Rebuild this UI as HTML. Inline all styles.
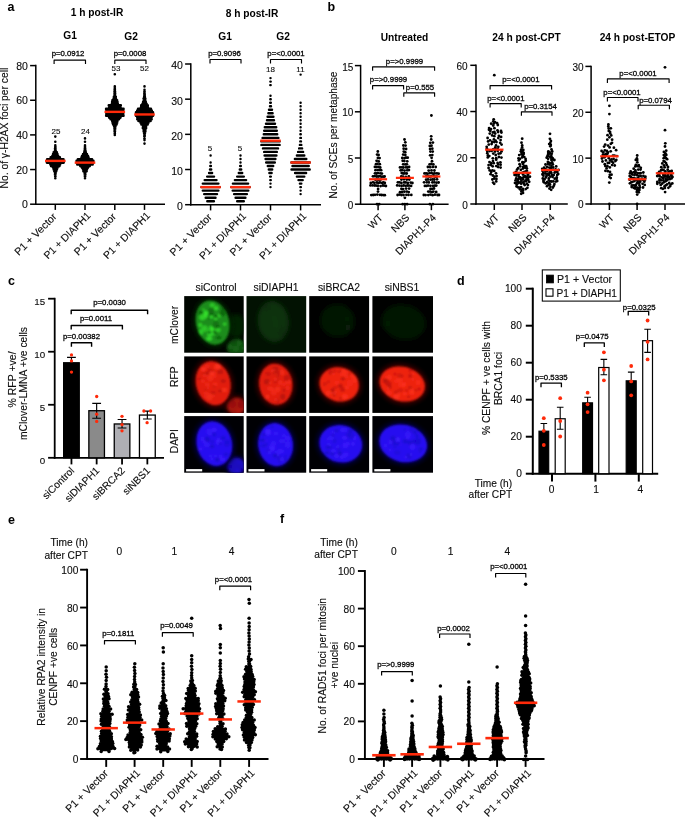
<!DOCTYPE html>
<html lang="en">
<head>
<meta charset="utf-8">
<title>Figure: DIAPH1 and homologous recombination</title>
<style>
html,body{margin:0;padding:0;background:#fff;}
body{width:685px;height:819px;overflow:hidden;}
svg{display:block;font-family:"Liberation Sans", Arial, sans-serif;}
svg text{fill:#0d0d0d;stroke:#0d0d0d;stroke-width:.12px;}
svg text.b{font-weight:700;stroke:none;fill:#000;}
svg text.s{fill:#000;stroke:#000;stroke-width:.28px;}
</style>
</head>
<body>
<svg width="685" height="819" viewBox="0 0 685 819">
<rect width="685" height="819" fill="#fff"/>
<defs>
<filter id="bl1" x="-20%" y="-20%" width="140%" height="140%"><feGaussianBlur stdDeviation="0.85"/></filter>
<filter id="bl2" x="-30%" y="-30%" width="160%" height="160%"><feGaussianBlur stdDeviation="2.2"/></filter>
<filter id="bl3" x="-30%" y="-30%" width="160%" height="160%"><feGaussianBlur stdDeviation="1.5"/></filter>
<clipPath id="t00"><rect x="184.2" y="296.1" width="59.50" height="56.60"/></clipPath>
<clipPath id="t01"><rect x="246.5" y="296.1" width="59.70" height="56.60"/></clipPath>
<clipPath id="t02"><rect x="309.2" y="296.1" width="59.90" height="56.60"/></clipPath>
<clipPath id="t03"><rect x="372.4" y="296.1" width="60.60" height="56.60"/></clipPath>
<clipPath id="t10"><rect x="184.2" y="356.4" width="59.50" height="56.50"/></clipPath>
<clipPath id="t11"><rect x="246.5" y="356.4" width="59.70" height="56.50"/></clipPath>
<clipPath id="t12"><rect x="309.2" y="356.4" width="59.90" height="56.50"/></clipPath>
<clipPath id="t13"><rect x="372.4" y="356.4" width="60.60" height="56.50"/></clipPath>
<clipPath id="t20"><rect x="184.2" y="416.1" width="59.50" height="56.60"/></clipPath>
<clipPath id="t21"><rect x="246.5" y="416.1" width="59.70" height="56.60"/></clipPath>
<clipPath id="t22"><rect x="309.2" y="416.1" width="59.90" height="56.60"/></clipPath>
<clipPath id="t23"><rect x="372.4" y="416.1" width="60.60" height="56.60"/></clipPath>
</defs>
<rect x="184.2" y="296.1" width="59.50" height="56.60" fill="rgb(0,6,0)"/>
<g clip-path="url(#t00)">
<ellipse cx="236" cy="326" rx="9" ry="12" fill="rgb(4,34,4)" filter="url(#bl2)"/>
<clipPath id="e1"><ellipse cx="236.4" cy="347.4" rx="9.5" ry="9.0" transform="rotate(0 236.4 347.4)"/></clipPath>
<g filter="url(#bl3)">
<ellipse cx="236.4" cy="347.4" rx="9.5" ry="9.0" transform="rotate(0 236.4 347.4)" fill="rgb(14,80,14)"/>
<g clip-path="url(#e1)">
<ellipse cx="236.9" cy="353.0" rx="2.0" ry="1.3" fill="rgb(9,58,9)" opacity="0.8"/>
<ellipse cx="243.8" cy="348.0" rx="1.8" ry="1.6" fill="rgb(23,107,23)" opacity="0.8"/>
<ellipse cx="239.3" cy="342.9" rx="2.5" ry="2.8" fill="rgb(22,102,22)" opacity="0.8"/>
<ellipse cx="229.5" cy="346.4" rx="2.6" ry="2.5" fill="rgb(22,104,22)" opacity="0.8"/>
<ellipse cx="235.9" cy="348.7" rx="2.9" ry="3.3" fill="rgb(22,104,22)" opacity="0.8"/>
<ellipse cx="234.7" cy="340.2" rx="2.1" ry="2.4" fill="rgb(9,61,9)" opacity="0.8"/>
</g></g>
<clipPath id="e2"><ellipse cx="212.6" cy="322.6" rx="16.6" ry="22.4" transform="rotate(-14 212.6 322.6)"/></clipPath>
<ellipse cx="212.6" cy="322.6" rx="19.6" ry="25.4" transform="rotate(-14 212.6 322.6)" fill="rgb(3,26,3)" filter="url(#bl2)"/>
<g filter="url(#bl1)">
<ellipse cx="212.6" cy="322.6" rx="16.6" ry="22.4" transform="rotate(-14 212.6 322.6)" fill="rgb(26,140,26)"/>
<g clip-path="url(#e2)">
<ellipse cx="215.8" cy="318.5" rx="1.6" ry="1.3" fill="rgb(63,253,51)" opacity="0.8"/>
<ellipse cx="207.2" cy="315.1" rx="2.3" ry="2.2" fill="rgb(51,217,43)" opacity="0.8"/>
<ellipse cx="201.0" cy="313.5" rx="2.6" ry="3.1" fill="rgb(15,95,15)" opacity="0.8"/>
<ellipse cx="209.9" cy="315.8" rx="2.9" ry="2.8" fill="rgb(15,94,15)" opacity="0.8"/>
<ellipse cx="211.1" cy="314.1" rx="2.9" ry="1.8" fill="rgb(18,109,18)" opacity="0.8"/>
<ellipse cx="221.1" cy="307.6" rx="1.5" ry="1.0" fill="rgb(18,106,18)" opacity="0.8"/>
<ellipse cx="209.2" cy="338.7" rx="3.0" ry="1.9" fill="rgb(56,232,46)" opacity="0.8"/>
<ellipse cx="211.0" cy="311.9" rx="3.0" ry="3.6" fill="rgb(17,103,17)" opacity="0.8"/>
<ellipse cx="211.2" cy="327.5" rx="2.4" ry="2.1" fill="rgb(48,208,41)" opacity="0.8"/>
<ellipse cx="208.3" cy="317.8" rx="1.4" ry="1.6" fill="rgb(18,108,18)" opacity="0.8"/>
<ellipse cx="219.5" cy="315.5" rx="2.2" ry="2.1" fill="rgb(57,234,47)" opacity="0.8"/>
<ellipse cx="202.3" cy="317.1" rx="3.1" ry="3.2" fill="rgb(53,222,44)" opacity="0.8"/>
<ellipse cx="213.2" cy="333.0" rx="3.2" ry="1.9" fill="rgb(55,229,46)" opacity="0.8"/>
<ellipse cx="203.3" cy="330.0" rx="1.3" ry="0.9" fill="rgb(17,100,17)" opacity="0.8"/>
<ellipse cx="205.9" cy="313.3" rx="2.6" ry="2.7" fill="rgb(58,238,48)" opacity="0.8"/>
<ellipse cx="216.0" cy="323.3" rx="2.6" ry="2.3" fill="rgb(19,109,19)" opacity="0.8"/>
<ellipse cx="205.9" cy="316.7" rx="2.0" ry="1.9" fill="rgb(52,218,43)" opacity="0.8"/>
<ellipse cx="209.9" cy="333.7" rx="2.8" ry="2.9" fill="rgb(55,230,46)" opacity="0.8"/>
<ellipse cx="210.1" cy="331.0" rx="2.8" ry="2.4" fill="rgb(48,208,41)" opacity="0.8"/>
<ellipse cx="211.2" cy="316.8" rx="1.9" ry="1.6" fill="rgb(60,245,49)" opacity="0.8"/>
<ellipse cx="216.2" cy="316.4" rx="1.9" ry="1.7" fill="rgb(15,94,15)" opacity="0.8"/>
<ellipse cx="213.4" cy="329.1" rx="2.3" ry="2.5" fill="rgb(60,243,49)" opacity="0.8"/>
<ellipse cx="215.6" cy="331.8" rx="2.8" ry="2.3" fill="rgb(16,96,16)" opacity="0.8"/>
<ellipse cx="217.8" cy="330.1" rx="2.8" ry="2.4" fill="rgb(51,217,43)" opacity="0.8"/>
<ellipse cx="204.7" cy="328.5" rx="3.0" ry="3.6" fill="rgb(45,197,39)" opacity="0.8"/>
<ellipse cx="222.8" cy="309.6" rx="2.1" ry="1.6" fill="rgb(15,93,15)" opacity="0.8"/>
<ellipse cx="212.2" cy="305.2" rx="2.6" ry="2.1" fill="rgb(50,214,42)" opacity="0.8"/>
<ellipse cx="213.1" cy="327.5" rx="2.4" ry="1.5" fill="rgb(60,244,49)" opacity="0.8"/>
<ellipse cx="222.3" cy="313.6" rx="3.1" ry="2.9" fill="rgb(15,94,15)" opacity="0.8"/>
<ellipse cx="224.7" cy="324.0" rx="1.6" ry="1.5" fill="rgb(57,235,47)" opacity="0.8"/>
<ellipse cx="200.9" cy="332.1" rx="2.5" ry="2.8" fill="rgb(49,212,42)" opacity="0.8"/>
<ellipse cx="200.2" cy="325.0" rx="2.0" ry="2.1" fill="rgb(55,228,45)" opacity="0.8"/>
<ellipse cx="218.6" cy="337.5" rx="3.1" ry="1.8" fill="rgb(15,96,15)" opacity="0.8"/>
<ellipse cx="203.5" cy="309.8" rx="1.4" ry="1.3" fill="rgb(50,212,42)" opacity="0.8"/>
<ellipse cx="204.0" cy="328.7" rx="2.8" ry="1.9" fill="rgb(46,200,39)" opacity="0.8"/>
<ellipse cx="215.2" cy="326.1" rx="3.2" ry="2.8" fill="rgb(20,113,20)" opacity="0.8"/>
<ellipse cx="209.4" cy="332.4" rx="2.0" ry="1.6" fill="rgb(17,101,17)" opacity="0.8"/>
<ellipse cx="215.5" cy="332.8" rx="1.5" ry="1.3" fill="rgb(16,98,16)" opacity="0.8"/>
<ellipse cx="217.8" cy="326.5" rx="2.0" ry="1.7" fill="rgb(16,97,16)" opacity="0.8"/>
<ellipse cx="216.1" cy="308.3" rx="2.1" ry="2.2" fill="rgb(54,226,45)" opacity="0.8"/>
</g></g>
</g>
<rect x="246.5" y="296.1" width="59.70" height="56.60" fill="rgb(2,18,2)"/>
<g clip-path="url(#t01)">
<clipPath id="e3"><ellipse cx="273.2" cy="321.5" rx="15.5" ry="20.5" transform="rotate(-8 273.2 321.5)"/></clipPath>
<g filter="url(#bl2)">
<ellipse cx="273.2" cy="321.5" rx="15.5" ry="20.5" transform="rotate(-8 273.2 321.5)" fill="rgb(12,50,12)"/>
<g clip-path="url(#e3)">
<ellipse cx="263.6" cy="328.5" rx="2.2" ry="2.2" fill="rgb(16,59,16)" opacity="0.8"/>
<ellipse cx="280.9" cy="326.4" rx="2.1" ry="1.7" fill="rgb(8,38,8)" opacity="0.8"/>
<ellipse cx="282.6" cy="312.2" rx="1.8" ry="2.0" fill="rgb(15,56,15)" opacity="0.8"/>
<ellipse cx="266.7" cy="307.5" rx="2.8" ry="2.6" fill="rgb(8,39,8)" opacity="0.8"/>
<ellipse cx="281.3" cy="329.6" rx="1.3" ry="0.8" fill="rgb(17,60,17)" opacity="0.8"/>
<ellipse cx="276.7" cy="324.5" rx="3.0" ry="3.3" fill="rgb(15,56,15)" opacity="0.8"/>
<ellipse cx="282.0" cy="332.6" rx="2.6" ry="2.4" fill="rgb(8,38,8)" opacity="0.8"/>
<ellipse cx="274.0" cy="318.3" rx="2.8" ry="1.8" fill="rgb(17,60,17)" opacity="0.8"/>
</g></g>
</g>
<rect x="309.2" y="296.1" width="59.90" height="56.60" fill="rgb(0,1,0)"/>
<g clip-path="url(#t02)">
<clipPath id="e4"><ellipse cx="337.4" cy="320.6" rx="17.5" ry="16.5" transform="rotate(10 337.4 320.6)"/></clipPath>
<g filter="url(#bl2)">
<ellipse cx="337.4" cy="320.6" rx="17.5" ry="16.5" transform="rotate(10 337.4 320.6)" fill="rgb(5,23,5)"/>
<g clip-path="url(#e4)">
<ellipse cx="337.3" cy="307.0" rx="1.4" ry="1.6" fill="rgb(7,30,7)" opacity="0.8"/>
<ellipse cx="337.7" cy="326.5" rx="1.8" ry="1.5" fill="rgb(3,16,3)" opacity="0.8"/>
<ellipse cx="331.1" cy="327.1" rx="2.0" ry="1.8" fill="rgb(6,27,6)" opacity="0.8"/>
<ellipse cx="346.8" cy="319.1" rx="2.7" ry="2.9" fill="rgb(7,30,7)" opacity="0.8"/>
<ellipse cx="332.5" cy="311.6" rx="2.2" ry="1.5" fill="rgb(3,16,3)" opacity="0.8"/>
<ellipse cx="348.0" cy="327.5" rx="3.0" ry="3.1" fill="rgb(7,29,7)" opacity="0.8"/>
<ellipse cx="340.4" cy="327.3" rx="1.7" ry="1.2" fill="rgb(3,18,3)" opacity="0.8"/>
<ellipse cx="332.1" cy="307.8" rx="1.9" ry="2.1" fill="rgb(3,18,3)" opacity="0.8"/>
</g></g>
</g>
<rect x="372.4" y="296.1" width="60.60" height="56.60" fill="rgb(0,1,0)"/>
<g clip-path="url(#t03)">
<clipPath id="e5"><ellipse cx="403.6" cy="322.2" rx="22.5" ry="17.5" transform="rotate(12 403.6 322.2)"/></clipPath>
<g filter="url(#bl2)">
<ellipse cx="403.6" cy="322.2" rx="22.5" ry="17.5" transform="rotate(12 403.6 322.2)" fill="rgb(6,24,6)"/>
<g clip-path="url(#e5)">
<ellipse cx="395.1" cy="318.3" rx="1.7" ry="1.4" fill="rgb(8,29,8)" opacity="0.8"/>
<ellipse cx="409.0" cy="330.1" rx="1.9" ry="2.3" fill="rgb(4,19,4)" opacity="0.8"/>
<ellipse cx="388.9" cy="323.7" rx="2.2" ry="2.0" fill="rgb(4,17,4)" opacity="0.8"/>
<ellipse cx="387.5" cy="323.7" rx="2.9" ry="3.4" fill="rgb(8,30,8)" opacity="0.8"/>
<ellipse cx="394.6" cy="323.6" rx="1.7" ry="2.1" fill="rgb(4,18,4)" opacity="0.8"/>
<ellipse cx="409.3" cy="316.4" rx="1.7" ry="1.7" fill="rgb(7,28,7)" opacity="0.8"/>
<ellipse cx="415.0" cy="311.2" rx="1.8" ry="1.5" fill="rgb(4,19,4)" opacity="0.8"/>
<ellipse cx="402.9" cy="317.9" rx="1.5" ry="1.2" fill="rgb(4,19,4)" opacity="0.8"/>
</g></g>
</g>
<rect x="184.2" y="356.4" width="59.50" height="56.50" fill="rgb(0,0,0)"/>
<g clip-path="url(#t10)">
<clipPath id="e6"><ellipse cx="236.4" cy="406.0" rx="9.5" ry="8.6" transform="rotate(0 236.4 406.0)"/></clipPath>
<ellipse cx="236.4" cy="406.0" rx="12.5" ry="11.6" transform="rotate(0 236.4 406.0)" fill="rgb(40,0,0)" filter="url(#bl2)"/>
<g filter="url(#bl3)">
<ellipse cx="236.4" cy="406.0" rx="9.5" ry="8.6" transform="rotate(0 236.4 406.0)" fill="rgb(165,18,10)"/>
<g clip-path="url(#e6)">
<ellipse cx="230.6" cy="403.1" rx="1.3" ry="1.2" fill="rgb(186,25,14)" opacity="0.8"/>
<ellipse cx="237.9" cy="411.4" rx="3.1" ry="2.1" fill="rgb(188,25,14)" opacity="0.8"/>
<ellipse cx="235.4" cy="411.9" rx="1.5" ry="1.0" fill="rgb(126,12,8)" opacity="0.8"/>
<ellipse cx="241.0" cy="404.4" rx="2.8" ry="2.8" fill="rgb(139,14,8)" opacity="0.8"/>
<ellipse cx="232.3" cy="400.6" rx="1.8" ry="1.8" fill="rgb(125,12,8)" opacity="0.8"/>
<ellipse cx="233.8" cy="405.4" rx="2.2" ry="2.3" fill="rgb(190,26,15)" opacity="0.8"/>
<ellipse cx="233.3" cy="404.7" rx="2.5" ry="2.9" fill="rgb(141,14,8)" opacity="0.8"/>
</g></g>
<clipPath id="e7"><ellipse cx="213.2" cy="383.2" rx="17.2" ry="22.2" transform="rotate(-14 213.2 383.2)"/></clipPath>
<ellipse cx="213.2" cy="383.2" rx="20.2" ry="25.2" transform="rotate(-14 213.2 383.2)" fill="rgb(56,3,0)" filter="url(#bl2)"/>
<g filter="url(#bl1)">
<ellipse cx="213.2" cy="383.2" rx="17.2" ry="22.2" transform="rotate(-14 213.2 383.2)" fill="rgb(226,30,16)"/>
<g clip-path="url(#e7)">
<ellipse cx="210.3" cy="377.7" rx="3.1" ry="3.2" fill="rgb(245,44,25)" opacity="0.8"/>
<ellipse cx="204.3" cy="375.1" rx="2.5" ry="1.8" fill="rgb(245,44,25)" opacity="0.8"/>
<ellipse cx="224.4" cy="389.9" rx="2.7" ry="2.2" fill="rgb(251,49,28)" opacity="0.8"/>
<ellipse cx="212.3" cy="394.8" rx="3.0" ry="2.2" fill="rgb(247,46,26)" opacity="0.8"/>
<ellipse cx="214.2" cy="372.1" rx="1.9" ry="2.1" fill="rgb(248,46,26)" opacity="0.8"/>
<ellipse cx="205.1" cy="397.1" rx="1.5" ry="1.0" fill="rgb(241,42,23)" opacity="0.8"/>
<ellipse cx="215.5" cy="367.4" rx="1.7" ry="1.7" fill="rgb(246,45,25)" opacity="0.8"/>
<ellipse cx="218.3" cy="368.2" rx="2.4" ry="1.7" fill="rgb(246,45,25)" opacity="0.8"/>
<ellipse cx="202.3" cy="380.7" rx="1.7" ry="1.0" fill="rgb(251,49,28)" opacity="0.8"/>
<ellipse cx="217.7" cy="366.4" rx="3.1" ry="2.9" fill="rgb(248,47,26)" opacity="0.8"/>
<ellipse cx="203.6" cy="369.3" rx="2.6" ry="2.3" fill="rgb(252,50,29)" opacity="0.8"/>
<ellipse cx="203.2" cy="373.6" rx="1.3" ry="1.2" fill="rgb(186,21,12)" opacity="0.8"/>
<ellipse cx="203.4" cy="381.3" rx="1.7" ry="1.5" fill="rgb(241,41,23)" opacity="0.8"/>
<ellipse cx="207.3" cy="373.2" rx="2.4" ry="1.6" fill="rgb(180,20,12)" opacity="0.8"/>
<ellipse cx="216.2" cy="368.8" rx="1.4" ry="0.9" fill="rgb(243,43,24)" opacity="0.8"/>
<ellipse cx="199.5" cy="378.8" rx="1.9" ry="1.3" fill="rgb(185,21,12)" opacity="0.8"/>
<ellipse cx="220.3" cy="371.8" rx="3.1" ry="2.5" fill="rgb(184,21,12)" opacity="0.8"/>
<ellipse cx="218.1" cy="366.1" rx="2.9" ry="2.6" fill="rgb(251,49,28)" opacity="0.8"/>
<ellipse cx="215.5" cy="385.7" rx="1.4" ry="1.3" fill="rgb(242,42,24)" opacity="0.8"/>
<ellipse cx="209.8" cy="370.1" rx="2.1" ry="1.8" fill="rgb(194,23,13)" opacity="0.8"/>
<ellipse cx="213.6" cy="371.3" rx="1.6" ry="1.3" fill="rgb(184,21,12)" opacity="0.8"/>
<ellipse cx="205.9" cy="393.2" rx="2.4" ry="1.8" fill="rgb(240,41,23)" opacity="0.8"/>
<ellipse cx="214.3" cy="376.2" rx="2.2" ry="1.5" fill="rgb(243,43,24)" opacity="0.8"/>
<ellipse cx="208.3" cy="387.6" rx="1.4" ry="1.2" fill="rgb(242,42,24)" opacity="0.8"/>
<ellipse cx="215.2" cy="384.2" rx="2.2" ry="1.4" fill="rgb(250,48,27)" opacity="0.8"/>
<ellipse cx="205.6" cy="390.0" rx="1.4" ry="0.9" fill="rgb(196,23,13)" opacity="0.8"/>
<ellipse cx="207.3" cy="384.4" rx="2.5" ry="1.6" fill="rgb(242,42,23)" opacity="0.8"/>
<ellipse cx="212.1" cy="373.4" rx="2.8" ry="2.2" fill="rgb(254,51,29)" opacity="0.8"/>
<ellipse cx="213.2" cy="392.9" rx="2.8" ry="1.9" fill="rgb(193,23,13)" opacity="0.8"/>
<ellipse cx="207.3" cy="366.3" rx="2.4" ry="1.6" fill="rgb(240,41,23)" opacity="0.8"/>
<ellipse cx="214.5" cy="386.4" rx="1.4" ry="1.0" fill="rgb(180,20,12)" opacity="0.8"/>
<ellipse cx="223.2" cy="381.1" rx="2.8" ry="1.8" fill="rgb(179,20,12)" opacity="0.8"/>
<ellipse cx="209.4" cy="397.0" rx="3.1" ry="3.4" fill="rgb(244,44,25)" opacity="0.8"/>
<ellipse cx="220.1" cy="391.0" rx="1.9" ry="1.4" fill="rgb(179,20,12)" opacity="0.8"/>
</g></g>
</g>
<rect x="246.5" y="356.4" width="59.70" height="56.50" fill="rgb(0,0,0)"/>
<g clip-path="url(#t11)">
<clipPath id="e8"><ellipse cx="275.8" cy="384.2" rx="16.6" ry="20.6" transform="rotate(-8 275.8 384.2)"/></clipPath>
<ellipse cx="275.8" cy="384.2" rx="19.6" ry="23.6" transform="rotate(-8 275.8 384.2)" fill="rgb(56,3,0)" filter="url(#bl2)"/>
<g filter="url(#bl1)">
<ellipse cx="275.8" cy="384.2" rx="16.6" ry="20.6" transform="rotate(-8 275.8 384.2)" fill="rgb(226,30,16)"/>
<g clip-path="url(#e8)">
<ellipse cx="275.0" cy="369.2" rx="2.9" ry="2.4" fill="rgb(179,20,12)" opacity="0.8"/>
<ellipse cx="270.0" cy="388.5" rx="2.8" ry="2.0" fill="rgb(244,43,24)" opacity="0.8"/>
<ellipse cx="273.8" cy="370.8" rx="2.7" ry="1.8" fill="rgb(247,46,26)" opacity="0.8"/>
<ellipse cx="275.3" cy="381.6" rx="2.2" ry="1.4" fill="rgb(185,21,12)" opacity="0.8"/>
<ellipse cx="276.8" cy="400.2" rx="2.5" ry="2.2" fill="rgb(181,20,12)" opacity="0.8"/>
<ellipse cx="285.4" cy="375.2" rx="1.9" ry="1.6" fill="rgb(241,41,23)" opacity="0.8"/>
<ellipse cx="280.2" cy="382.6" rx="2.4" ry="2.4" fill="rgb(241,41,23)" opacity="0.8"/>
<ellipse cx="276.0" cy="388.1" rx="1.6" ry="1.0" fill="rgb(187,22,12)" opacity="0.8"/>
<ellipse cx="277.5" cy="401.3" rx="1.7" ry="1.8" fill="rgb(191,22,13)" opacity="0.8"/>
<ellipse cx="265.9" cy="374.7" rx="2.3" ry="1.5" fill="rgb(243,42,24)" opacity="0.8"/>
<ellipse cx="278.0" cy="379.0" rx="1.3" ry="1.5" fill="rgb(197,24,13)" opacity="0.8"/>
<ellipse cx="284.1" cy="390.3" rx="1.7" ry="1.7" fill="rgb(187,21,12)" opacity="0.8"/>
<ellipse cx="276.7" cy="367.9" rx="2.0" ry="1.3" fill="rgb(191,22,13)" opacity="0.8"/>
<ellipse cx="281.4" cy="372.6" rx="2.8" ry="2.5" fill="rgb(248,46,26)" opacity="0.8"/>
<ellipse cx="275.3" cy="379.4" rx="2.0" ry="1.8" fill="rgb(241,41,23)" opacity="0.8"/>
<ellipse cx="275.0" cy="372.9" rx="2.5" ry="2.1" fill="rgb(196,23,13)" opacity="0.8"/>
<ellipse cx="284.0" cy="383.9" rx="2.1" ry="1.5" fill="rgb(243,43,24)" opacity="0.8"/>
<ellipse cx="286.7" cy="377.9" rx="3.0" ry="3.4" fill="rgb(187,21,12)" opacity="0.8"/>
<ellipse cx="266.9" cy="381.7" rx="3.1" ry="2.8" fill="rgb(179,20,12)" opacity="0.8"/>
<ellipse cx="277.1" cy="373.2" rx="3.2" ry="3.7" fill="rgb(194,23,13)" opacity="0.8"/>
<ellipse cx="277.5" cy="389.2" rx="2.7" ry="2.6" fill="rgb(248,46,26)" opacity="0.8"/>
<ellipse cx="287.6" cy="388.0" rx="1.8" ry="1.9" fill="rgb(245,44,25)" opacity="0.8"/>
<ellipse cx="275.6" cy="374.8" rx="1.5" ry="1.0" fill="rgb(246,45,25)" opacity="0.8"/>
<ellipse cx="282.8" cy="396.8" rx="2.6" ry="3.0" fill="rgb(178,20,12)" opacity="0.8"/>
<ellipse cx="271.9" cy="389.2" rx="1.9" ry="1.8" fill="rgb(248,46,26)" opacity="0.8"/>
<ellipse cx="267.5" cy="396.7" rx="1.8" ry="2.0" fill="rgb(253,50,29)" opacity="0.8"/>
<ellipse cx="273.8" cy="392.4" rx="2.8" ry="2.6" fill="rgb(242,42,23)" opacity="0.8"/>
<ellipse cx="270.2" cy="382.6" rx="1.4" ry="1.2" fill="rgb(251,49,28)" opacity="0.8"/>
<ellipse cx="288.2" cy="382.2" rx="3.2" ry="1.9" fill="rgb(243,43,24)" opacity="0.8"/>
<ellipse cx="268.3" cy="388.4" rx="1.4" ry="1.1" fill="rgb(241,42,23)" opacity="0.8"/>
<ellipse cx="276.0" cy="399.9" rx="2.1" ry="1.8" fill="rgb(241,41,23)" opacity="0.8"/>
<ellipse cx="267.7" cy="373.9" rx="3.0" ry="2.1" fill="rgb(196,23,13)" opacity="0.8"/>
</g></g>
</g>
<rect x="309.2" y="356.4" width="59.90" height="56.50" fill="rgb(0,0,0)"/>
<g clip-path="url(#t12)">
<clipPath id="e9"><ellipse cx="339.2" cy="384.4" rx="19.8" ry="17.0" transform="rotate(14 339.2 384.4)"/></clipPath>
<ellipse cx="339.2" cy="384.4" rx="22.8" ry="20.0" transform="rotate(14 339.2 384.4)" fill="rgb(56,3,0)" filter="url(#bl2)"/>
<g filter="url(#bl1)">
<ellipse cx="339.2" cy="384.4" rx="19.8" ry="17.0" transform="rotate(14 339.2 384.4)" fill="rgb(238,34,16)"/>
<g clip-path="url(#e9)">
<ellipse cx="340.0" cy="371.6" rx="2.3" ry="1.7" fill="rgb(191,23,12)" opacity="0.8"/>
<ellipse cx="340.3" cy="386.0" rx="2.5" ry="2.2" fill="rgb(180,20,12)" opacity="0.8"/>
<ellipse cx="331.0" cy="372.4" rx="2.8" ry="2.6" fill="rgb(195,24,13)" opacity="0.8"/>
<ellipse cx="342.6" cy="389.8" rx="2.6" ry="2.2" fill="rgb(191,23,12)" opacity="0.8"/>
<ellipse cx="332.4" cy="392.2" rx="2.8" ry="2.0" fill="rgb(254,51,29)" opacity="0.8"/>
<ellipse cx="334.4" cy="394.0" rx="2.1" ry="2.4" fill="rgb(183,21,12)" opacity="0.8"/>
<ellipse cx="337.0" cy="382.8" rx="2.4" ry="1.8" fill="rgb(250,47,26)" opacity="0.8"/>
<ellipse cx="335.1" cy="371.0" rx="1.5" ry="1.4" fill="rgb(196,24,13)" opacity="0.8"/>
<ellipse cx="352.3" cy="375.8" rx="2.5" ry="1.8" fill="rgb(254,51,29)" opacity="0.8"/>
<ellipse cx="327.8" cy="393.2" rx="1.9" ry="2.2" fill="rgb(254,51,29)" opacity="0.8"/>
<ellipse cx="334.9" cy="392.7" rx="1.8" ry="2.2" fill="rgb(248,45,24)" opacity="0.8"/>
<ellipse cx="346.3" cy="387.7" rx="1.7" ry="1.8" fill="rgb(250,47,26)" opacity="0.8"/>
<ellipse cx="346.2" cy="374.6" rx="2.9" ry="3.4" fill="rgb(248,45,24)" opacity="0.8"/>
<ellipse cx="347.1" cy="387.6" rx="2.2" ry="1.4" fill="rgb(251,47,26)" opacity="0.8"/>
<ellipse cx="340.7" cy="398.5" rx="1.6" ry="1.9" fill="rgb(202,25,13)" opacity="0.8"/>
<ellipse cx="333.0" cy="374.1" rx="1.6" ry="1.1" fill="rgb(252,49,28)" opacity="0.8"/>
<ellipse cx="344.9" cy="396.6" rx="3.0" ry="2.7" fill="rgb(254,51,29)" opacity="0.8"/>
<ellipse cx="335.1" cy="387.6" rx="2.0" ry="1.4" fill="rgb(199,25,13)" opacity="0.8"/>
<ellipse cx="342.9" cy="388.5" rx="2.0" ry="1.4" fill="rgb(205,26,13)" opacity="0.8"/>
<ellipse cx="354.8" cy="379.0" rx="3.2" ry="3.7" fill="rgb(249,46,25)" opacity="0.8"/>
<ellipse cx="325.1" cy="385.5" rx="1.9" ry="2.0" fill="rgb(249,46,25)" opacity="0.8"/>
<ellipse cx="341.7" cy="373.7" rx="2.2" ry="2.0" fill="rgb(250,46,26)" opacity="0.8"/>
<ellipse cx="343.0" cy="378.8" rx="2.4" ry="1.7" fill="rgb(182,21,12)" opacity="0.8"/>
<ellipse cx="354.2" cy="381.4" rx="1.6" ry="1.0" fill="rgb(248,44,24)" opacity="0.8"/>
<ellipse cx="349.9" cy="383.1" rx="3.0" ry="3.3" fill="rgb(246,43,23)" opacity="0.8"/>
<ellipse cx="343.8" cy="370.6" rx="2.6" ry="1.7" fill="rgb(253,49,28)" opacity="0.8"/>
<ellipse cx="328.4" cy="382.0" rx="1.6" ry="1.4" fill="rgb(198,24,13)" opacity="0.8"/>
<ellipse cx="332.6" cy="390.2" rx="2.0" ry="2.3" fill="rgb(178,20,12)" opacity="0.8"/>
<ellipse cx="349.2" cy="374.3" rx="1.8" ry="1.2" fill="rgb(199,25,13)" opacity="0.8"/>
<ellipse cx="324.8" cy="384.3" rx="1.9" ry="2.3" fill="rgb(199,25,13)" opacity="0.8"/>
</g></g>
</g>
<rect x="372.4" y="356.4" width="60.60" height="56.50" fill="rgb(0,0,0)"/>
<g clip-path="url(#t13)">
<clipPath id="e10"><ellipse cx="402.3" cy="384.0" rx="23.0" ry="17.2" transform="rotate(14 402.3 384.0)"/></clipPath>
<ellipse cx="402.3" cy="384.0" rx="26.0" ry="20.2" transform="rotate(14 402.3 384.0)" fill="rgb(56,3,0)" filter="url(#bl2)"/>
<g filter="url(#bl1)">
<ellipse cx="402.3" cy="384.0" rx="23.0" ry="17.2" transform="rotate(14 402.3 384.0)" fill="rgb(238,34,16)"/>
<g clip-path="url(#e10)">
<ellipse cx="389.4" cy="386.9" rx="2.3" ry="2.1" fill="rgb(178,20,12)" opacity="0.8"/>
<ellipse cx="388.0" cy="388.1" rx="1.4" ry="1.5" fill="rgb(253,50,28)" opacity="0.8"/>
<ellipse cx="419.1" cy="388.9" rx="2.0" ry="1.5" fill="rgb(197,24,13)" opacity="0.8"/>
<ellipse cx="384.8" cy="379.9" rx="2.1" ry="1.7" fill="rgb(186,22,12)" opacity="0.8"/>
<ellipse cx="398.0" cy="393.9" rx="2.1" ry="2.3" fill="rgb(252,48,27)" opacity="0.8"/>
<ellipse cx="395.9" cy="381.2" rx="1.7" ry="1.2" fill="rgb(251,48,27)" opacity="0.8"/>
<ellipse cx="411.9" cy="388.1" rx="1.8" ry="2.1" fill="rgb(251,47,26)" opacity="0.8"/>
<ellipse cx="385.9" cy="381.3" rx="2.9" ry="2.5" fill="rgb(180,20,12)" opacity="0.8"/>
<ellipse cx="399.5" cy="379.4" rx="3.0" ry="3.4" fill="rgb(250,47,26)" opacity="0.8"/>
<ellipse cx="400.3" cy="390.2" rx="2.9" ry="1.8" fill="rgb(205,26,13)" opacity="0.8"/>
<ellipse cx="401.3" cy="385.0" rx="2.9" ry="2.4" fill="rgb(248,45,24)" opacity="0.8"/>
<ellipse cx="389.5" cy="383.3" rx="2.5" ry="1.6" fill="rgb(194,23,13)" opacity="0.8"/>
<ellipse cx="418.4" cy="382.4" rx="1.5" ry="1.7" fill="rgb(252,49,28)" opacity="0.8"/>
<ellipse cx="404.0" cy="384.6" rx="2.2" ry="2.4" fill="rgb(254,51,29)" opacity="0.8"/>
<ellipse cx="396.1" cy="392.2" rx="2.4" ry="2.0" fill="rgb(201,25,13)" opacity="0.8"/>
<ellipse cx="415.6" cy="390.2" rx="1.4" ry="1.3" fill="rgb(192,23,12)" opacity="0.8"/>
<ellipse cx="410.4" cy="387.6" rx="2.2" ry="1.7" fill="rgb(191,23,12)" opacity="0.8"/>
<ellipse cx="418.1" cy="382.7" rx="2.3" ry="2.6" fill="rgb(249,45,25)" opacity="0.8"/>
<ellipse cx="411.9" cy="391.9" rx="2.5" ry="2.8" fill="rgb(253,49,28)" opacity="0.8"/>
<ellipse cx="412.8" cy="374.2" rx="1.7" ry="1.3" fill="rgb(250,46,26)" opacity="0.8"/>
<ellipse cx="408.6" cy="396.8" rx="1.7" ry="1.1" fill="rgb(179,20,12)" opacity="0.8"/>
<ellipse cx="412.8" cy="379.2" rx="1.7" ry="1.5" fill="rgb(246,43,23)" opacity="0.8"/>
<ellipse cx="388.8" cy="393.0" rx="2.9" ry="2.4" fill="rgb(249,46,25)" opacity="0.8"/>
<ellipse cx="406.6" cy="390.6" rx="1.8" ry="1.2" fill="rgb(197,24,13)" opacity="0.8"/>
<ellipse cx="404.7" cy="393.6" rx="2.4" ry="1.7" fill="rgb(252,49,27)" opacity="0.8"/>
<ellipse cx="395.0" cy="374.0" rx="1.6" ry="1.5" fill="rgb(196,24,13)" opacity="0.8"/>
<ellipse cx="389.6" cy="377.3" rx="2.1" ry="2.4" fill="rgb(253,50,28)" opacity="0.8"/>
<ellipse cx="387.5" cy="384.7" rx="1.8" ry="1.3" fill="rgb(187,22,12)" opacity="0.8"/>
<ellipse cx="410.3" cy="370.8" rx="2.0" ry="1.4" fill="rgb(193,23,13)" opacity="0.8"/>
<ellipse cx="399.9" cy="375.7" rx="2.7" ry="2.5" fill="rgb(204,26,13)" opacity="0.8"/>
<ellipse cx="410.3" cy="375.9" rx="2.3" ry="2.1" fill="rgb(194,23,13)" opacity="0.8"/>
<ellipse cx="386.9" cy="377.4" rx="1.7" ry="1.6" fill="rgb(252,49,28)" opacity="0.8"/>
<ellipse cx="396.3" cy="397.1" rx="3.0" ry="3.3" fill="rgb(254,51,29)" opacity="0.8"/>
<ellipse cx="402.2" cy="376.1" rx="1.3" ry="1.1" fill="rgb(185,21,12)" opacity="0.8"/>
</g></g>
</g>
<rect x="184.2" y="416.1" width="59.50" height="56.60" fill="rgb(0,0,4)"/>
<g clip-path="url(#t20)">
<clipPath id="e11"><ellipse cx="236.2" cy="466.0" rx="9.0" ry="8.5" transform="rotate(0 236.2 466.0)"/></clipPath>
<ellipse cx="236.2" cy="466.0" rx="12.0" ry="11.5" transform="rotate(0 236.2 466.0)" fill="rgb(0,0,40)" filter="url(#bl2)"/>
<g filter="url(#bl3)">
<ellipse cx="236.2" cy="466.0" rx="9.0" ry="8.5" transform="rotate(0 236.2 466.0)" fill="rgb(26,8,190)"/>
<g clip-path="url(#e11)">
<ellipse cx="230.5" cy="466.7" rx="1.8" ry="1.5" fill="rgb(16,4,154)" opacity="0.8"/>
<ellipse cx="240.6" cy="469.4" rx="1.9" ry="1.6" fill="rgb(18,5,163)" opacity="0.8"/>
<ellipse cx="237.8" cy="470.4" rx="2.4" ry="2.1" fill="rgb(33,12,205)" opacity="0.8"/>
<ellipse cx="237.8" cy="470.9" rx="1.6" ry="1.9" fill="rgb(36,14,213)" opacity="0.8"/>
<ellipse cx="239.9" cy="462.2" rx="2.1" ry="1.6" fill="rgb(34,13,209)" opacity="0.8"/>
</g></g>
<clipPath id="e12"><ellipse cx="214.3" cy="443.6" rx="17.6" ry="22.6" transform="rotate(-14 214.3 443.6)"/></clipPath>
<ellipse cx="214.3" cy="443.6" rx="20.6" ry="25.6" transform="rotate(-14 214.3 443.6)" fill="rgb(3,2,58)" filter="url(#bl2)"/>
<g filter="url(#bl1)">
<ellipse cx="214.3" cy="443.6" rx="17.6" ry="22.6" transform="rotate(-14 214.3 443.6)" fill="rgb(40,12,240)"/>
<g clip-path="url(#e12)">
<ellipse cx="219.1" cy="441.2" rx="3.1" ry="2.3" fill="rgb(57,26,250)" opacity="0.8"/>
<ellipse cx="220.6" cy="441.7" rx="2.4" ry="1.8" fill="rgb(54,23,248)" opacity="0.8"/>
<ellipse cx="227.5" cy="442.0" rx="2.7" ry="2.8" fill="rgb(31,8,215)" opacity="0.8"/>
<ellipse cx="214.3" cy="434.5" rx="2.2" ry="2.3" fill="rgb(29,8,210)" opacity="0.8"/>
<ellipse cx="220.5" cy="457.1" rx="1.8" ry="2.0" fill="rgb(56,25,250)" opacity="0.8"/>
<ellipse cx="214.0" cy="430.0" rx="2.6" ry="2.0" fill="rgb(61,30,253)" opacity="0.8"/>
<ellipse cx="203.3" cy="439.6" rx="2.0" ry="2.0" fill="rgb(54,23,248)" opacity="0.8"/>
<ellipse cx="217.4" cy="459.8" rx="2.3" ry="2.3" fill="rgb(25,6,199)" opacity="0.8"/>
<ellipse cx="212.1" cy="446.5" rx="2.4" ry="1.7" fill="rgb(24,6,197)" opacity="0.8"/>
<ellipse cx="222.4" cy="459.6" rx="2.7" ry="1.9" fill="rgb(60,29,253)" opacity="0.8"/>
<ellipse cx="202.5" cy="439.3" rx="2.4" ry="2.4" fill="rgb(53,23,248)" opacity="0.8"/>
<ellipse cx="218.5" cy="438.9" rx="1.3" ry="1.1" fill="rgb(61,29,253)" opacity="0.8"/>
<ellipse cx="200.0" cy="448.9" rx="2.5" ry="1.5" fill="rgb(60,29,252)" opacity="0.8"/>
<ellipse cx="211.8" cy="459.3" rx="1.6" ry="1.3" fill="rgb(58,27,251)" opacity="0.8"/>
<ellipse cx="219.0" cy="442.5" rx="2.8" ry="2.4" fill="rgb(61,30,253)" opacity="0.8"/>
<ellipse cx="210.1" cy="434.1" rx="1.7" ry="1.4" fill="rgb(61,30,253)" opacity="0.8"/>
<ellipse cx="215.5" cy="455.9" rx="1.5" ry="1.4" fill="rgb(58,27,251)" opacity="0.8"/>
<ellipse cx="207.7" cy="437.7" rx="1.3" ry="1.0" fill="rgb(56,25,250)" opacity="0.8"/>
<ellipse cx="207.3" cy="439.4" rx="2.7" ry="2.9" fill="rgb(26,7,203)" opacity="0.8"/>
<ellipse cx="204.6" cy="441.9" rx="1.9" ry="1.7" fill="rgb(61,29,253)" opacity="0.8"/>
<ellipse cx="226.0" cy="454.4" rx="2.4" ry="1.6" fill="rgb(28,7,208)" opacity="0.8"/>
<ellipse cx="220.4" cy="443.6" rx="2.0" ry="1.8" fill="rgb(31,8,215)" opacity="0.8"/>
<ellipse cx="206.9" cy="444.8" rx="3.1" ry="2.7" fill="rgb(52,22,247)" opacity="0.8"/>
<ellipse cx="226.9" cy="444.1" rx="3.0" ry="3.0" fill="rgb(31,8,216)" opacity="0.8"/>
<ellipse cx="210.8" cy="456.0" rx="1.9" ry="1.8" fill="rgb(53,23,248)" opacity="0.8"/>
<ellipse cx="226.8" cy="453.6" rx="1.4" ry="0.9" fill="rgb(30,8,213)" opacity="0.8"/>
<ellipse cx="213.9" cy="429.6" rx="2.8" ry="1.8" fill="rgb(59,28,252)" opacity="0.8"/>
<ellipse cx="209.4" cy="431.4" rx="3.1" ry="3.1" fill="rgb(52,22,248)" opacity="0.8"/>
<ellipse cx="223.0" cy="438.0" rx="2.7" ry="2.3" fill="rgb(28,7,209)" opacity="0.8"/>
<ellipse cx="212.3" cy="441.7" rx="1.9" ry="1.7" fill="rgb(29,8,212)" opacity="0.8"/>
</g></g>
<rect x="186.1" y="469.1" width="16.1" height="2.3" fill="#fff"/>
</g>
<rect x="246.5" y="416.1" width="59.70" height="56.60" fill="rgb(0,0,4)"/>
<g clip-path="url(#t21)">
<clipPath id="e13"><ellipse cx="275.6" cy="444.6" rx="17.4" ry="21.6" transform="rotate(-8 275.6 444.6)"/></clipPath>
<ellipse cx="275.6" cy="444.6" rx="20.4" ry="24.6" transform="rotate(-8 275.6 444.6)" fill="rgb(3,2,58)" filter="url(#bl2)"/>
<g filter="url(#bl1)">
<ellipse cx="275.6" cy="444.6" rx="17.4" ry="21.6" transform="rotate(-8 275.6 444.6)" fill="rgb(40,12,240)"/>
<g clip-path="url(#e13)">
<ellipse cx="275.2" cy="455.6" rx="2.5" ry="2.2" fill="rgb(24,6,196)" opacity="0.8"/>
<ellipse cx="278.1" cy="454.8" rx="1.4" ry="1.4" fill="rgb(59,27,251)" opacity="0.8"/>
<ellipse cx="275.9" cy="452.4" rx="1.5" ry="1.1" fill="rgb(58,27,251)" opacity="0.8"/>
<ellipse cx="283.9" cy="435.4" rx="1.9" ry="2.0" fill="rgb(52,22,247)" opacity="0.8"/>
<ellipse cx="275.7" cy="433.5" rx="2.7" ry="2.0" fill="rgb(54,24,249)" opacity="0.8"/>
<ellipse cx="279.4" cy="458.1" rx="2.5" ry="2.7" fill="rgb(31,8,215)" opacity="0.8"/>
<ellipse cx="266.6" cy="446.1" rx="2.3" ry="1.9" fill="rgb(54,24,249)" opacity="0.8"/>
<ellipse cx="268.0" cy="432.3" rx="3.0" ry="3.3" fill="rgb(62,30,254)" opacity="0.8"/>
<ellipse cx="272.2" cy="426.9" rx="1.6" ry="1.1" fill="rgb(24,6,198)" opacity="0.8"/>
<ellipse cx="263.7" cy="434.6" rx="1.9" ry="1.6" fill="rgb(24,6,198)" opacity="0.8"/>
<ellipse cx="279.8" cy="451.3" rx="2.9" ry="2.5" fill="rgb(55,25,249)" opacity="0.8"/>
<ellipse cx="282.3" cy="440.6" rx="1.3" ry="1.1" fill="rgb(29,8,211)" opacity="0.8"/>
<ellipse cx="283.4" cy="443.1" rx="1.5" ry="1.1" fill="rgb(30,8,212)" opacity="0.8"/>
<ellipse cx="282.1" cy="441.2" rx="3.0" ry="2.2" fill="rgb(55,25,249)" opacity="0.8"/>
<ellipse cx="264.9" cy="441.0" rx="2.1" ry="2.3" fill="rgb(55,24,249)" opacity="0.8"/>
<ellipse cx="287.3" cy="438.2" rx="2.9" ry="2.1" fill="rgb(55,24,249)" opacity="0.8"/>
<ellipse cx="283.8" cy="459.5" rx="3.0" ry="2.0" fill="rgb(27,7,205)" opacity="0.8"/>
<ellipse cx="272.5" cy="446.5" rx="3.0" ry="3.5" fill="rgb(55,24,249)" opacity="0.8"/>
<ellipse cx="279.9" cy="461.4" rx="1.9" ry="2.2" fill="rgb(31,8,215)" opacity="0.8"/>
<ellipse cx="268.6" cy="451.0" rx="2.5" ry="1.7" fill="rgb(29,8,212)" opacity="0.8"/>
<ellipse cx="273.5" cy="443.3" rx="3.0" ry="2.4" fill="rgb(54,23,248)" opacity="0.8"/>
<ellipse cx="281.9" cy="451.4" rx="2.3" ry="1.8" fill="rgb(56,25,250)" opacity="0.8"/>
<ellipse cx="262.6" cy="446.0" rx="2.1" ry="1.4" fill="rgb(28,7,207)" opacity="0.8"/>
<ellipse cx="282.1" cy="459.4" rx="2.2" ry="2.4" fill="rgb(58,27,251)" opacity="0.8"/>
<ellipse cx="269.3" cy="452.4" rx="2.0" ry="1.8" fill="rgb(58,27,251)" opacity="0.8"/>
<ellipse cx="265.7" cy="444.9" rx="2.2" ry="2.6" fill="rgb(30,8,213)" opacity="0.8"/>
<ellipse cx="285.9" cy="455.9" rx="1.6" ry="1.1" fill="rgb(29,8,212)" opacity="0.8"/>
<ellipse cx="262.5" cy="440.3" rx="2.9" ry="1.8" fill="rgb(24,6,196)" opacity="0.8"/>
<ellipse cx="272.1" cy="448.7" rx="2.7" ry="2.9" fill="rgb(60,29,253)" opacity="0.8"/>
<ellipse cx="287.8" cy="444.5" rx="3.0" ry="3.4" fill="rgb(52,22,248)" opacity="0.8"/>
</g></g>
<rect x="248.4" y="469.1" width="16.1" height="2.3" fill="#fff"/>
</g>
<rect x="309.2" y="416.1" width="59.90" height="56.60" fill="rgb(0,0,4)"/>
<g clip-path="url(#t22)">
<clipPath id="e14"><ellipse cx="340.8" cy="443.8" rx="21.6" ry="18.6" transform="rotate(14 340.8 443.8)"/></clipPath>
<ellipse cx="340.8" cy="443.8" rx="24.6" ry="21.6" transform="rotate(14 340.8 443.8)" fill="rgb(3,2,58)" filter="url(#bl2)"/>
<g filter="url(#bl1)">
<ellipse cx="340.8" cy="443.8" rx="21.6" ry="18.6" transform="rotate(14 340.8 443.8)" fill="rgb(40,12,240)"/>
<g clip-path="url(#e14)">
<ellipse cx="345.3" cy="446.3" rx="2.9" ry="1.8" fill="rgb(59,28,252)" opacity="0.8"/>
<ellipse cx="344.6" cy="456.8" rx="1.4" ry="1.0" fill="rgb(63,31,254)" opacity="0.8"/>
<ellipse cx="336.4" cy="430.7" rx="2.5" ry="1.5" fill="rgb(26,6,202)" opacity="0.8"/>
<ellipse cx="345.6" cy="454.6" rx="3.1" ry="2.1" fill="rgb(59,27,251)" opacity="0.8"/>
<ellipse cx="347.8" cy="435.1" rx="2.3" ry="2.4" fill="rgb(30,8,214)" opacity="0.8"/>
<ellipse cx="346.0" cy="429.9" rx="1.8" ry="2.1" fill="rgb(53,23,248)" opacity="0.8"/>
<ellipse cx="330.2" cy="447.5" rx="2.3" ry="1.8" fill="rgb(29,8,211)" opacity="0.8"/>
<ellipse cx="342.4" cy="429.9" rx="1.9" ry="1.9" fill="rgb(63,31,254)" opacity="0.8"/>
<ellipse cx="331.1" cy="438.2" rx="3.1" ry="2.1" fill="rgb(54,24,249)" opacity="0.8"/>
<ellipse cx="332.4" cy="453.7" rx="2.0" ry="1.7" fill="rgb(26,7,203)" opacity="0.8"/>
<ellipse cx="333.2" cy="433.4" rx="2.5" ry="2.2" fill="rgb(58,27,251)" opacity="0.8"/>
<ellipse cx="344.7" cy="437.8" rx="2.8" ry="1.8" fill="rgb(62,30,253)" opacity="0.8"/>
<ellipse cx="328.6" cy="444.8" rx="2.7" ry="1.8" fill="rgb(55,24,249)" opacity="0.8"/>
<ellipse cx="327.9" cy="439.3" rx="1.3" ry="1.5" fill="rgb(54,23,248)" opacity="0.8"/>
<ellipse cx="327.5" cy="447.1" rx="1.9" ry="1.9" fill="rgb(25,6,200)" opacity="0.8"/>
<ellipse cx="353.0" cy="443.9" rx="2.2" ry="1.8" fill="rgb(61,29,253)" opacity="0.8"/>
<ellipse cx="336.9" cy="455.8" rx="2.4" ry="2.2" fill="rgb(62,30,253)" opacity="0.8"/>
<ellipse cx="338.2" cy="447.1" rx="2.4" ry="1.9" fill="rgb(58,27,251)" opacity="0.8"/>
<ellipse cx="344.4" cy="443.9" rx="1.6" ry="1.5" fill="rgb(62,30,253)" opacity="0.8"/>
<ellipse cx="341.9" cy="457.1" rx="2.5" ry="1.8" fill="rgb(61,29,253)" opacity="0.8"/>
<ellipse cx="347.7" cy="443.7" rx="1.8" ry="2.0" fill="rgb(62,30,253)" opacity="0.8"/>
<ellipse cx="334.6" cy="440.9" rx="2.1" ry="2.4" fill="rgb(31,8,216)" opacity="0.8"/>
<ellipse cx="350.4" cy="431.0" rx="2.6" ry="2.0" fill="rgb(24,6,196)" opacity="0.8"/>
<ellipse cx="338.6" cy="449.0" rx="1.6" ry="1.7" fill="rgb(31,8,215)" opacity="0.8"/>
<ellipse cx="327.1" cy="452.8" rx="2.7" ry="1.7" fill="rgb(25,6,199)" opacity="0.8"/>
<ellipse cx="339.7" cy="453.4" rx="2.1" ry="2.2" fill="rgb(24,6,198)" opacity="0.8"/>
<ellipse cx="354.6" cy="438.1" rx="2.0" ry="2.2" fill="rgb(60,29,253)" opacity="0.8"/>
<ellipse cx="333.3" cy="450.7" rx="2.5" ry="1.5" fill="rgb(62,30,254)" opacity="0.8"/>
<ellipse cx="333.2" cy="434.9" rx="1.7" ry="2.0" fill="rgb(28,7,207)" opacity="0.8"/>
<ellipse cx="351.3" cy="435.8" rx="3.0" ry="3.2" fill="rgb(30,8,214)" opacity="0.8"/>
</g></g>
<rect x="311.1" y="469.1" width="16.1" height="2.3" fill="#fff"/>
</g>
<rect x="372.4" y="416.1" width="60.60" height="56.60" fill="rgb(0,0,4)"/>
<g clip-path="url(#t23)">
<clipPath id="e15"><ellipse cx="403.2" cy="443.4" rx="24.2" ry="18.6" transform="rotate(14 403.2 443.4)"/></clipPath>
<ellipse cx="403.2" cy="443.4" rx="27.2" ry="21.6" transform="rotate(14 403.2 443.4)" fill="rgb(3,2,58)" filter="url(#bl2)"/>
<g filter="url(#bl1)">
<ellipse cx="403.2" cy="443.4" rx="24.2" ry="18.6" transform="rotate(14 403.2 443.4)" fill="rgb(40,12,240)"/>
<g clip-path="url(#e15)">
<ellipse cx="413.4" cy="429.8" rx="2.7" ry="2.7" fill="rgb(54,24,249)" opacity="0.8"/>
<ellipse cx="407.6" cy="456.7" rx="2.4" ry="1.9" fill="rgb(29,7,210)" opacity="0.8"/>
<ellipse cx="417.0" cy="436.1" rx="2.0" ry="2.0" fill="rgb(28,7,208)" opacity="0.8"/>
<ellipse cx="392.3" cy="442.5" rx="3.2" ry="2.4" fill="rgb(25,6,201)" opacity="0.8"/>
<ellipse cx="409.2" cy="456.1" rx="2.9" ry="3.0" fill="rgb(30,8,213)" opacity="0.8"/>
<ellipse cx="390.8" cy="442.0" rx="2.4" ry="2.5" fill="rgb(59,28,252)" opacity="0.8"/>
<ellipse cx="410.0" cy="442.8" rx="2.4" ry="2.3" fill="rgb(26,7,203)" opacity="0.8"/>
<ellipse cx="405.4" cy="441.2" rx="2.8" ry="2.2" fill="rgb(27,7,205)" opacity="0.8"/>
<ellipse cx="397.9" cy="439.6" rx="2.3" ry="2.5" fill="rgb(63,31,254)" opacity="0.8"/>
<ellipse cx="385.6" cy="445.7" rx="2.0" ry="2.3" fill="rgb(53,23,248)" opacity="0.8"/>
<ellipse cx="404.8" cy="429.7" rx="1.5" ry="1.4" fill="rgb(31,8,217)" opacity="0.8"/>
<ellipse cx="398.2" cy="443.7" rx="2.1" ry="1.7" fill="rgb(27,7,204)" opacity="0.8"/>
<ellipse cx="408.0" cy="434.7" rx="3.0" ry="3.6" fill="rgb(52,22,248)" opacity="0.8"/>
<ellipse cx="412.5" cy="446.8" rx="2.8" ry="3.1" fill="rgb(58,27,251)" opacity="0.8"/>
<ellipse cx="393.0" cy="438.4" rx="2.7" ry="2.7" fill="rgb(27,7,205)" opacity="0.8"/>
<ellipse cx="397.4" cy="452.5" rx="3.2" ry="2.3" fill="rgb(31,8,217)" opacity="0.8"/>
<ellipse cx="406.0" cy="457.3" rx="1.7" ry="1.2" fill="rgb(61,29,253)" opacity="0.8"/>
<ellipse cx="416.9" cy="441.9" rx="3.0" ry="3.2" fill="rgb(30,8,213)" opacity="0.8"/>
<ellipse cx="394.9" cy="447.2" rx="1.4" ry="1.1" fill="rgb(27,7,205)" opacity="0.8"/>
<ellipse cx="407.7" cy="437.3" rx="2.1" ry="2.4" fill="rgb(56,25,250)" opacity="0.8"/>
<ellipse cx="395.1" cy="443.4" rx="1.7" ry="2.0" fill="rgb(29,8,211)" opacity="0.8"/>
<ellipse cx="421.0" cy="448.9" rx="2.5" ry="1.6" fill="rgb(29,7,210)" opacity="0.8"/>
<ellipse cx="410.9" cy="454.4" rx="1.3" ry="1.5" fill="rgb(61,29,253)" opacity="0.8"/>
<ellipse cx="414.8" cy="432.0" rx="2.4" ry="2.2" fill="rgb(26,6,202)" opacity="0.8"/>
<ellipse cx="400.3" cy="444.5" rx="1.5" ry="1.0" fill="rgb(57,26,250)" opacity="0.8"/>
<ellipse cx="418.6" cy="441.2" rx="2.7" ry="3.1" fill="rgb(30,8,213)" opacity="0.8"/>
<ellipse cx="413.5" cy="441.3" rx="1.5" ry="1.7" fill="rgb(24,6,198)" opacity="0.8"/>
<ellipse cx="389.8" cy="450.1" rx="1.5" ry="1.6" fill="rgb(57,26,250)" opacity="0.8"/>
<ellipse cx="420.0" cy="451.5" rx="1.4" ry="1.5" fill="rgb(30,8,212)" opacity="0.8"/>
<ellipse cx="411.5" cy="429.3" rx="2.2" ry="2.4" fill="rgb(29,8,211)" opacity="0.8"/>
</g></g>
<rect x="374.3" y="469.1" width="16.1" height="2.3" fill="#fff"/>
</g>
<text x="7.50" y="11.00" font-size="12.5" class="b">a</text>
<text x="327.50" y="11.00" font-size="12.5" class="b">b</text>
<text x="8.00" y="285.40" font-size="12.5" class="b">c</text>
<text x="457.00" y="285.00" font-size="12.5" class="b">d</text>
<text x="8.00" y="524.00" font-size="12.5" class="b">e</text>
<text x="280.00" y="523.00" font-size="12.5" class="b">f</text>
<line x1="35.80" y1="64.85" x2="35.80" y2="204.95" stroke="#000" stroke-width="1.5" stroke-linecap="butt"/>
<line x1="35.05" y1="204.20" x2="165.00" y2="204.20" stroke="#000" stroke-width="1.5" stroke-linecap="butt"/>
<line x1="30.10" y1="204.20" x2="35.80" y2="204.20" stroke="#000" stroke-width="1.5" stroke-linecap="butt"/>
<text x="27.90" y="208.16" font-size="10.5" text-anchor="end">0</text>
<line x1="30.10" y1="169.55" x2="35.80" y2="169.55" stroke="#000" stroke-width="1.5" stroke-linecap="butt"/>
<text x="27.90" y="173.51" font-size="10.5" text-anchor="end">20</text>
<line x1="30.10" y1="134.90" x2="35.80" y2="134.90" stroke="#000" stroke-width="1.5" stroke-linecap="butt"/>
<text x="27.90" y="138.86" font-size="10.5" text-anchor="end">40</text>
<line x1="30.10" y1="100.25" x2="35.80" y2="100.25" stroke="#000" stroke-width="1.5" stroke-linecap="butt"/>
<text x="27.90" y="104.21" font-size="10.5" text-anchor="end">60</text>
<line x1="30.10" y1="65.60" x2="35.80" y2="65.60" stroke="#000" stroke-width="1.5" stroke-linecap="butt"/>
<text x="27.90" y="69.56" font-size="10.5" text-anchor="end">80</text>
<line x1="55.30" y1="204.20" x2="55.30" y2="209.90" stroke="#000" stroke-width="1.5" stroke-linecap="butt"/>
<line x1="85.00" y1="204.20" x2="85.00" y2="209.90" stroke="#000" stroke-width="1.5" stroke-linecap="butt"/>
<line x1="114.80" y1="204.20" x2="114.80" y2="209.90" stroke="#000" stroke-width="1.5" stroke-linecap="butt"/>
<line x1="144.50" y1="204.20" x2="144.50" y2="209.90" stroke="#000" stroke-width="1.5" stroke-linecap="butt"/>
<text x="97.00" y="15.90" font-size="10.2" text-anchor="middle" class="b">1 h post-IR</text>
<text x="70.00" y="38.90" font-size="10.2" text-anchor="middle" class="b">G1</text>
<text x="131.00" y="39.90" font-size="10.2" text-anchor="middle" class="b">G2</text>
<text x="8.40" y="128.10" font-size="10.3" text-anchor="middle" transform="rotate(-90 8.40 128.10)">No. of γ-H2AX foci per cell</text>
<path d="M54.10 64.10V60.10H85.50V64.10" fill="none" stroke="#000" stroke-width="1.15" stroke-linejoin="round"/>
<text x="68.00" y="55.50" font-size="7.8" text-anchor="middle" class="s">p=0.0912</text>
<path d="M114.80 64.10V60.10H146.00V64.10" fill="none" stroke="#000" stroke-width="1.15" stroke-linejoin="round"/>
<text x="130.00" y="55.50" font-size="7.8" text-anchor="middle" class="s">p=0.0008</text>
<text x="56.00" y="133.60" font-size="8" text-anchor="middle">25</text>
<text x="85.50" y="133.60" font-size="8" text-anchor="middle">24</text>
<text x="116.00" y="71.20" font-size="8" text-anchor="middle">53</text>
<text x="144.50" y="71.20" font-size="8" text-anchor="middle">52</text>
<path d="M55.3 178.2h0.01M55.2 176.5h0.22M55.0 174.7h0.53M55.0 173.0h0.65M54.3 171.3h1.93M53.7 169.5h3.22M53.2 167.8h4.28M51.1 166.1h8.34M50.4 164.4h9.72M46.9 162.6h16.80M46.9 160.9h16.80M47.2 159.2h16.25M50.7 157.4h9.16M52.4 155.7h5.71M53.1 154.0h4.33M53.7 152.2h3.17M55.0 150.5h0.68M55.0 148.8h0.50M55.2 147.0h0.29M55.3 145.3h0.01M55.3 141.8h0.01M55.3 136.6h0.01" fill="none" stroke="#000" stroke-width="2.6" stroke-linecap="round"/>
<path d="M85.0 178.2h0.01M84.9 176.5h0.27M84.7 174.7h0.67M84.6 173.0h0.72M83.4 171.3h3.23M83.0 169.5h3.99M82.0 167.8h5.90M80.3 166.1h9.42M77.3 164.4h15.32M76.6 162.6h16.80M76.6 160.9h16.80M77.9 159.2h14.12M81.5 157.4h7.02M82.1 155.7h5.83M83.1 154.0h3.80M84.2 152.2h1.69M84.6 150.5h0.85M84.8 148.8h0.41M84.9 147.0h0.21M85.0 145.3h0.01M85.0 141.8h0.01M85.0 138.4h0.01" fill="none" stroke="#000" stroke-width="2.6" stroke-linecap="round"/>
<path d="M114.8 134.9h0.01M114.7 133.2h0.19M114.6 131.4h0.36M114.5 129.7h0.61M114.4 128.0h0.85M114.1 126.2h1.38M113.1 124.5h3.48M112.5 122.8h4.67M112.2 121.0h5.24M110.6 119.3h8.40M109.1 117.6h11.37M106.2 115.8h17.29M106.3 114.1h17.00M106.3 112.4h17.00M106.3 110.6h17.00M106.1 108.9h17.45M109.2 107.2h11.28M108.8 105.4h12.00M111.9 103.7h5.89M112.1 102.0h5.42M112.4 100.2h4.71M113.6 98.5h2.34M113.9 96.8h1.90M114.5 95.1h0.60M114.5 93.3h0.67M114.5 91.6h0.56M114.6 89.9h0.35M114.7 88.1h0.19M114.8 86.4h0.01M114.8 74.3h0.01" fill="none" stroke="#000" stroke-width="2.6" stroke-linecap="round"/>
<path d="M144.5 140.1h0.01M144.4 138.4h0.18M144.3 136.6h0.35M144.3 134.9h0.50M144.1 133.2h0.83M143.7 131.4h1.67M143.6 129.7h1.87M142.8 128.0h3.33M143.0 126.2h3.07M141.4 124.5h6.27M140.6 122.8h7.81M138.5 121.0h12.05M137.3 119.3h14.33M137.3 117.6h14.31M136.0 115.8h17.00M136.0 114.1h17.00M136.0 112.4h17.00M137.2 110.6h14.57M138.1 108.9h12.83M141.0 107.2h6.93M141.2 105.4h6.57M142.5 103.7h4.08M143.1 102.0h2.74M143.7 100.2h1.65M143.6 98.5h1.71M144.2 96.8h0.64M144.3 95.1h0.49M144.3 93.3h0.35M144.4 91.6h0.21M144.5 89.9h0.01M144.5 143.6h0.01M144.5 86.4h0.01" fill="none" stroke="#000" stroke-width="2.6" stroke-linecap="round"/>
<rect x="45.00" y="159.69" width="20.60" height="2.40" fill="#ff2a0a"/>
<rect x="74.70" y="161.42" width="20.60" height="2.40" fill="#ff2a0a"/>
<rect x="104.50" y="110.66" width="20.60" height="2.40" fill="#ff2a0a"/>
<rect x="134.20" y="113.26" width="20.60" height="2.40" fill="#ff2a0a"/>
<text x="57.30" y="217.40" font-size="10.5" text-anchor="end" transform="rotate(-45 57.30 217.40)">P1 + Vector</text>
<text x="91.40" y="216.10" font-size="10.3" text-anchor="end" transform="rotate(-45 91.40 216.10)">P1 + DIAPH1</text>
<text x="116.80" y="217.40" font-size="10.5" text-anchor="end" transform="rotate(-45 116.80 217.40)">P1 + Vector</text>
<text x="150.90" y="216.10" font-size="10.3" text-anchor="end" transform="rotate(-45 150.90 216.10)">P1 + DIAPH1</text>
<line x1="190.80" y1="63.25" x2="190.80" y2="205.45" stroke="#000" stroke-width="1.5" stroke-linecap="butt"/>
<line x1="190.05" y1="204.70" x2="321.00" y2="204.70" stroke="#000" stroke-width="1.5" stroke-linecap="butt"/>
<line x1="185.10" y1="204.70" x2="190.80" y2="204.70" stroke="#000" stroke-width="1.5" stroke-linecap="butt"/>
<text x="182.90" y="210.06" font-size="10.5" text-anchor="end">0</text>
<line x1="185.10" y1="169.52" x2="190.80" y2="169.52" stroke="#000" stroke-width="1.5" stroke-linecap="butt"/>
<text x="182.90" y="174.88" font-size="10.5" text-anchor="end">10</text>
<line x1="185.10" y1="134.35" x2="190.80" y2="134.35" stroke="#000" stroke-width="1.5" stroke-linecap="butt"/>
<text x="182.90" y="139.71" font-size="10.5" text-anchor="end">20</text>
<line x1="185.10" y1="99.17" x2="190.80" y2="99.17" stroke="#000" stroke-width="1.5" stroke-linecap="butt"/>
<text x="182.90" y="104.53" font-size="10.5" text-anchor="end">30</text>
<line x1="185.10" y1="64.00" x2="190.80" y2="64.00" stroke="#000" stroke-width="1.5" stroke-linecap="butt"/>
<text x="182.90" y="69.36" font-size="10.5" text-anchor="end">40</text>
<line x1="210.60" y1="204.70" x2="210.60" y2="210.40" stroke="#000" stroke-width="1.5" stroke-linecap="butt"/>
<line x1="240.50" y1="204.70" x2="240.50" y2="210.40" stroke="#000" stroke-width="1.5" stroke-linecap="butt"/>
<line x1="270.50" y1="204.70" x2="270.50" y2="210.40" stroke="#000" stroke-width="1.5" stroke-linecap="butt"/>
<line x1="300.60" y1="204.70" x2="300.60" y2="210.40" stroke="#000" stroke-width="1.5" stroke-linecap="butt"/>
<text x="252.00" y="16.50" font-size="10.2" text-anchor="middle" class="b">8 h post-IR</text>
<text x="225.00" y="39.50" font-size="10.2" text-anchor="middle" class="b">G1</text>
<text x="283.00" y="39.50" font-size="10.2" text-anchor="middle" class="b">G2</text>
<path d="M210.00 63.50V59.50H241.00V63.50" fill="none" stroke="#000" stroke-width="1.15" stroke-linejoin="round"/>
<text x="224.50" y="56.20" font-size="7.8" text-anchor="middle" class="s">p=0.9096</text>
<path d="M270.50 63.50V59.50H301.50V63.50" fill="none" stroke="#000" stroke-width="1.15" stroke-linejoin="round"/>
<text x="286.00" y="56.20" font-size="7.8" text-anchor="middle" class="s">p=&lt;0.0001</text>
<text x="210.00" y="150.60" font-size="8" text-anchor="middle">5</text>
<text x="240.00" y="150.60" font-size="8" text-anchor="middle">5</text>
<text x="270.50" y="72.30" font-size="8" text-anchor="middle">18</text>
<text x="300.50" y="72.30" font-size="8" text-anchor="middle">11</text>
<path d="M207.3 201.2h6.60M205.7 197.7h9.80M204.2 194.1h12.80M202.8 190.6h15.60M201.5 187.1h18.20M202.8 183.6h15.60M204.7 180.1h11.80M207.2 176.6h6.80M209.1 173.0h3.00M210.0 169.5h1.20M210.3 166.0h0.60M210.6 162.5h0.01M210.6 155.5h0.01" fill="none" stroke="#000" stroke-width="2.44" stroke-linecap="round"/>
<path d="M237.2 201.2h6.60M235.6 197.7h9.80M234.1 194.1h12.80M232.7 190.6h15.60M231.4 187.1h18.20M232.9 183.6h15.20M234.9 180.1h11.20M237.2 176.6h6.60M238.8 173.0h3.40M239.8 169.5h1.40M240.2 166.0h0.60M240.5 162.5h0.01M240.5 159.0h0.01M240.5 155.5h0.01" fill="none" stroke="#000" stroke-width="2.44" stroke-linecap="round"/>
<path d="M270.5 187.1h0.01M270.5 183.6h0.01M270.3 180.1h0.48M270.1 176.6h0.72M269.4 173.0h2.20M268.8 169.5h3.40M267.8 166.0h5.40M266.2 162.5h8.60M265.6 159.0h9.80M264.6 155.5h11.80M264.2 151.9h12.60M263.0 148.4h15.00M261.4 144.9h18.20M261.4 141.4h18.20M262.6 137.9h15.80M263.8 134.3h13.40M264.2 130.8h12.60M264.8 127.3h11.40M266.0 123.8h9.00M267.0 120.3h7.00M267.6 116.8h5.80M268.4 113.2h4.20M269.0 109.7h3.00M270.0 106.2h1.00M270.2 102.7h0.60M270.3 99.2h0.42M270.5 95.7h0.01M270.3 85.1h0.36M270.4 81.6h0.30M270.5 78.1h0.01" fill="none" stroke="#000" stroke-width="2.44" stroke-linecap="round"/>
<path d="M300.6 194.1h0.01M300.6 190.6h0.01M300.4 187.1h0.48M299.9 183.6h1.40M298.5 180.1h4.20M296.9 176.6h7.40M295.1 173.0h11.00M291.5 169.5h18.20M292.5 166.0h16.20M291.5 162.5h18.20M294.9 159.0h11.40M296.9 155.5h7.40M298.1 151.9h5.00M299.1 148.4h3.00M299.9 144.9h1.40M300.3 141.4h0.66M300.4 137.9h0.48M300.4 134.3h0.36M300.6 130.8h0.01M300.6 127.3h0.01M300.6 123.8h0.01M300.6 120.3h0.01M300.6 116.8h0.01M300.6 113.2h0.01M300.6 109.7h0.01M300.6 106.2h0.01M300.6 102.7h0.01M300.6 74.6h0.01" fill="none" stroke="#000" stroke-width="2.44" stroke-linecap="round"/>
<rect x="200.40" y="185.91" width="20.40" height="2.40" fill="#ff2a0a"/>
<rect x="230.30" y="185.91" width="20.40" height="2.40" fill="#ff2a0a"/>
<rect x="260.30" y="139.48" width="20.40" height="2.40" fill="#ff2a0a"/>
<rect x="290.40" y="161.29" width="20.40" height="2.40" fill="#ff2a0a"/>
<text x="212.60" y="217.90" font-size="10.5" text-anchor="end" transform="rotate(-45 212.60 217.90)">P1 + Vector</text>
<text x="246.90" y="216.60" font-size="10.3" text-anchor="end" transform="rotate(-45 246.90 216.60)">P1 + DIAPH1</text>
<text x="272.50" y="217.90" font-size="10.5" text-anchor="end" transform="rotate(-45 272.50 217.90)">P1 + Vector</text>
<text x="307.00" y="216.60" font-size="10.3" text-anchor="end" transform="rotate(-45 307.00 216.60)">P1 + DIAPH1</text>
<text x="337.40" y="135.00" font-size="10.2" text-anchor="middle" transform="rotate(-90 337.40 135.00)">No. of SCEs per metaphase</text>
<line x1="360.60" y1="64.85" x2="360.60" y2="204.95" stroke="#000" stroke-width="1.5" stroke-linecap="butt"/>
<line x1="359.85" y1="204.20" x2="448.60" y2="204.20" stroke="#000" stroke-width="1.5" stroke-linecap="butt"/>
<line x1="354.90" y1="204.20" x2="360.60" y2="204.20" stroke="#000" stroke-width="1.5" stroke-linecap="butt"/>
<text x="353.30" y="208.78" font-size="10" text-anchor="end">0</text>
<line x1="354.90" y1="158.00" x2="360.60" y2="158.00" stroke="#000" stroke-width="1.5" stroke-linecap="butt"/>
<text x="353.30" y="162.58" font-size="10" text-anchor="end">5</text>
<line x1="354.90" y1="111.80" x2="360.60" y2="111.80" stroke="#000" stroke-width="1.5" stroke-linecap="butt"/>
<text x="353.30" y="116.38" font-size="10" text-anchor="end">10</text>
<line x1="378.10" y1="204.20" x2="378.10" y2="210.20" stroke="#000" stroke-width="1.5" stroke-linecap="butt"/>
<line x1="404.90" y1="204.20" x2="404.90" y2="210.20" stroke="#000" stroke-width="1.5" stroke-linecap="butt"/>
<line x1="431.40" y1="204.20" x2="431.40" y2="210.20" stroke="#000" stroke-width="1.5" stroke-linecap="butt"/>
<line x1="354.90" y1="65.60" x2="360.60" y2="65.60" stroke="#000" stroke-width="1.5" stroke-linecap="butt"/>
<text x="353.30" y="70.50" font-size="10" text-anchor="end">15</text>
<text x="404.50" y="40.50" font-size="10.2" text-anchor="middle" class="b">Untreated</text>
<path d="M372.60 70.80V66.80H434.60V70.80" fill="none" stroke="#000" stroke-width="1.15" stroke-linejoin="round"/>
<text x="404.50" y="63.50" font-size="7.8" text-anchor="middle" class="s">p=&gt;0.9999</text>
<path d="M372.60 89.60V85.60H403.60V89.60" fill="none" stroke="#000" stroke-width="1.15" stroke-linejoin="round"/>
<text x="388.50" y="82.30" font-size="7.8" text-anchor="middle" class="s">p=&gt;0.9999</text>
<path d="M403.80 96.80V92.80H434.60V96.80" fill="none" stroke="#000" stroke-width="1.15" stroke-linejoin="round"/>
<text x="420.00" y="89.50" font-size="7.8" text-anchor="middle" class="s">p=0.555</text>
<g fill="#000">
<circle cx="383.1" cy="176.7" r="1.4"/><circle cx="377.9" cy="185.8" r="1.4"/><circle cx="376.9" cy="182.5" r="1.4"/><circle cx="379.8" cy="176.2" r="1.4"/><circle cx="378.0" cy="191.6" r="1.4"/><circle cx="380.7" cy="179.6" r="1.4"/><circle cx="375.5" cy="179.8" r="1.4"/><circle cx="375.0" cy="173.3" r="1.4"/><circle cx="373.0" cy="182.3" r="1.4"/><circle cx="384.8" cy="195.2" r="1.4"/><circle cx="377.5" cy="163.9" r="1.4"/><circle cx="385.9" cy="186.0" r="1.4"/><circle cx="375.0" cy="194.8" r="1.4"/><circle cx="378.7" cy="161.4" r="1.4"/><circle cx="380.4" cy="173.3" r="1.4"/><circle cx="378.4" cy="167.0" r="1.4"/><circle cx="374.8" cy="185.5" r="1.4"/><circle cx="377.6" cy="170.1" r="1.4"/><circle cx="382.9" cy="185.5" r="1.4"/><circle cx="378.2" cy="176.5" r="1.4"/><circle cx="384.8" cy="182.9" r="1.4"/><circle cx="374.7" cy="176.2" r="1.4"/><circle cx="378.6" cy="155.0" r="1.4"/><circle cx="377.9" cy="158.0" r="1.4"/><circle cx="377.3" cy="194.6" r="1.4"/><circle cx="381.9" cy="173.6" r="1.4"/><circle cx="377.8" cy="151.5" r="1.4"/><circle cx="372.7" cy="185.4" r="1.4"/><circle cx="371.3" cy="195.1" r="1.4"/><circle cx="376.5" cy="167.1" r="1.4"/><circle cx="381.1" cy="170.2" r="1.4"/><circle cx="377.3" cy="179.5" r="1.4"/><circle cx="378.1" cy="173.1" r="1.4"/><circle cx="380.2" cy="167.5" r="1.4"/><circle cx="381.6" cy="195.0" r="1.4"/><circle cx="374.5" cy="182.8" r="1.4"/><circle cx="379.8" cy="164.2" r="1.4"/><circle cx="376.0" cy="164.2" r="1.4"/><circle cx="379.9" cy="182.5" r="1.4"/><circle cx="382.0" cy="182.9" r="1.4"/><circle cx="376.6" cy="160.8" r="1.4"/><circle cx="380.6" cy="186.1" r="1.4"/><circle cx="375.5" cy="170.2" r="1.4"/><circle cx="378.1" cy="188.9" r="1.4"/><circle cx="379.6" cy="158.1" r="1.4"/><circle cx="374.9" cy="166.9" r="1.4"/><circle cx="370.5" cy="185.4" r="1.4"/><circle cx="373.0" cy="176.3" r="1.4"/><circle cx="377.1" cy="154.6" r="1.4"/><circle cx="381.4" cy="176.7" r="1.4"/><circle cx="379.9" cy="194.8" r="1.4"/><circle cx="376.6" cy="176.5" r="1.4"/><circle cx="379.3" cy="170.1" r="1.4"/><circle cx="379.0" cy="179.8" r="1.4"/><circle cx="370.8" cy="182.9" r="1.4"/><circle cx="376.5" cy="173.5" r="1.4"/><circle cx="373.2" cy="195.0" r="1.4"/><circle cx="383.3" cy="195.1" r="1.4"/><circle cx="384.6" cy="176.5" r="1.4"/><circle cx="378.4" cy="183.0" r="1.4"/><circle cx="384.4" cy="185.6" r="1.4"/><circle cx="376.4" cy="185.6" r="1.4"/><circle cx="383.4" cy="182.4" r="1.4"/><circle cx="377.0" cy="204.2" r="1.4"/><circle cx="379.2" cy="204.2" r="1.4"/>
</g>
<g fill="#000">
<circle cx="408.5" cy="194.9" r="1.4"/><circle cx="404.9" cy="197.8" r="1.4"/><circle cx="400.7" cy="170.3" r="1.4"/><circle cx="403.1" cy="176.7" r="1.4"/><circle cx="407.2" cy="161.3" r="1.4"/><circle cx="403.7" cy="185.5" r="1.4"/><circle cx="406.8" cy="179.5" r="1.4"/><circle cx="407.7" cy="157.7" r="1.4"/><circle cx="403.2" cy="173.5" r="1.4"/><circle cx="409.0" cy="185.6" r="1.4"/><circle cx="403.5" cy="195.0" r="1.4"/><circle cx="403.4" cy="167.5" r="1.4"/><circle cx="403.1" cy="189.1" r="1.4"/><circle cx="400.0" cy="192.2" r="1.4"/><circle cx="405.9" cy="167.3" r="1.4"/><circle cx="405.3" cy="155.0" r="1.4"/><circle cx="407.5" cy="185.5" r="1.4"/><circle cx="409.1" cy="188.6" r="1.4"/><circle cx="407.8" cy="182.9" r="1.4"/><circle cx="411.1" cy="185.9" r="1.4"/><circle cx="402.3" cy="158.0" r="1.4"/><circle cx="403.8" cy="151.6" r="1.4"/><circle cx="408.9" cy="170.1" r="1.4"/><circle cx="406.9" cy="164.3" r="1.4"/><circle cx="408.7" cy="192.1" r="1.4"/><circle cx="404.1" cy="182.4" r="1.4"/><circle cx="401.4" cy="183.0" r="1.4"/><circle cx="405.5" cy="145.6" r="1.4"/><circle cx="406.7" cy="173.5" r="1.4"/><circle cx="401.4" cy="179.6" r="1.4"/><circle cx="405.3" cy="164.4" r="1.4"/><circle cx="404.4" cy="191.7" r="1.4"/><circle cx="401.3" cy="176.4" r="1.4"/><circle cx="406.4" cy="194.8" r="1.4"/><circle cx="397.2" cy="185.4" r="1.4"/><circle cx="410.7" cy="182.6" r="1.4"/><circle cx="397.9" cy="182.3" r="1.4"/><circle cx="401.4" cy="188.8" r="1.4"/><circle cx="399.4" cy="185.6" r="1.4"/><circle cx="406.1" cy="188.6" r="1.4"/><circle cx="404.3" cy="161.0" r="1.4"/><circle cx="400.0" cy="167.4" r="1.4"/><circle cx="404.0" cy="179.3" r="1.4"/><circle cx="411.3" cy="194.9" r="1.4"/><circle cx="402.3" cy="170.2" r="1.4"/><circle cx="405.9" cy="176.8" r="1.4"/><circle cx="405.3" cy="142.3" r="1.4"/><circle cx="402.1" cy="192.0" r="1.4"/><circle cx="405.7" cy="182.4" r="1.4"/><circle cx="401.4" cy="195.0" r="1.4"/><circle cx="409.1" cy="167.0" r="1.4"/><circle cx="406.1" cy="149.0" r="1.4"/><circle cx="403.2" cy="164.3" r="1.4"/><circle cx="401.6" cy="185.9" r="1.4"/><circle cx="407.4" cy="167.5" r="1.4"/><circle cx="404.6" cy="170.6" r="1.4"/><circle cx="409.3" cy="179.5" r="1.4"/><circle cx="402.7" cy="160.8" r="1.4"/><circle cx="403.4" cy="145.5" r="1.4"/><circle cx="408.8" cy="176.4" r="1.4"/><circle cx="404.5" cy="139.5" r="1.4"/><circle cx="406.8" cy="191.6" r="1.4"/><circle cx="401.8" cy="167.3" r="1.4"/><circle cx="406.1" cy="157.7" r="1.4"/><circle cx="403.7" cy="148.7" r="1.4"/><circle cx="399.5" cy="182.3" r="1.4"/><circle cx="404.8" cy="173.4" r="1.4"/><circle cx="407.1" cy="170.3" r="1.4"/><circle cx="401.7" cy="173.1" r="1.4"/><circle cx="405.2" cy="152.2" r="1.4"/><circle cx="399.5" cy="194.6" r="1.4"/><circle cx="397.6" cy="195.0" r="1.4"/><circle cx="403.2" cy="154.6" r="1.4"/><circle cx="412.4" cy="183.0" r="1.4"/><circle cx="405.7" cy="185.8" r="1.4"/><circle cx="404.5" cy="158.1" r="1.4"/><circle cx="402.7" cy="204.2" r="1.4"/><circle cx="404.9" cy="204.2" r="1.4"/><circle cx="407.1" cy="204.2" r="1.4"/>
</g>
<g fill="#000">
<circle cx="432.0" cy="161.2" r="1.4"/><circle cx="430.5" cy="189.0" r="1.4"/><circle cx="429.6" cy="176.7" r="1.4"/><circle cx="432.9" cy="142.6" r="1.4"/><circle cx="427.9" cy="167.0" r="1.4"/><circle cx="430.6" cy="179.7" r="1.4"/><circle cx="424.9" cy="185.9" r="1.4"/><circle cx="432.2" cy="188.8" r="1.4"/><circle cx="431.5" cy="170.4" r="1.4"/><circle cx="424.1" cy="182.3" r="1.4"/><circle cx="433.4" cy="164.4" r="1.4"/><circle cx="426.8" cy="182.3" r="1.4"/><circle cx="430.1" cy="149.0" r="1.4"/><circle cx="430.1" cy="191.6" r="1.4"/><circle cx="434.8" cy="185.7" r="1.4"/><circle cx="432.7" cy="151.6" r="1.4"/><circle cx="437.0" cy="179.3" r="1.4"/><circle cx="434.3" cy="179.5" r="1.4"/><circle cx="431.9" cy="192.1" r="1.4"/><circle cx="432.9" cy="185.8" r="1.4"/><circle cx="430.4" cy="194.6" r="1.4"/><circle cx="434.7" cy="173.4" r="1.4"/><circle cx="428.3" cy="191.6" r="1.4"/><circle cx="436.2" cy="192.0" r="1.4"/><circle cx="439.0" cy="195.0" r="1.4"/><circle cx="432.3" cy="155.1" r="1.4"/><circle cx="426.1" cy="179.7" r="1.4"/><circle cx="431.6" cy="157.8" r="1.4"/><circle cx="437.5" cy="195.0" r="1.4"/><circle cx="430.4" cy="151.6" r="1.4"/><circle cx="430.4" cy="185.8" r="1.4"/><circle cx="431.2" cy="139.5" r="1.4"/><circle cx="430.2" cy="155.3" r="1.4"/><circle cx="432.4" cy="182.4" r="1.4"/><circle cx="429.6" cy="164.4" r="1.4"/><circle cx="428.9" cy="182.4" r="1.4"/><circle cx="435.7" cy="167.0" r="1.4"/><circle cx="431.5" cy="145.7" r="1.4"/><circle cx="428.7" cy="170.6" r="1.4"/><circle cx="424.5" cy="173.4" r="1.4"/><circle cx="426.1" cy="173.4" r="1.4"/><circle cx="430.3" cy="142.8" r="1.4"/><circle cx="428.1" cy="185.6" r="1.4"/><circle cx="438.6" cy="182.5" r="1.4"/><circle cx="429.8" cy="145.9" r="1.4"/><circle cx="433.4" cy="191.6" r="1.4"/><circle cx="433.6" cy="176.2" r="1.4"/><circle cx="430.2" cy="167.2" r="1.4"/><circle cx="429.7" cy="173.2" r="1.4"/><circle cx="426.2" cy="176.3" r="1.4"/><circle cx="434.4" cy="170.5" r="1.4"/><circle cx="434.3" cy="182.3" r="1.4"/><circle cx="436.9" cy="176.6" r="1.4"/><circle cx="436.8" cy="173.4" r="1.4"/><circle cx="433.2" cy="173.7" r="1.4"/><circle cx="431.6" cy="173.1" r="1.4"/><circle cx="434.9" cy="194.7" r="1.4"/><circle cx="432.6" cy="179.5" r="1.4"/><circle cx="431.2" cy="136.3" r="1.4"/><circle cx="425.6" cy="195.1" r="1.4"/><circle cx="432.3" cy="148.7" r="1.4"/><circle cx="432.6" cy="195.2" r="1.4"/><circle cx="431.4" cy="164.0" r="1.4"/><circle cx="428.0" cy="179.5" r="1.4"/><circle cx="428.1" cy="176.3" r="1.4"/><circle cx="436.3" cy="185.6" r="1.4"/><circle cx="438.6" cy="173.7" r="1.4"/><circle cx="423.8" cy="195.0" r="1.4"/><circle cx="426.5" cy="185.9" r="1.4"/><circle cx="432.9" cy="166.9" r="1.4"/><circle cx="435.3" cy="176.7" r="1.4"/><circle cx="431.2" cy="176.3" r="1.4"/><circle cx="434.0" cy="188.5" r="1.4"/><circle cx="427.6" cy="173.7" r="1.4"/><circle cx="428.3" cy="195.1" r="1.4"/><circle cx="436.5" cy="182.7" r="1.4"/><circle cx="429.9" cy="204.2" r="1.4"/><circle cx="432.9" cy="204.2" r="1.4"/><circle cx="431.4" cy="115.5" r="1.4"/>
</g>
<rect x="369.10" y="178.15" width="18.00" height="2.20" fill="#ff2a0a"/>
<rect x="395.90" y="176.77" width="18.00" height="2.20" fill="#ff2a0a"/>
<rect x="422.40" y="175.38" width="18.00" height="2.20" fill="#ff2a0a"/>
<text x="383.40" y="218.20" font-size="10.2" text-anchor="end" transform="rotate(-45 383.40 218.20)">WT</text>
<text x="410.20" y="218.20" font-size="10.2" text-anchor="end" transform="rotate(-45 410.20 218.20)">NBS</text>
<text x="436.70" y="218.20" font-size="10.2" text-anchor="end" transform="rotate(-45 436.70 218.20)">DIAPH1-P4</text>
<line x1="476.00" y1="64.55" x2="476.00" y2="204.75" stroke="#000" stroke-width="1.5" stroke-linecap="butt"/>
<line x1="475.25" y1="204.00" x2="567.80" y2="204.00" stroke="#000" stroke-width="1.5" stroke-linecap="butt"/>
<line x1="470.30" y1="204.00" x2="476.00" y2="204.00" stroke="#000" stroke-width="1.5" stroke-linecap="butt"/>
<text x="467.70" y="208.58" font-size="10" text-anchor="end">0</text>
<line x1="470.30" y1="157.77" x2="476.00" y2="157.77" stroke="#000" stroke-width="1.5" stroke-linecap="butt"/>
<text x="467.70" y="162.35" font-size="10" text-anchor="end">20</text>
<line x1="470.30" y1="111.53" x2="476.00" y2="111.53" stroke="#000" stroke-width="1.5" stroke-linecap="butt"/>
<text x="467.70" y="116.11" font-size="10" text-anchor="end">40</text>
<line x1="470.30" y1="65.30" x2="476.00" y2="65.30" stroke="#000" stroke-width="1.5" stroke-linecap="butt"/>
<text x="467.70" y="69.88" font-size="10" text-anchor="end">60</text>
<line x1="494.30" y1="204.00" x2="494.30" y2="210.00" stroke="#000" stroke-width="1.5" stroke-linecap="butt"/>
<line x1="522.00" y1="204.00" x2="522.00" y2="210.00" stroke="#000" stroke-width="1.5" stroke-linecap="butt"/>
<line x1="550.30" y1="204.00" x2="550.30" y2="210.00" stroke="#000" stroke-width="1.5" stroke-linecap="butt"/>
<text x="526.50" y="40.50" font-size="10.2" text-anchor="middle" class="b">24 h post-CPT</text>
<path d="M490.10 89.60V85.60H551.60V89.60" fill="none" stroke="#000" stroke-width="1.15" stroke-linejoin="round"/>
<text x="520.90" y="82.30" font-size="7.8" text-anchor="middle" class="s">p=&lt;0.0001</text>
<path d="M490.10 107.60V103.60H521.20V107.60" fill="none" stroke="#000" stroke-width="1.15" stroke-linejoin="round"/>
<text x="505.90" y="101.40" font-size="7.8" text-anchor="middle" class="s">p=&lt;0.0001</text>
<path d="M521.40 115.80V111.80H552.00V115.80" fill="none" stroke="#000" stroke-width="1.15" stroke-linejoin="round"/>
<text x="540.50" y="108.50" font-size="7.8" text-anchor="middle" class="s">p=0.3154</text>
<g fill="#000">
<circle cx="500.6" cy="164.7" r="1.4"/><circle cx="493.0" cy="161.1" r="1.4"/><circle cx="494.6" cy="176.6" r="1.4"/><circle cx="496.4" cy="179.0" r="1.4"/><circle cx="489.5" cy="151.0" r="1.4"/><circle cx="486.9" cy="148.6" r="1.4"/><circle cx="493.3" cy="121.3" r="1.4"/><circle cx="498.3" cy="146.8" r="1.4"/><circle cx="488.8" cy="144.6" r="1.4"/><circle cx="496.0" cy="173.3" r="1.4"/><circle cx="495.0" cy="122.1" r="1.4"/><circle cx="501.1" cy="136.9" r="1.4"/><circle cx="497.5" cy="130.3" r="1.4"/><circle cx="486.7" cy="146.8" r="1.4"/><circle cx="495.3" cy="147.3" r="1.4"/><circle cx="492.8" cy="175.5" r="1.4"/><circle cx="491.6" cy="144.0" r="1.4"/><circle cx="500.4" cy="162.3" r="1.4"/><circle cx="494.3" cy="178.5" r="1.4"/><circle cx="492.4" cy="170.4" r="1.4"/><circle cx="493.9" cy="139.4" r="1.4"/><circle cx="497.8" cy="125.1" r="1.4"/><circle cx="491.6" cy="150.9" r="1.4"/><circle cx="497.6" cy="162.9" r="1.4"/><circle cx="494.3" cy="136.2" r="1.4"/><circle cx="494.2" cy="170.9" r="1.4"/><circle cx="497.8" cy="150.8" r="1.4"/><circle cx="498.2" cy="167.0" r="1.4"/><circle cx="497.7" cy="149.1" r="1.4"/><circle cx="491.0" cy="165.0" r="1.4"/><circle cx="487.9" cy="155.5" r="1.4"/><circle cx="495.4" cy="149.1" r="1.4"/><circle cx="489.5" cy="162.1" r="1.4"/><circle cx="498.1" cy="132.0" r="1.4"/><circle cx="494.2" cy="183.8" r="1.4"/><circle cx="493.7" cy="119.3" r="1.4"/><circle cx="500.6" cy="140.1" r="1.4"/><circle cx="490.6" cy="174.2" r="1.4"/><circle cx="501.4" cy="157.6" r="1.4"/><circle cx="490.3" cy="130.9" r="1.4"/><circle cx="488.1" cy="141.4" r="1.4"/><circle cx="487.3" cy="153.2" r="1.4"/><circle cx="491.0" cy="129.1" r="1.4"/><circle cx="492.8" cy="158.3" r="1.4"/><circle cx="493.2" cy="149.5" r="1.4"/><circle cx="494.4" cy="131.9" r="1.4"/><circle cx="492.9" cy="132.5" r="1.4"/><circle cx="500.6" cy="167.6" r="1.4"/><circle cx="492.4" cy="179.5" r="1.4"/><circle cx="487.8" cy="157.4" r="1.4"/><circle cx="498.9" cy="157.0" r="1.4"/><circle cx="496.0" cy="145.4" r="1.4"/><circle cx="498.3" cy="164.4" r="1.4"/><circle cx="491.3" cy="163.2" r="1.4"/><circle cx="498.6" cy="153.7" r="1.4"/><circle cx="490.0" cy="140.3" r="1.4"/><circle cx="489.3" cy="156.1" r="1.4"/><circle cx="500.2" cy="142.8" r="1.4"/><circle cx="501.6" cy="144.6" r="1.4"/><circle cx="496.5" cy="142.1" r="1.4"/><circle cx="487.2" cy="151.0" r="1.4"/><circle cx="489.7" cy="170.4" r="1.4"/><circle cx="493.9" cy="123.4" r="1.4"/><circle cx="488.6" cy="168.0" r="1.4"/><circle cx="489.8" cy="133.6" r="1.4"/><circle cx="493.2" cy="125.5" r="1.4"/><circle cx="498.3" cy="138.1" r="1.4"/><circle cx="494.4" cy="128.2" r="1.4"/><circle cx="495.7" cy="155.0" r="1.4"/><circle cx="496.2" cy="158.2" r="1.4"/><circle cx="501.4" cy="132.5" r="1.4"/><circle cx="500.4" cy="153.3" r="1.4"/><circle cx="493.7" cy="163.2" r="1.4"/><circle cx="496.6" cy="176.1" r="1.4"/><circle cx="493.3" cy="153.6" r="1.4"/><circle cx="498.9" cy="136.0" r="1.4"/><circle cx="493.1" cy="182.6" r="1.4"/><circle cx="492.7" cy="166.3" r="1.4"/><circle cx="489.1" cy="128.1" r="1.4"/><circle cx="495.0" cy="151.5" r="1.4"/><circle cx="501.5" cy="151.4" r="1.4"/><circle cx="496.3" cy="166.1" r="1.4"/><circle cx="489.0" cy="129.8" r="1.4"/><circle cx="496.2" cy="181.4" r="1.4"/><circle cx="492.2" cy="142.0" r="1.4"/><circle cx="492.2" cy="135.4" r="1.4"/><circle cx="491.2" cy="172.0" r="1.4"/><circle cx="495.6" cy="140.7" r="1.4"/><circle cx="494.3" cy="142.1" r="1.4"/><circle cx="501.0" cy="130.9" r="1.4"/><circle cx="496.2" cy="159.7" r="1.4"/><circle cx="491.2" cy="123.7" r="1.4"/><circle cx="488.6" cy="165.1" r="1.4"/><circle cx="495.2" cy="133.6" r="1.4"/><circle cx="487.6" cy="138.0" r="1.4"/><circle cx="497.1" cy="123.2" r="1.4"/><circle cx="494.3" cy="75.2" r="1.4"/>
</g>
<g fill="#000">
<circle cx="518.3" cy="181.7" r="1.4"/><circle cx="520.8" cy="169.8" r="1.4"/><circle cx="516.2" cy="178.4" r="1.4"/><circle cx="522.9" cy="168.5" r="1.4"/><circle cx="523.2" cy="182.4" r="1.4"/><circle cx="516.0" cy="173.9" r="1.4"/><circle cx="522.8" cy="188.8" r="1.4"/><circle cx="522.2" cy="145.4" r="1.4"/><circle cx="529.9" cy="176.7" r="1.4"/><circle cx="521.5" cy="142.7" r="1.4"/><circle cx="526.8" cy="168.3" r="1.4"/><circle cx="518.0" cy="187.3" r="1.4"/><circle cx="523.2" cy="167.1" r="1.4"/><circle cx="518.5" cy="174.6" r="1.4"/><circle cx="528.1" cy="177.9" r="1.4"/><circle cx="521.6" cy="152.7" r="1.4"/><circle cx="523.2" cy="179.4" r="1.4"/><circle cx="525.4" cy="171.6" r="1.4"/><circle cx="524.3" cy="157.1" r="1.4"/><circle cx="525.8" cy="177.2" r="1.4"/><circle cx="522.1" cy="157.4" r="1.4"/><circle cx="517.1" cy="169.6" r="1.4"/><circle cx="526.8" cy="170.6" r="1.4"/><circle cx="527.9" cy="174.5" r="1.4"/><circle cx="526.2" cy="181.1" r="1.4"/><circle cx="518.7" cy="176.5" r="1.4"/><circle cx="520.0" cy="158.8" r="1.4"/><circle cx="523.0" cy="174.6" r="1.4"/><circle cx="520.0" cy="189.3" r="1.4"/><circle cx="522.8" cy="164.0" r="1.4"/><circle cx="524.7" cy="185.1" r="1.4"/><circle cx="523.7" cy="152.9" r="1.4"/><circle cx="523.0" cy="192.9" r="1.4"/><circle cx="521.4" cy="180.7" r="1.4"/><circle cx="525.7" cy="160.8" r="1.4"/><circle cx="529.2" cy="181.8" r="1.4"/><circle cx="521.4" cy="191.4" r="1.4"/><circle cx="523.3" cy="149.9" r="1.4"/><circle cx="517.7" cy="180.1" r="1.4"/><circle cx="521.2" cy="149.6" r="1.4"/><circle cx="523.9" cy="183.8" r="1.4"/><circle cx="524.9" cy="176.0" r="1.4"/><circle cx="520.8" cy="151.3" r="1.4"/><circle cx="518.8" cy="160.4" r="1.4"/><circle cx="522.1" cy="178.1" r="1.4"/><circle cx="517.1" cy="172.9" r="1.4"/><circle cx="516.8" cy="182.4" r="1.4"/><circle cx="528.3" cy="180.1" r="1.4"/><circle cx="526.2" cy="166.2" r="1.4"/><circle cx="516.6" cy="186.4" r="1.4"/><circle cx="527.6" cy="176.0" r="1.4"/><circle cx="514.6" cy="174.9" r="1.4"/><circle cx="522.1" cy="147.5" r="1.4"/><circle cx="516.7" cy="184.5" r="1.4"/><circle cx="523.9" cy="162.3" r="1.4"/><circle cx="520.5" cy="178.9" r="1.4"/><circle cx="521.1" cy="183.7" r="1.4"/><circle cx="518.6" cy="183.1" r="1.4"/><circle cx="519.2" cy="155.1" r="1.4"/><circle cx="515.0" cy="182.9" r="1.4"/><circle cx="524.3" cy="165.8" r="1.4"/><circle cx="518.1" cy="168.2" r="1.4"/><circle cx="527.9" cy="185.1" r="1.4"/><circle cx="528.6" cy="173.2" r="1.4"/><circle cx="526.5" cy="179.3" r="1.4"/><circle cx="521.1" cy="187.1" r="1.4"/><circle cx="520.2" cy="177.4" r="1.4"/><circle cx="525.7" cy="189.1" r="1.4"/><circle cx="523.0" cy="190.5" r="1.4"/><circle cx="518.5" cy="178.8" r="1.4"/><circle cx="519.4" cy="187.7" r="1.4"/><circle cx="527.4" cy="187.8" r="1.4"/><circle cx="521.7" cy="189.8" r="1.4"/><circle cx="523.7" cy="177.1" r="1.4"/><circle cx="515.9" cy="171.8" r="1.4"/><circle cx="526.9" cy="183.7" r="1.4"/><circle cx="523.8" cy="172.1" r="1.4"/><circle cx="522.2" cy="138.7" r="1.4"/><circle cx="516.3" cy="175.5" r="1.4"/><circle cx="521.2" cy="193.8" r="1.4"/><circle cx="522.2" cy="172.8" r="1.4"/><circle cx="523.4" cy="154.3" r="1.4"/><circle cx="522.4" cy="162.2" r="1.4"/><circle cx="522.3" cy="151.3" r="1.4"/><circle cx="525.0" cy="167.7" r="1.4"/><circle cx="520.2" cy="166.3" r="1.4"/><circle cx="525.6" cy="158.9" r="1.4"/><circle cx="521.5" cy="154.3" r="1.4"/><circle cx="515.6" cy="180.3" r="1.4"/><circle cx="519.6" cy="164.2" r="1.4"/><circle cx="520.4" cy="182.5" r="1.4"/><circle cx="526.7" cy="172.6" r="1.4"/><circle cx="524.8" cy="181.3" r="1.4"/><circle cx="518.5" cy="158.3" r="1.4"/><circle cx="522.8" cy="156.0" r="1.4"/><circle cx="519.3" cy="173.2" r="1.4"/>
</g>
<g fill="#000">
<circle cx="542.5" cy="174.5" r="1.4"/><circle cx="552.6" cy="158.1" r="1.4"/><circle cx="545.3" cy="171.1" r="1.4"/><circle cx="552.2" cy="162.5" r="1.4"/><circle cx="547.0" cy="171.2" r="1.4"/><circle cx="544.1" cy="167.7" r="1.4"/><circle cx="554.4" cy="184.1" r="1.4"/><circle cx="548.0" cy="164.0" r="1.4"/><circle cx="550.7" cy="170.9" r="1.4"/><circle cx="552.9" cy="164.4" r="1.4"/><circle cx="549.9" cy="153.7" r="1.4"/><circle cx="549.2" cy="144.1" r="1.4"/><circle cx="554.4" cy="160.0" r="1.4"/><circle cx="550.0" cy="181.4" r="1.4"/><circle cx="547.0" cy="182.2" r="1.4"/><circle cx="558.2" cy="173.9" r="1.4"/><circle cx="555.8" cy="181.6" r="1.4"/><circle cx="548.8" cy="183.3" r="1.4"/><circle cx="549.9" cy="138.8" r="1.4"/><circle cx="551.5" cy="181.5" r="1.4"/><circle cx="544.5" cy="179.4" r="1.4"/><circle cx="552.6" cy="176.9" r="1.4"/><circle cx="557.2" cy="172.1" r="1.4"/><circle cx="546.9" cy="166.8" r="1.4"/><circle cx="543.2" cy="173.2" r="1.4"/><circle cx="550.3" cy="146.3" r="1.4"/><circle cx="552.2" cy="151.5" r="1.4"/><circle cx="549.5" cy="162.9" r="1.4"/><circle cx="545.2" cy="173.5" r="1.4"/><circle cx="549.7" cy="172.5" r="1.4"/><circle cx="550.8" cy="144.9" r="1.4"/><circle cx="545.7" cy="183.4" r="1.4"/><circle cx="550.4" cy="176.6" r="1.4"/><circle cx="552.1" cy="175.0" r="1.4"/><circle cx="556.7" cy="177.4" r="1.4"/><circle cx="548.3" cy="151.5" r="1.4"/><circle cx="548.7" cy="175.2" r="1.4"/><circle cx="550.0" cy="184.5" r="1.4"/><circle cx="542.2" cy="168.9" r="1.4"/><circle cx="548.8" cy="178.4" r="1.4"/><circle cx="543.4" cy="175.7" r="1.4"/><circle cx="546.5" cy="169.6" r="1.4"/><circle cx="551.3" cy="172.8" r="1.4"/><circle cx="547.1" cy="173.8" r="1.4"/><circle cx="552.9" cy="187.5" r="1.4"/><circle cx="551.2" cy="189.8" r="1.4"/><circle cx="549.5" cy="152.2" r="1.4"/><circle cx="550.4" cy="186.8" r="1.4"/><circle cx="545.5" cy="164.5" r="1.4"/><circle cx="548.5" cy="184.9" r="1.4"/><circle cx="555.6" cy="171.3" r="1.4"/><circle cx="551.7" cy="153.8" r="1.4"/><circle cx="548.1" cy="158.8" r="1.4"/><circle cx="557.2" cy="174.9" r="1.4"/><circle cx="550.3" cy="169.5" r="1.4"/><circle cx="554.6" cy="172.7" r="1.4"/><circle cx="549.3" cy="173.9" r="1.4"/><circle cx="547.9" cy="161.9" r="1.4"/><circle cx="542.6" cy="171.1" r="1.4"/><circle cx="547.0" cy="186.2" r="1.4"/><circle cx="546.5" cy="176.0" r="1.4"/><circle cx="556.2" cy="166.4" r="1.4"/><circle cx="554.7" cy="178.7" r="1.4"/><circle cx="555.6" cy="169.4" r="1.4"/><circle cx="546.7" cy="157.7" r="1.4"/><circle cx="550.0" cy="133.8" r="1.4"/><circle cx="547.5" cy="156.2" r="1.4"/><circle cx="551.3" cy="156.2" r="1.4"/><circle cx="556.6" cy="178.8" r="1.4"/><circle cx="549.4" cy="188.6" r="1.4"/><circle cx="550.3" cy="142.8" r="1.4"/><circle cx="553.2" cy="167.5" r="1.4"/><circle cx="551.2" cy="168.1" r="1.4"/><circle cx="549.3" cy="167.6" r="1.4"/><circle cx="550.9" cy="157.7" r="1.4"/><circle cx="543.4" cy="181.0" r="1.4"/><circle cx="553.7" cy="175.1" r="1.4"/><circle cx="551.4" cy="165.9" r="1.4"/><circle cx="551.1" cy="163.3" r="1.4"/><circle cx="558.5" cy="170.0" r="1.4"/><circle cx="553.0" cy="159.5" r="1.4"/><circle cx="551.5" cy="149.5" r="1.4"/><circle cx="553.9" cy="185.7" r="1.4"/><circle cx="551.4" cy="160.0" r="1.4"/><circle cx="545.8" cy="177.5" r="1.4"/><circle cx="542.8" cy="178.5" r="1.4"/><circle cx="549.5" cy="156.6" r="1.4"/><circle cx="548.8" cy="180.4" r="1.4"/><circle cx="553.3" cy="181.4" r="1.4"/><circle cx="543.9" cy="182.3" r="1.4"/><circle cx="548.0" cy="154.9" r="1.4"/><circle cx="544.9" cy="169.2" r="1.4"/><circle cx="557.2" cy="181.0" r="1.4"/><circle cx="550.9" cy="140.9" r="1.4"/><circle cx="549.4" cy="164.6" r="1.4"/><circle cx="548.2" cy="153.0" r="1.4"/>
</g>
<rect x="485.10" y="148.58" width="18.40" height="2.20" fill="#ff2a0a"/>
<rect x="512.80" y="171.69" width="18.40" height="2.20" fill="#ff2a0a"/>
<rect x="541.10" y="168.92" width="18.40" height="2.20" fill="#ff2a0a"/>
<text x="499.60" y="218.00" font-size="10.2" text-anchor="end" transform="rotate(-45 499.60 218.00)">WT</text>
<text x="527.30" y="218.00" font-size="10.2" text-anchor="end" transform="rotate(-45 527.30 218.00)">NBS</text>
<text x="555.60" y="218.00" font-size="10.2" text-anchor="end" transform="rotate(-45 555.60 218.00)">DIAPH1-P4</text>
<line x1="591.10" y1="65.65" x2="591.10" y2="204.75" stroke="#000" stroke-width="1.5" stroke-linecap="butt"/>
<line x1="590.35" y1="204.00" x2="685.00" y2="204.00" stroke="#000" stroke-width="1.5" stroke-linecap="butt"/>
<line x1="585.40" y1="204.00" x2="591.10" y2="204.00" stroke="#000" stroke-width="1.5" stroke-linecap="butt"/>
<text x="583.60" y="208.48" font-size="10" text-anchor="end">0</text>
<line x1="585.40" y1="158.13" x2="591.10" y2="158.13" stroke="#000" stroke-width="1.5" stroke-linecap="butt"/>
<text x="583.60" y="162.61" font-size="10" text-anchor="end">10</text>
<line x1="585.40" y1="112.27" x2="591.10" y2="112.27" stroke="#000" stroke-width="1.5" stroke-linecap="butt"/>
<text x="583.60" y="116.75" font-size="10" text-anchor="end">20</text>
<line x1="585.40" y1="66.40" x2="591.10" y2="66.40" stroke="#000" stroke-width="1.5" stroke-linecap="butt"/>
<text x="583.60" y="70.88" font-size="10" text-anchor="end">30</text>
<line x1="609.40" y1="204.00" x2="609.40" y2="210.00" stroke="#000" stroke-width="1.5" stroke-linecap="butt"/>
<line x1="637.10" y1="204.00" x2="637.10" y2="210.00" stroke="#000" stroke-width="1.5" stroke-linecap="butt"/>
<line x1="665.00" y1="204.00" x2="665.00" y2="210.00" stroke="#000" stroke-width="1.5" stroke-linecap="butt"/>
<text x="637.50" y="40.50" font-size="10.2" text-anchor="middle" class="b">24 h post-ETOP</text>
<path d="M607.40 82.90V78.90H669.10V82.90" fill="none" stroke="#000" stroke-width="1.15" stroke-linejoin="round"/>
<text x="638.00" y="75.60" font-size="7.8" text-anchor="middle" class="s">p=&lt;0.0001</text>
<path d="M607.40 101.50V97.50H638.00V101.50" fill="none" stroke="#000" stroke-width="1.15" stroke-linejoin="round"/>
<text x="622.00" y="94.90" font-size="7.8" text-anchor="middle" class="s">p=&lt;0.0001</text>
<path d="M638.20 109.20V105.20H669.40V109.20" fill="none" stroke="#000" stroke-width="1.15" stroke-linejoin="round"/>
<text x="655.50" y="102.60" font-size="7.8" text-anchor="middle" class="s">p=0.0794</text>
<g fill="#000">
<circle cx="611.5" cy="159.4" r="1.4"/><circle cx="601.6" cy="151.0" r="1.4"/><circle cx="610.1" cy="160.5" r="1.4"/><circle cx="608.7" cy="128.6" r="1.4"/><circle cx="607.4" cy="153.8" r="1.4"/><circle cx="608.4" cy="124.5" r="1.4"/><circle cx="609.3" cy="162.8" r="1.4"/><circle cx="613.6" cy="159.0" r="1.4"/><circle cx="611.2" cy="135.4" r="1.4"/><circle cx="609.4" cy="177.1" r="1.4"/><circle cx="602.5" cy="161.5" r="1.4"/><circle cx="616.3" cy="159.9" r="1.4"/><circle cx="607.5" cy="135.2" r="1.4"/><circle cx="608.3" cy="126.5" r="1.4"/><circle cx="610.7" cy="178.1" r="1.4"/><circle cx="614.5" cy="155.6" r="1.4"/><circle cx="603.3" cy="152.4" r="1.4"/><circle cx="613.9" cy="147.7" r="1.4"/><circle cx="604.8" cy="150.4" r="1.4"/><circle cx="612.9" cy="155.7" r="1.4"/><circle cx="612.1" cy="165.1" r="1.4"/><circle cx="605.9" cy="160.4" r="1.4"/><circle cx="605.9" cy="154.0" r="1.4"/><circle cx="609.8" cy="174.8" r="1.4"/><circle cx="610.7" cy="151.3" r="1.4"/><circle cx="610.0" cy="172.0" r="1.4"/><circle cx="607.3" cy="139.7" r="1.4"/><circle cx="612.1" cy="139.7" r="1.4"/><circle cx="605.3" cy="166.0" r="1.4"/><circle cx="605.9" cy="155.4" r="1.4"/><circle cx="610.0" cy="131.8" r="1.4"/><circle cx="607.9" cy="152.5" r="1.4"/><circle cx="604.6" cy="157.3" r="1.4"/><circle cx="604.8" cy="164.2" r="1.4"/><circle cx="602.0" cy="158.6" r="1.4"/><circle cx="606.6" cy="168.4" r="1.4"/><circle cx="609.4" cy="137.3" r="1.4"/><circle cx="616.9" cy="156.1" r="1.4"/><circle cx="607.8" cy="163.0" r="1.4"/><circle cx="610.8" cy="128.3" r="1.4"/><circle cx="616.1" cy="150.2" r="1.4"/><circle cx="602.9" cy="154.7" r="1.4"/><circle cx="610.2" cy="133.4" r="1.4"/><circle cx="613.2" cy="162.8" r="1.4"/><circle cx="602.7" cy="157.2" r="1.4"/><circle cx="612.0" cy="142.8" r="1.4"/><circle cx="609.8" cy="167.4" r="1.4"/><circle cx="608.8" cy="158.2" r="1.4"/><circle cx="611.5" cy="174.7" r="1.4"/><circle cx="609.3" cy="182.6" r="1.4"/><circle cx="605.4" cy="170.8" r="1.4"/><circle cx="608.8" cy="130.9" r="1.4"/><circle cx="606.9" cy="151.0" r="1.4"/><circle cx="607.8" cy="171.2" r="1.4"/><circle cx="612.1" cy="161.7" r="1.4"/><circle cx="604.4" cy="154.9" r="1.4"/><circle cx="610.8" cy="143.8" r="1.4"/><circle cx="614.7" cy="165.5" r="1.4"/><circle cx="607.4" cy="166.2" r="1.4"/><circle cx="608.0" cy="145.6" r="1.4"/><circle cx="609.6" cy="147.4" r="1.4"/><circle cx="605.2" cy="144.6" r="1.4"/><circle cx="615.4" cy="161.0" r="1.4"/><circle cx="604.1" cy="146.6" r="1.4"/><circle cx="609.4" cy="114.1" r="1.4"/><circle cx="609.4" cy="105.8" r="1.4"/><circle cx="609.4" cy="204.0" r="1.4"/>
</g>
<g fill="#000">
<circle cx="639.4" cy="189.9" r="1.4"/><circle cx="636.8" cy="191.9" r="1.4"/><circle cx="638.2" cy="190.8" r="1.4"/><circle cx="629.7" cy="179.7" r="1.4"/><circle cx="637.0" cy="180.0" r="1.4"/><circle cx="642.6" cy="183.8" r="1.4"/><circle cx="644.3" cy="181.7" r="1.4"/><circle cx="644.9" cy="180.1" r="1.4"/><circle cx="638.3" cy="169.6" r="1.4"/><circle cx="629.7" cy="176.0" r="1.4"/><circle cx="630.0" cy="173.3" r="1.4"/><circle cx="636.9" cy="175.2" r="1.4"/><circle cx="633.7" cy="178.1" r="1.4"/><circle cx="635.8" cy="172.3" r="1.4"/><circle cx="639.0" cy="166.3" r="1.4"/><circle cx="639.9" cy="187.5" r="1.4"/><circle cx="640.5" cy="169.6" r="1.4"/><circle cx="635.8" cy="159.9" r="1.4"/><circle cx="633.7" cy="168.7" r="1.4"/><circle cx="635.4" cy="170.4" r="1.4"/><circle cx="643.3" cy="172.5" r="1.4"/><circle cx="631.2" cy="182.3" r="1.4"/><circle cx="634.4" cy="175.1" r="1.4"/><circle cx="640.2" cy="181.7" r="1.4"/><circle cx="643.0" cy="187.5" r="1.4"/><circle cx="644.7" cy="184.9" r="1.4"/><circle cx="638.3" cy="177.8" r="1.4"/><circle cx="636.9" cy="183.4" r="1.4"/><circle cx="637.2" cy="160.0" r="1.4"/><circle cx="630.7" cy="171.5" r="1.4"/><circle cx="642.0" cy="178.7" r="1.4"/><circle cx="639.1" cy="183.5" r="1.4"/><circle cx="632.5" cy="181.9" r="1.4"/><circle cx="639.3" cy="173.4" r="1.4"/><circle cx="640.7" cy="176.0" r="1.4"/><circle cx="638.7" cy="176.1" r="1.4"/><circle cx="632.2" cy="174.5" r="1.4"/><circle cx="637.2" cy="194.6" r="1.4"/><circle cx="635.9" cy="164.8" r="1.4"/><circle cx="635.0" cy="173.7" r="1.4"/><circle cx="637.2" cy="155.5" r="1.4"/><circle cx="637.1" cy="187.6" r="1.4"/><circle cx="634.4" cy="181.0" r="1.4"/><circle cx="640.2" cy="180.3" r="1.4"/><circle cx="645.1" cy="178.2" r="1.4"/><circle cx="639.1" cy="179.8" r="1.4"/><circle cx="637.6" cy="173.1" r="1.4"/><circle cx="638.8" cy="192.3" r="1.4"/><circle cx="633.8" cy="185.4" r="1.4"/><circle cx="637.3" cy="162.3" r="1.4"/><circle cx="638.4" cy="188.3" r="1.4"/><circle cx="640.7" cy="173.1" r="1.4"/><circle cx="631.9" cy="178.2" r="1.4"/><circle cx="639.5" cy="185.5" r="1.4"/><circle cx="638.7" cy="165.1" r="1.4"/><circle cx="635.1" cy="188.6" r="1.4"/><circle cx="643.4" cy="176.0" r="1.4"/><circle cx="635.3" cy="187.1" r="1.4"/><circle cx="635.3" cy="179.9" r="1.4"/><circle cx="635.3" cy="166.4" r="1.4"/><circle cx="635.9" cy="178.7" r="1.4"/><circle cx="636.9" cy="158.5" r="1.4"/><circle cx="637.5" cy="166.2" r="1.4"/><circle cx="637.7" cy="182.0" r="1.4"/><circle cx="633.9" cy="172.1" r="1.4"/><circle cx="643.2" cy="180.1" r="1.4"/><circle cx="637.1" cy="189.9" r="1.4"/><circle cx="631.7" cy="187.0" r="1.4"/><circle cx="630.9" cy="177.1" r="1.4"/><circle cx="645.4" cy="176.7" r="1.4"/><circle cx="635.7" cy="185.2" r="1.4"/><circle cx="632.0" cy="185.3" r="1.4"/><circle cx="640.8" cy="167.8" r="1.4"/><circle cx="633.7" cy="187.8" r="1.4"/><circle cx="629.9" cy="183.3" r="1.4"/><circle cx="632.0" cy="173.0" r="1.4"/><circle cx="637.1" cy="204.0" r="1.4"/>
</g>
<g fill="#000">
<circle cx="664.9" cy="156.7" r="1.4"/><circle cx="662.9" cy="188.8" r="1.4"/><circle cx="664.5" cy="186.5" r="1.4"/><circle cx="665.4" cy="153.3" r="1.4"/><circle cx="668.4" cy="187.8" r="1.4"/><circle cx="661.3" cy="167.2" r="1.4"/><circle cx="661.3" cy="188.2" r="1.4"/><circle cx="660.5" cy="172.7" r="1.4"/><circle cx="667.9" cy="179.3" r="1.4"/><circle cx="663.3" cy="175.0" r="1.4"/><circle cx="663.4" cy="180.4" r="1.4"/><circle cx="663.7" cy="158.2" r="1.4"/><circle cx="665.1" cy="173.5" r="1.4"/><circle cx="663.9" cy="151.9" r="1.4"/><circle cx="659.6" cy="179.0" r="1.4"/><circle cx="666.8" cy="180.3" r="1.4"/><circle cx="665.7" cy="185.4" r="1.4"/><circle cx="657.3" cy="181.9" r="1.4"/><circle cx="667.8" cy="175.0" r="1.4"/><circle cx="664.4" cy="176.6" r="1.4"/><circle cx="670.7" cy="184.6" r="1.4"/><circle cx="657.2" cy="176.1" r="1.4"/><circle cx="667.8" cy="177.2" r="1.4"/><circle cx="667.7" cy="169.7" r="1.4"/><circle cx="667.1" cy="184.4" r="1.4"/><circle cx="661.8" cy="177.3" r="1.4"/><circle cx="664.0" cy="182.2" r="1.4"/><circle cx="668.5" cy="171.9" r="1.4"/><circle cx="665.1" cy="192.1" r="1.4"/><circle cx="659.6" cy="182.6" r="1.4"/><circle cx="666.0" cy="163.1" r="1.4"/><circle cx="662.3" cy="163.4" r="1.4"/><circle cx="659.1" cy="174.7" r="1.4"/><circle cx="657.3" cy="183.8" r="1.4"/><circle cx="664.0" cy="165.4" r="1.4"/><circle cx="659.1" cy="172.0" r="1.4"/><circle cx="671.7" cy="173.6" r="1.4"/><circle cx="670.0" cy="171.4" r="1.4"/><circle cx="665.7" cy="179.0" r="1.4"/><circle cx="657.9" cy="173.5" r="1.4"/><circle cx="665.4" cy="171.4" r="1.4"/><circle cx="661.2" cy="180.3" r="1.4"/><circle cx="663.6" cy="170.2" r="1.4"/><circle cx="663.1" cy="178.2" r="1.4"/><circle cx="670.8" cy="174.8" r="1.4"/><circle cx="669.8" cy="179.2" r="1.4"/><circle cx="665.0" cy="146.5" r="1.4"/><circle cx="669.2" cy="183.0" r="1.4"/><circle cx="671.5" cy="178.4" r="1.4"/><circle cx="662.4" cy="169.7" r="1.4"/><circle cx="662.3" cy="183.5" r="1.4"/><circle cx="664.9" cy="188.1" r="1.4"/><circle cx="665.7" cy="181.2" r="1.4"/><circle cx="666.3" cy="154.9" r="1.4"/><circle cx="661.1" cy="170.2" r="1.4"/><circle cx="665.3" cy="143.3" r="1.4"/><circle cx="668.0" cy="167.0" r="1.4"/><circle cx="660.7" cy="184.9" r="1.4"/><circle cx="669.5" cy="176.9" r="1.4"/><circle cx="666.7" cy="164.9" r="1.4"/><circle cx="666.2" cy="150.7" r="1.4"/><circle cx="670.0" cy="186.3" r="1.4"/><circle cx="663.6" cy="161.1" r="1.4"/><circle cx="663.8" cy="155.1" r="1.4"/><circle cx="671.6" cy="176.1" r="1.4"/><circle cx="666.0" cy="176.6" r="1.4"/><circle cx="664.7" cy="167.3" r="1.4"/><circle cx="659.6" cy="176.2" r="1.4"/><circle cx="671.7" cy="170.9" r="1.4"/><circle cx="664.7" cy="161.7" r="1.4"/><circle cx="665.9" cy="158.1" r="1.4"/><circle cx="659.6" cy="180.3" r="1.4"/><circle cx="672.3" cy="183.4" r="1.4"/><circle cx="667.1" cy="159.2" r="1.4"/><circle cx="665.2" cy="175.5" r="1.4"/><circle cx="672.5" cy="177.0" r="1.4"/><circle cx="665.0" cy="130.2" r="1.4"/><circle cx="665.0" cy="67.3" r="1.4"/>
</g>
<rect x="600.20" y="155.20" width="18.40" height="2.20" fill="#ff2a0a"/>
<rect x="627.90" y="178.13" width="18.40" height="2.20" fill="#ff2a0a"/>
<rect x="655.80" y="172.17" width="18.40" height="2.20" fill="#ff2a0a"/>
<text x="614.70" y="218.00" font-size="10.2" text-anchor="end" transform="rotate(-45 614.70 218.00)">WT</text>
<text x="642.40" y="218.00" font-size="10.2" text-anchor="end" transform="rotate(-45 642.40 218.00)">NBS</text>
<text x="670.30" y="218.00" font-size="10.2" text-anchor="end" transform="rotate(-45 670.30 218.00)">DIAPH1-P4</text>
<line x1="54.70" y1="297.80" x2="54.70" y2="458.70" stroke="#000" stroke-width="1.8" stroke-linecap="butt"/>
<line x1="53.80" y1="457.80" x2="164.00" y2="457.80" stroke="#000" stroke-width="1.8" stroke-linecap="butt"/>
<line x1="48.10" y1="457.80" x2="54.70" y2="457.80" stroke="#000" stroke-width="1.8" stroke-linecap="butt"/>
<text x="45.10" y="464.31" font-size="9.8" text-anchor="end">0</text>
<line x1="48.10" y1="404.77" x2="54.70" y2="404.77" stroke="#000" stroke-width="1.8" stroke-linecap="butt"/>
<text x="45.10" y="411.28" font-size="9.8" text-anchor="end">5</text>
<line x1="48.10" y1="351.73" x2="54.70" y2="351.73" stroke="#000" stroke-width="1.8" stroke-linecap="butt"/>
<text x="45.10" y="358.24" font-size="9.8" text-anchor="end">10</text>
<line x1="48.10" y1="298.70" x2="54.70" y2="298.70" stroke="#000" stroke-width="1.8" stroke-linecap="butt"/>
<text x="45.10" y="305.21" font-size="9.8" text-anchor="end">15</text>
<line x1="71.45" y1="457.80" x2="71.45" y2="464.40" stroke="#000" stroke-width="1.8" stroke-linecap="butt"/>
<line x1="96.65" y1="457.80" x2="96.65" y2="464.40" stroke="#000" stroke-width="1.8" stroke-linecap="butt"/>
<line x1="122.05" y1="457.80" x2="122.05" y2="464.40" stroke="#000" stroke-width="1.8" stroke-linecap="butt"/>
<line x1="147.35" y1="457.80" x2="147.35" y2="464.40" stroke="#000" stroke-width="1.8" stroke-linecap="butt"/>
<text x="15.90" y="379.50" font-size="10.5" text-anchor="middle" transform="rotate(-90 15.90 379.50)">% RFP +ve/</text>
<text x="27.30" y="383.50" font-size="10.3" text-anchor="middle" transform="rotate(-90 27.30 383.50)">mClover-LMNA +ve cells</text>
<rect x="63.65" y="362.76" width="15.60" height="95.04" fill="#000" stroke="#000" stroke-width="1.3"/>
<path d="M71.45 368.17V357.35M67.05 368.17h8.80M67.05 357.35h8.80" fill="none" stroke="#000" stroke-width="1.15"/>
<g fill="#ff2a0a">
<circle cx="71.5" cy="354.9" r="1.65"/><circle cx="71.5" cy="360.9" r="1.65"/><circle cx="71.5" cy="372.1" r="1.65"/>
</g>
<rect x="88.85" y="410.71" width="15.60" height="47.09" fill="#8a8a8a" stroke="#000" stroke-width="1.3"/>
<path d="M96.65 418.24V403.39M92.25 418.24h8.80M92.25 403.39h8.80" fill="none" stroke="#000" stroke-width="1.15"/>
<g fill="#ff2a0a">
<circle cx="96.7" cy="396.5" r="1.65"/><circle cx="96.7" cy="414.2" r="1.65"/><circle cx="96.7" cy="421.4" r="1.65"/>
</g>
<rect x="114.25" y="423.96" width="15.60" height="33.84" fill="#afafb4" stroke="#000" stroke-width="1.3"/>
<path d="M122.05 428.00V419.51M117.65 428.00h8.80M117.65 419.51h8.80" fill="none" stroke="#000" stroke-width="1.15"/>
<g fill="#ff2a0a">
<circle cx="122.0" cy="416.3" r="1.65"/><circle cx="122.0" cy="424.6" r="1.65"/><circle cx="122.0" cy="430.8" r="1.65"/>
</g>
<rect x="139.45" y="415.06" width="15.80" height="42.74" fill="#fff" stroke="#000" stroke-width="1.3"/>
<path d="M147.35 418.98V411.13M142.95 418.98h8.80M142.95 411.13h8.80" fill="none" stroke="#000" stroke-width="1.15"/>
<g fill="#ff2a0a">
<circle cx="143.9" cy="411.0" r="1.65"/><circle cx="150.6" cy="411.0" r="1.65"/><circle cx="147.1" cy="422.7" r="1.65"/>
</g>
<path d="M71.20 314.20V310.20H147.60V314.20" fill="none" stroke="#000" stroke-width="1.4" stroke-linejoin="round"/>
<text x="109.60" y="305.30" font-size="7.8" text-anchor="middle" class="s">p=0.0030</text>
<path d="M71.20 329.50V325.50H122.40V329.50" fill="none" stroke="#000" stroke-width="1.4" stroke-linejoin="round"/>
<text x="96.00" y="321.30" font-size="7.8" text-anchor="middle" class="s">p=0.0011</text>
<path d="M71.40 346.70V342.70H91.60V346.70" fill="none" stroke="#000" stroke-width="1.4" stroke-linejoin="round"/>
<text x="81.50" y="339.40" font-size="7.8" text-anchor="middle" class="s">p=0.00382</text>
<text x="74.95" y="471.30" font-size="10.2" text-anchor="end" transform="rotate(-45 74.95 471.30)">siControl</text>
<text x="100.15" y="471.30" font-size="10.2" text-anchor="end" transform="rotate(-45 100.15 471.30)">siDIAPH1</text>
<text x="125.55" y="471.30" font-size="10.2" text-anchor="end" transform="rotate(-45 125.55 471.30)">siBRCA2</text>
<text x="150.85" y="471.30" font-size="10.2" text-anchor="end" transform="rotate(-45 150.85 471.30)">siNBS1</text>
<text x="177.80" y="324.90" font-size="10.3" text-anchor="middle" transform="rotate(-90 177.80 324.90)">mClover</text>
<text x="177.80" y="376.60" font-size="10.3" text-anchor="middle" transform="rotate(-90 177.80 376.60)">RFP</text>
<text x="177.80" y="441.20" font-size="10.3" text-anchor="middle" transform="rotate(-90 177.80 441.20)">DAPI</text>
<text x="216.10" y="291.00" font-size="10.4" text-anchor="middle">siControl</text>
<text x="276.10" y="291.00" font-size="10.4" text-anchor="middle">siDIAPH1</text>
<text x="339.00" y="291.00" font-size="10.4" text-anchor="middle">siBRCA2</text>
<text x="402.00" y="291.00" font-size="10.4" text-anchor="middle">siNBS1</text>
<line x1="532.80" y1="287.70" x2="532.80" y2="474.70" stroke="#000" stroke-width="2.0" stroke-linecap="butt"/>
<line x1="531.80" y1="473.70" x2="658.20" y2="473.70" stroke="#000" stroke-width="2.0" stroke-linecap="butt"/>
<line x1="525.80" y1="473.70" x2="532.80" y2="473.70" stroke="#000" stroke-width="2.0" stroke-linecap="butt"/>
<text x="521.90" y="477.35" font-size="10.2" text-anchor="end">0</text>
<line x1="525.80" y1="436.70" x2="532.80" y2="436.70" stroke="#000" stroke-width="2.0" stroke-linecap="butt"/>
<text x="521.90" y="440.35" font-size="10.2" text-anchor="end">20</text>
<line x1="525.80" y1="399.70" x2="532.80" y2="399.70" stroke="#000" stroke-width="2.0" stroke-linecap="butt"/>
<text x="521.90" y="403.35" font-size="10.2" text-anchor="end">40</text>
<line x1="525.80" y1="362.70" x2="532.80" y2="362.70" stroke="#000" stroke-width="2.0" stroke-linecap="butt"/>
<text x="521.90" y="366.35" font-size="10.2" text-anchor="end">60</text>
<line x1="525.80" y1="325.70" x2="532.80" y2="325.70" stroke="#000" stroke-width="2.0" stroke-linecap="butt"/>
<text x="521.90" y="329.35" font-size="10.2" text-anchor="end">80</text>
<line x1="525.80" y1="288.70" x2="532.80" y2="288.70" stroke="#000" stroke-width="2.0" stroke-linecap="butt"/>
<text x="521.90" y="292.35" font-size="10.2" text-anchor="end">100</text>
<line x1="552.00" y1="473.70" x2="552.00" y2="481.60" stroke="#000" stroke-width="2.0" stroke-linecap="butt"/>
<line x1="595.40" y1="473.70" x2="595.40" y2="481.60" stroke="#000" stroke-width="2.0" stroke-linecap="butt"/>
<line x1="638.80" y1="473.70" x2="638.80" y2="481.60" stroke="#000" stroke-width="2.0" stroke-linecap="butt"/>
<text x="490.30" y="378.00" font-size="10.3" text-anchor="middle" transform="rotate(-90 490.30 378.00)">% CENPF + ve cells with</text>
<text x="501.70" y="378.50" font-size="10.3" text-anchor="middle" transform="rotate(-90 501.70 378.50)">BRCA1 foci</text>
<rect x="539.00" y="431.21" width="9.70" height="42.49" fill="#000" stroke="#000" stroke-width="1.2"/>
<path d="M543.85 438.92V423.56M540.55 438.92h6.60M540.55 423.56h6.60" fill="none" stroke="#000" stroke-width="1.1"/>
<g fill="#ff2a0a">
<circle cx="543.8" cy="418.2" r="1.9"/><circle cx="543.8" cy="430.8" r="1.9"/><circle cx="543.8" cy="445.0" r="1.9"/>
</g>
<rect x="555.20" y="418.75" width="10.00" height="54.94" fill="#fff" stroke="#000" stroke-width="1.2"/>
<path d="M560.20 429.30V407.28M556.90 429.30h6.60M556.90 407.28h6.60" fill="none" stroke="#000" stroke-width="1.1"/>
<g fill="#ff2a0a">
<circle cx="560.2" cy="398.2" r="1.9"/><circle cx="560.2" cy="421.0" r="1.9"/><circle cx="560.2" cy="436.5" r="1.9"/>
</g>
<rect x="582.70" y="402.85" width="9.80" height="70.85" fill="#000" stroke="#000" stroke-width="1.2"/>
<path d="M587.60 408.39V397.30M584.30 408.39h6.60M584.30 397.30h6.60" fill="none" stroke="#000" stroke-width="1.1"/>
<g fill="#ff2a0a">
<circle cx="587.6" cy="392.7" r="1.9"/><circle cx="587.6" cy="404.3" r="1.9"/><circle cx="587.6" cy="412.1" r="1.9"/>
</g>
<rect x="598.70" y="367.51" width="10.30" height="106.19" fill="#fff" stroke="#000" stroke-width="1.2"/>
<path d="M603.85 374.73V359.37M600.55 374.73h6.60M600.55 359.37h6.60" fill="none" stroke="#000" stroke-width="1.1"/>
<g fill="#ff2a0a">
<circle cx="603.9" cy="352.3" r="1.9"/><circle cx="603.9" cy="369.7" r="1.9"/><circle cx="603.9" cy="380.3" r="1.9"/>
</g>
<rect x="626.20" y="380.83" width="10.00" height="92.87" fill="#000" stroke="#000" stroke-width="1.2"/>
<path d="M631.20 389.52V372.13M627.90 389.52h6.60M627.90 372.13h6.60" fill="none" stroke="#000" stroke-width="1.1"/>
<g fill="#ff2a0a">
<circle cx="631.2" cy="366.0" r="1.9"/><circle cx="631.2" cy="381.4" r="1.9"/><circle cx="631.2" cy="395.3" r="1.9"/>
</g>
<rect x="642.70" y="340.68" width="9.80" height="133.02" fill="#fff" stroke="#000" stroke-width="1.2"/>
<path d="M647.60 352.34V329.22M644.30 352.34h6.60M644.30 329.22h6.60" fill="none" stroke="#000" stroke-width="1.1"/>
<g fill="#ff2a0a">
<circle cx="647.6" cy="320.5" r="1.9"/><circle cx="647.6" cy="341.8" r="1.9"/><circle cx="647.6" cy="359.4" r="1.9"/>
</g>
<path d="M541.00 387.30V383.10H561.40V387.30" fill="none" stroke="#000" stroke-width="1.3" stroke-linejoin="round"/>
<text x="551.30" y="379.70" font-size="7.8" text-anchor="middle" class="s">p=0.5335</text>
<path d="M584.30 347.10V342.90H604.30V347.10" fill="none" stroke="#000" stroke-width="1.3" stroke-linejoin="round"/>
<text x="592.20" y="338.60" font-size="7.8" text-anchor="middle" class="s">p=0.0475</text>
<path d="M628.20 315.60V311.40H648.70V315.60" fill="none" stroke="#000" stroke-width="1.3" stroke-linejoin="round"/>
<text x="639.20" y="309.80" font-size="7.8" text-anchor="middle" class="s">p=0.0325</text>
<rect x="542.30" y="269.90" width="78.00" height="31.20" fill="#fff" stroke="#000" stroke-width="1.05"/>
<rect x="546.40" y="275.10" width="7.00" height="7.80" fill="#000" stroke="#000" stroke-width="0.8"/>
<rect x="546.00" y="288.80" width="7.00" height="7.40" fill="#fff" stroke="#000" stroke-width="1.1"/>
<text x="557.00" y="283.20" font-size="10.6">P1 + Vector</text>
<text x="556.50" y="296.50" font-size="10.15">P1 + DIAPH1</text>
<text x="551.50" y="492.80" font-size="10.2" text-anchor="middle">0</text>
<text x="596.00" y="492.80" font-size="10.2" text-anchor="middle">1</text>
<text x="640.30" y="492.80" font-size="10.2" text-anchor="middle">4</text>
<text x="512.20" y="486.50" font-size="10.2" text-anchor="end">Time (h)</text>
<text x="512.20" y="498.00" font-size="10.2" text-anchor="end">after CPT</text>
<line x1="87.10" y1="568.75" x2="87.10" y2="759.95" stroke="#000" stroke-width="1.9" stroke-linecap="butt"/>
<line x1="86.15" y1="759.00" x2="268.50" y2="759.00" stroke="#000" stroke-width="1.9" stroke-linecap="butt"/>
<line x1="80.10" y1="759.00" x2="87.10" y2="759.00" stroke="#000" stroke-width="1.9" stroke-linecap="butt"/>
<text x="78.30" y="763.25" font-size="10.2" text-anchor="end">0</text>
<line x1="80.10" y1="721.14" x2="87.10" y2="721.14" stroke="#000" stroke-width="1.9" stroke-linecap="butt"/>
<text x="78.30" y="725.39" font-size="10.2" text-anchor="end">20</text>
<line x1="80.10" y1="683.28" x2="87.10" y2="683.28" stroke="#000" stroke-width="1.9" stroke-linecap="butt"/>
<text x="78.30" y="687.53" font-size="10.2" text-anchor="end">40</text>
<line x1="80.10" y1="645.42" x2="87.10" y2="645.42" stroke="#000" stroke-width="1.9" stroke-linecap="butt"/>
<text x="78.30" y="649.67" font-size="10.2" text-anchor="end">60</text>
<line x1="80.10" y1="607.56" x2="87.10" y2="607.56" stroke="#000" stroke-width="1.9" stroke-linecap="butt"/>
<text x="78.30" y="611.81" font-size="10.2" text-anchor="end">80</text>
<line x1="80.10" y1="569.70" x2="87.10" y2="569.70" stroke="#000" stroke-width="1.9" stroke-linecap="butt"/>
<text x="78.30" y="573.95" font-size="10.2" text-anchor="end">100</text>
<line x1="106.20" y1="759.00" x2="106.20" y2="766.90" stroke="#000" stroke-width="1.9" stroke-linecap="butt"/>
<line x1="134.60" y1="759.00" x2="134.60" y2="766.90" stroke="#000" stroke-width="1.9" stroke-linecap="butt"/>
<line x1="163.20" y1="759.00" x2="163.20" y2="766.90" stroke="#000" stroke-width="1.9" stroke-linecap="butt"/>
<line x1="191.70" y1="759.00" x2="191.70" y2="766.90" stroke="#000" stroke-width="1.9" stroke-linecap="butt"/>
<line x1="220.30" y1="759.00" x2="220.30" y2="766.90" stroke="#000" stroke-width="1.9" stroke-linecap="butt"/>
<line x1="249.10" y1="759.00" x2="249.10" y2="766.90" stroke="#000" stroke-width="1.9" stroke-linecap="butt"/>
<text x="45.40" y="666.80" font-size="10.3" text-anchor="middle" transform="rotate(-90 45.40 666.80)">Relative RPA2 intensity in</text>
<text x="57.00" y="666.80" font-size="10.3" text-anchor="middle" transform="rotate(-90 57.00 666.80)">CENPF +ve cells</text>
<text x="88.00" y="546.30" font-size="10.2" text-anchor="end">Time (h)</text>
<text x="88.00" y="558.60" font-size="10.2" text-anchor="end">after CPT</text>
<text x="119.30" y="554.50" font-size="10.2" text-anchor="middle">0</text>
<text x="174.40" y="554.50" font-size="10.2" text-anchor="middle">1</text>
<text x="231.50" y="554.50" font-size="10.2" text-anchor="middle">4</text>
<path d="M101.2 751.2L97.9 748.7L99.4 746.3L100.4 743.8L101.2 741.3L100.6 738.8L100.5 736.3L101.6 733.8L101.5 731.3L102.6 728.8L103.3 726.3L101.4 723.9L101.1 721.4L101.3 718.9L101.7 716.4L100.9 713.9L102.9 711.4L103.2 708.9L104.5 706.4L103.8 703.9L104.1 701.5L103.4 699.0L105.2 696.5L103.9 694.0L106.0 691.5L104.5 689.0L105.9 686.5L105.9 684.0L106.5 684.0L106.5 686.5L107.6 689.0L106.4 691.5L108.0 694.0L108.5 696.5L109.0 699.0L107.6 701.5L108.0 703.9L108.9 706.4L110.6 708.9L109.0 711.4L112.1 713.9L110.0 716.4L110.2 718.9L109.9 721.4L109.8 723.9L109.3 726.3L109.3 728.8L109.6 731.3L111.3 733.8L111.4 736.3L111.4 738.8L112.3 741.3L112.8 743.8L113.0 746.3L114.6 748.7L109.0 751.2Z" fill="#000"/>
<g fill="#000">
<circle cx="101.2" cy="751.4" r="1.75"/><circle cx="109.0" cy="751.5" r="1.75"/><circle cx="97.9" cy="748.7" r="1.75"/><circle cx="114.6" cy="748.4" r="1.75"/><circle cx="99.4" cy="746.6" r="1.75"/><circle cx="113.0" cy="746.5" r="1.75"/><circle cx="100.4" cy="743.8" r="1.75"/><circle cx="112.8" cy="743.6" r="1.75"/><circle cx="101.2" cy="740.9" r="1.75"/><circle cx="112.3" cy="741.5" r="1.75"/><circle cx="100.6" cy="738.5" r="1.75"/><circle cx="111.4" cy="739.1" r="1.75"/><circle cx="100.5" cy="736.2" r="1.75"/><circle cx="111.4" cy="736.7" r="1.75"/><circle cx="101.6" cy="733.6" r="1.75"/><circle cx="111.3" cy="733.8" r="1.75"/><circle cx="101.5" cy="731.3" r="1.75"/><circle cx="109.6" cy="731.3" r="1.75"/><circle cx="102.6" cy="728.7" r="1.75"/><circle cx="109.3" cy="728.5" r="1.75"/><circle cx="103.3" cy="726.6" r="1.75"/><circle cx="109.3" cy="726.5" r="1.75"/><circle cx="101.4" cy="724.2" r="1.75"/><circle cx="109.8" cy="723.6" r="1.75"/><circle cx="101.1" cy="721.0" r="1.75"/><circle cx="109.9" cy="721.1" r="1.75"/><circle cx="101.3" cy="719.0" r="1.75"/><circle cx="110.2" cy="719.0" r="1.75"/><circle cx="101.7" cy="716.3" r="1.75"/><circle cx="110.0" cy="716.7" r="1.75"/><circle cx="100.9" cy="713.7" r="1.75"/><circle cx="112.1" cy="714.2" r="1.75"/><circle cx="102.9" cy="711.2" r="1.75"/><circle cx="109.0" cy="711.2" r="1.75"/><circle cx="103.2" cy="708.9" r="1.75"/><circle cx="110.6" cy="708.9" r="1.75"/><circle cx="104.5" cy="706.3" r="1.75"/><circle cx="108.9" cy="706.2" r="1.75"/><circle cx="103.8" cy="703.6" r="1.75"/><circle cx="108.0" cy="703.6" r="1.75"/><circle cx="104.1" cy="701.5" r="1.75"/><circle cx="107.6" cy="701.8" r="1.75"/><circle cx="103.4" cy="699.0" r="1.75"/><circle cx="109.0" cy="698.7" r="1.75"/><circle cx="105.2" cy="696.6" r="1.75"/><circle cx="108.5" cy="696.5" r="1.75"/><circle cx="103.9" cy="694.2" r="1.75"/><circle cx="108.0" cy="693.7" r="1.75"/><circle cx="106.0" cy="691.7" r="1.75"/><circle cx="106.4" cy="691.8" r="1.75"/><circle cx="104.5" cy="689.2" r="1.75"/><circle cx="107.6" cy="689.4" r="1.75"/><circle cx="106.0" cy="686.5" r="1.75"/><circle cx="106.1" cy="684.0" r="1.75"/><circle cx="106.2" cy="680.4" r="1.75"/><circle cx="106.5" cy="677.2" r="1.75"/><circle cx="106.0" cy="674.2" r="1.75"/><circle cx="106.2" cy="670.8" r="1.75"/><circle cx="106.2" cy="667.0" r="1.75"/>
</g>
<path d="M133.9 752.4L130.8 749.9L129.4 747.3L129.7 744.8L129.3 742.3L125.9 739.8L127.2 737.3L128.0 734.8L130.2 732.3L130.3 729.8L129.1 727.2L129.6 724.7L127.4 722.2L127.3 719.7L128.0 717.2L127.7 714.7L130.2 712.2L128.4 709.7L128.6 707.1L131.5 704.6L130.7 702.1L131.9 699.6L132.5 697.1L130.8 694.6L132.1 692.1L134.3 689.5L133.6 687.0L133.9 684.5L134.3 682.0L134.3 679.5L134.9 679.5L134.9 682.0L135.4 684.5L134.9 687.0L136.6 689.5L137.7 692.1L137.7 694.6L138.5 697.1L137.6 699.6L138.0 702.1L139.6 704.6L138.6 707.1L138.7 709.7L139.2 712.2L140.4 714.7L140.0 717.2L141.7 719.7L139.2 722.2L139.7 724.7L138.9 727.2L140.7 729.8L139.1 732.3L140.9 734.8L142.4 737.3L141.7 739.8L141.8 742.3L141.2 744.8L140.4 747.3L137.6 749.9L134.8 752.4Z" fill="#000"/>
<g fill="#000">
<circle cx="133.9" cy="752.7" r="1.75"/><circle cx="134.8" cy="752.5" r="1.75"/><circle cx="130.8" cy="750.2" r="1.75"/><circle cx="137.6" cy="750.0" r="1.75"/><circle cx="129.4" cy="747.1" r="1.75"/><circle cx="140.4" cy="747.1" r="1.75"/><circle cx="129.7" cy="744.8" r="1.75"/><circle cx="141.2" cy="744.9" r="1.75"/><circle cx="129.3" cy="742.4" r="1.75"/><circle cx="141.8" cy="742.0" r="1.75"/><circle cx="125.9" cy="739.5" r="1.75"/><circle cx="141.7" cy="740.1" r="1.75"/><circle cx="127.2" cy="737.4" r="1.75"/><circle cx="142.4" cy="737.3" r="1.75"/><circle cx="128.0" cy="734.9" r="1.75"/><circle cx="140.9" cy="734.5" r="1.75"/><circle cx="130.2" cy="732.5" r="1.75"/><circle cx="139.1" cy="732.4" r="1.75"/><circle cx="130.3" cy="729.7" r="1.75"/><circle cx="140.7" cy="729.8" r="1.75"/><circle cx="129.1" cy="727.2" r="1.75"/><circle cx="138.9" cy="727.1" r="1.75"/><circle cx="129.6" cy="724.9" r="1.75"/><circle cx="139.7" cy="724.9" r="1.75"/><circle cx="127.4" cy="722.0" r="1.75"/><circle cx="139.2" cy="722.5" r="1.75"/><circle cx="127.3" cy="719.9" r="1.75"/><circle cx="141.7" cy="719.9" r="1.75"/><circle cx="128.0" cy="717.3" r="1.75"/><circle cx="140.0" cy="717.4" r="1.75"/><circle cx="127.7" cy="714.6" r="1.75"/><circle cx="140.4" cy="714.9" r="1.75"/><circle cx="130.2" cy="712.5" r="1.75"/><circle cx="139.2" cy="712.1" r="1.75"/><circle cx="128.4" cy="709.9" r="1.75"/><circle cx="138.7" cy="709.5" r="1.75"/><circle cx="128.6" cy="706.8" r="1.75"/><circle cx="138.6" cy="707.5" r="1.75"/><circle cx="131.5" cy="704.4" r="1.75"/><circle cx="139.6" cy="704.2" r="1.75"/><circle cx="130.7" cy="702.0" r="1.75"/><circle cx="138.0" cy="701.9" r="1.75"/><circle cx="131.9" cy="699.7" r="1.75"/><circle cx="137.6" cy="699.7" r="1.75"/><circle cx="132.5" cy="697.0" r="1.75"/><circle cx="138.5" cy="697.1" r="1.75"/><circle cx="130.8" cy="694.7" r="1.75"/><circle cx="137.7" cy="694.7" r="1.75"/><circle cx="132.1" cy="692.3" r="1.75"/><circle cx="137.7" cy="692.4" r="1.75"/><circle cx="134.3" cy="689.5" r="1.75"/><circle cx="136.6" cy="689.6" r="1.75"/><circle cx="133.6" cy="687.0" r="1.75"/><circle cx="134.9" cy="686.7" r="1.75"/><circle cx="133.9" cy="684.2" r="1.75"/><circle cx="135.4" cy="684.4" r="1.75"/><circle cx="134.7" cy="682.0" r="1.75"/><circle cx="134.5" cy="679.5" r="1.75"/><circle cx="134.6" cy="676.5" r="1.75"/><circle cx="134.9" cy="673.4" r="1.75"/><circle cx="134.6" cy="670.4" r="1.75"/><circle cx="134.4" cy="667.2" r="1.75"/><circle cx="134.8" cy="663.8" r="1.75"/>
</g>
<path d="M160.7 751.6L157.0 749.1L157.1 746.6L159.6 744.0L157.8 741.5L157.7 739.0L157.2 736.4L155.9 733.9L157.1 731.4L160.0 728.8L160.4 726.3L159.0 723.8L160.4 721.2L160.9 718.7L161.6 716.2L160.7 713.6L161.9 711.1L159.9 708.6L159.9 706.0L161.2 703.5L162.9 701.0L163.0 698.4L162.5 695.9L162.9 693.4L162.9 690.9L163.5 690.9L163.5 693.4L164.6 695.9L164.5 698.4L165.9 701.0L163.9 703.5L165.7 706.0L166.4 708.6L166.9 711.1L167.5 713.6L166.5 716.2L165.7 718.7L166.2 721.2L168.0 723.8L166.9 726.3L169.0 728.8L167.6 731.4L170.2 733.9L169.8 736.4L169.3 739.0L169.1 741.5L166.2 744.0L167.6 746.6L169.5 749.1L167.8 751.6Z" fill="#000"/>
<g fill="#000">
<circle cx="160.7" cy="751.7" r="1.75"/><circle cx="167.8" cy="751.5" r="1.75"/><circle cx="157.0" cy="749.1" r="1.75"/><circle cx="169.5" cy="749.1" r="1.75"/><circle cx="157.1" cy="746.2" r="1.75"/><circle cx="167.6" cy="746.9" r="1.75"/><circle cx="159.6" cy="743.7" r="1.75"/><circle cx="166.2" cy="743.7" r="1.75"/><circle cx="157.8" cy="741.3" r="1.75"/><circle cx="169.1" cy="741.1" r="1.75"/><circle cx="157.7" cy="739.2" r="1.75"/><circle cx="169.3" cy="738.7" r="1.75"/><circle cx="157.2" cy="736.6" r="1.75"/><circle cx="169.8" cy="736.1" r="1.75"/><circle cx="155.9" cy="733.5" r="1.75"/><circle cx="170.2" cy="733.8" r="1.75"/><circle cx="157.1" cy="731.3" r="1.75"/><circle cx="167.6" cy="731.0" r="1.75"/><circle cx="160.0" cy="728.7" r="1.75"/><circle cx="169.0" cy="729.0" r="1.75"/><circle cx="160.4" cy="726.2" r="1.75"/><circle cx="166.9" cy="726.6" r="1.75"/><circle cx="159.0" cy="723.9" r="1.75"/><circle cx="168.0" cy="723.6" r="1.75"/><circle cx="160.4" cy="721.1" r="1.75"/><circle cx="166.2" cy="721.2" r="1.75"/><circle cx="160.9" cy="718.9" r="1.75"/><circle cx="165.7" cy="718.4" r="1.75"/><circle cx="161.6" cy="716.3" r="1.75"/><circle cx="166.5" cy="716.1" r="1.75"/><circle cx="160.7" cy="713.5" r="1.75"/><circle cx="167.5" cy="713.6" r="1.75"/><circle cx="161.9" cy="710.9" r="1.75"/><circle cx="166.9" cy="711.4" r="1.75"/><circle cx="159.9" cy="708.2" r="1.75"/><circle cx="166.4" cy="708.8" r="1.75"/><circle cx="159.9" cy="706.0" r="1.75"/><circle cx="165.7" cy="705.8" r="1.75"/><circle cx="161.2" cy="703.1" r="1.75"/><circle cx="163.9" cy="703.5" r="1.75"/><circle cx="162.9" cy="701.2" r="1.75"/><circle cx="165.9" cy="700.6" r="1.75"/><circle cx="163.0" cy="698.6" r="1.75"/><circle cx="164.5" cy="698.1" r="1.75"/><circle cx="162.5" cy="696.3" r="1.75"/><circle cx="164.6" cy="695.6" r="1.75"/><circle cx="163.5" cy="693.4" r="1.75"/><circle cx="163.0" cy="690.9" r="1.75"/><circle cx="163.2" cy="688.0" r="1.75"/><circle cx="163.4" cy="684.8" r="1.75"/><circle cx="163.0" cy="681.4" r="1.75"/><circle cx="163.2" cy="678.0" r="1.75"/><circle cx="163.4" cy="674.6" r="1.75"/><circle cx="163.2" cy="671.4" r="1.75"/><circle cx="163.0" cy="668.1" r="1.75"/><circle cx="163.2" cy="663.8" r="1.75"/><circle cx="163.4" cy="652.0" r="1.75"/><circle cx="163.2" cy="647.7" r="1.75"/>
</g>
<path d="M191.3 749.2L188.5 746.6L185.4 744.1L184.7 741.5L186.2 739.0L189.4 736.5L187.7 733.9L189.4 731.4L189.5 728.8L186.8 726.3L186.5 723.8L188.9 721.2L187.9 718.7L187.1 716.1L184.9 713.6L186.0 711.1L183.2 708.5L186.2 706.0L186.5 703.5L187.1 700.9L185.8 698.4L188.5 695.8L186.7 693.3L188.5 690.8L188.2 688.2L190.2 685.7L191.3 683.1L190.8 680.6L191.4 678.1L191.4 675.5L192.0 675.5L192.0 678.1L192.4 680.6L192.3 683.1L193.8 685.7L195.1 688.2L195.3 690.8L194.4 693.3L195.0 695.8L198.2 698.4L198.2 700.9L198.9 703.5L198.3 706.0L199.6 708.5L198.9 711.1L198.9 713.6L196.7 716.1L197.2 718.7L195.5 721.2L196.8 723.8L195.7 726.3L194.7 728.8L194.4 731.4L196.7 733.9L196.6 736.5L195.2 739.0L197.2 741.5L196.6 744.1L197.2 746.6L192.0 749.2Z" fill="#000"/>
<g fill="#000">
<circle cx="191.3" cy="749.5" r="1.75"/><circle cx="192.0" cy="748.8" r="1.75"/><circle cx="188.5" cy="746.7" r="1.75"/><circle cx="197.2" cy="746.9" r="1.75"/><circle cx="185.4" cy="743.9" r="1.75"/><circle cx="196.6" cy="744.0" r="1.75"/><circle cx="184.7" cy="741.7" r="1.75"/><circle cx="197.2" cy="741.4" r="1.75"/><circle cx="186.2" cy="739.0" r="1.75"/><circle cx="195.2" cy="739.1" r="1.75"/><circle cx="189.4" cy="736.8" r="1.75"/><circle cx="196.6" cy="736.2" r="1.75"/><circle cx="187.7" cy="733.7" r="1.75"/><circle cx="196.7" cy="734.0" r="1.75"/><circle cx="189.4" cy="731.7" r="1.75"/><circle cx="194.4" cy="731.4" r="1.75"/><circle cx="189.5" cy="728.8" r="1.75"/><circle cx="194.7" cy="728.6" r="1.75"/><circle cx="186.8" cy="726.2" r="1.75"/><circle cx="195.7" cy="726.3" r="1.75"/><circle cx="186.5" cy="723.5" r="1.75"/><circle cx="196.8" cy="723.7" r="1.75"/><circle cx="188.9" cy="720.9" r="1.75"/><circle cx="195.5" cy="721.1" r="1.75"/><circle cx="187.9" cy="718.4" r="1.75"/><circle cx="197.2" cy="718.7" r="1.75"/><circle cx="187.1" cy="716.1" r="1.75"/><circle cx="196.7" cy="716.2" r="1.75"/><circle cx="184.9" cy="713.4" r="1.75"/><circle cx="198.9" cy="713.9" r="1.75"/><circle cx="186.0" cy="711.3" r="1.75"/><circle cx="198.9" cy="711.4" r="1.75"/><circle cx="183.2" cy="708.8" r="1.75"/><circle cx="199.6" cy="708.7" r="1.75"/><circle cx="186.2" cy="705.7" r="1.75"/><circle cx="198.3" cy="706.0" r="1.75"/><circle cx="186.5" cy="703.4" r="1.75"/><circle cx="198.9" cy="703.7" r="1.75"/><circle cx="187.1" cy="700.7" r="1.75"/><circle cx="198.2" cy="700.8" r="1.75"/><circle cx="185.8" cy="698.5" r="1.75"/><circle cx="198.2" cy="698.6" r="1.75"/><circle cx="188.5" cy="696.1" r="1.75"/><circle cx="195.0" cy="695.5" r="1.75"/><circle cx="186.7" cy="693.5" r="1.75"/><circle cx="194.4" cy="693.7" r="1.75"/><circle cx="188.5" cy="690.4" r="1.75"/><circle cx="195.3" cy="691.1" r="1.75"/><circle cx="188.2" cy="688.5" r="1.75"/><circle cx="195.1" cy="688.3" r="1.75"/><circle cx="190.2" cy="685.5" r="1.75"/><circle cx="193.8" cy="685.4" r="1.75"/><circle cx="191.3" cy="683.3" r="1.75"/><circle cx="192.3" cy="683.4" r="1.75"/><circle cx="190.8" cy="680.9" r="1.75"/><circle cx="192.4" cy="680.4" r="1.75"/><circle cx="191.7" cy="678.1" r="1.75"/><circle cx="191.6" cy="675.5" r="1.75"/><circle cx="191.7" cy="672.7" r="1.75"/><circle cx="191.9" cy="669.5" r="1.75"/><circle cx="191.5" cy="666.2" r="1.75"/><circle cx="191.7" cy="662.8" r="1.75"/><circle cx="191.7" cy="659.4" r="1.75"/><circle cx="191.7" cy="655.8" r="1.75"/><circle cx="191.7" cy="618.2" r="1.75"/>
</g>
<path d="M220.0 749.2L217.2 746.6L218.2 744.1L216.8 741.6L215.3 739.0L212.9 736.5L213.1 734.0L213.4 731.4L215.2 728.9L217.7 726.4L220.1 723.8L220.1 721.3L218.5 718.8L219.4 716.2L216.7 713.7L216.7 711.2L216.3 708.6L215.6 706.1L215.8 703.6L218.2 701.0L217.4 698.5L218.1 696.0L215.9 693.4L215.8 690.9L217.5 688.4L217.4 685.8L218.1 683.3L218.3 680.8L219.9 678.2L220.0 675.7L220.6 675.7L220.6 678.2L221.2 680.8L220.8 683.3L222.0 685.8L222.3 688.4L223.5 690.9L222.9 693.4L223.0 696.0L225.2 698.5L224.7 701.0L222.8 703.6L223.5 706.1L223.1 708.6L222.7 711.2L223.9 713.7L222.1 716.2L222.8 718.8L220.6 721.3L223.0 723.8L222.0 726.4L225.4 728.9L225.0 731.4L227.0 734.0L228.8 736.5L226.3 739.0L223.7 741.6L222.1 744.1L222.3 746.6L221.5 749.2Z" fill="#000"/>
<g fill="#000">
<circle cx="220.0" cy="749.0" r="1.75"/><circle cx="221.5" cy="749.4" r="1.75"/><circle cx="217.2" cy="746.7" r="1.75"/><circle cx="222.3" cy="746.9" r="1.75"/><circle cx="218.2" cy="744.0" r="1.75"/><circle cx="222.1" cy="744.0" r="1.75"/><circle cx="216.8" cy="741.6" r="1.75"/><circle cx="223.7" cy="741.4" r="1.75"/><circle cx="215.3" cy="739.1" r="1.75"/><circle cx="226.3" cy="738.8" r="1.75"/><circle cx="212.9" cy="736.8" r="1.75"/><circle cx="228.8" cy="736.8" r="1.75"/><circle cx="213.1" cy="734.2" r="1.75"/><circle cx="227.0" cy="733.9" r="1.75"/><circle cx="213.4" cy="731.6" r="1.75"/><circle cx="225.0" cy="731.3" r="1.75"/><circle cx="215.2" cy="728.8" r="1.75"/><circle cx="225.4" cy="728.9" r="1.75"/><circle cx="217.7" cy="726.7" r="1.75"/><circle cx="222.0" cy="726.3" r="1.75"/><circle cx="220.1" cy="723.5" r="1.75"/><circle cx="223.0" cy="723.7" r="1.75"/><circle cx="220.1" cy="721.6" r="1.75"/><circle cx="220.6" cy="721.3" r="1.75"/><circle cx="218.5" cy="718.6" r="1.75"/><circle cx="222.8" cy="718.7" r="1.75"/><circle cx="219.4" cy="716.5" r="1.75"/><circle cx="222.1" cy="715.9" r="1.75"/><circle cx="216.7" cy="713.7" r="1.75"/><circle cx="223.9" cy="714.0" r="1.75"/><circle cx="216.7" cy="710.8" r="1.75"/><circle cx="222.7" cy="710.8" r="1.75"/><circle cx="216.3" cy="708.4" r="1.75"/><circle cx="223.1" cy="708.8" r="1.75"/><circle cx="215.6" cy="706.4" r="1.75"/><circle cx="223.5" cy="706.1" r="1.75"/><circle cx="215.8" cy="703.8" r="1.75"/><circle cx="222.8" cy="703.6" r="1.75"/><circle cx="218.2" cy="700.9" r="1.75"/><circle cx="224.7" cy="700.8" r="1.75"/><circle cx="217.4" cy="698.8" r="1.75"/><circle cx="225.2" cy="698.3" r="1.75"/><circle cx="218.1" cy="695.8" r="1.75"/><circle cx="223.0" cy="696.2" r="1.75"/><circle cx="215.9" cy="693.2" r="1.75"/><circle cx="222.9" cy="693.1" r="1.75"/><circle cx="215.8" cy="691.2" r="1.75"/><circle cx="223.5" cy="690.5" r="1.75"/><circle cx="217.5" cy="688.7" r="1.75"/><circle cx="222.3" cy="688.0" r="1.75"/><circle cx="217.4" cy="685.6" r="1.75"/><circle cx="222.0" cy="685.6" r="1.75"/><circle cx="218.1" cy="683.7" r="1.75"/><circle cx="220.8" cy="683.1" r="1.75"/><circle cx="218.3" cy="681.0" r="1.75"/><circle cx="221.2" cy="680.7" r="1.75"/><circle cx="219.9" cy="678.6" r="1.75"/><circle cx="220.6" cy="678.3" r="1.75"/><circle cx="220.2" cy="675.7" r="1.75"/><circle cx="220.3" cy="672.5" r="1.75"/><circle cx="220.5" cy="669.3" r="1.75"/><circle cx="220.1" cy="666.2" r="1.75"/><circle cx="220.3" cy="663.4" r="1.75"/><circle cx="220.3" cy="660.6" r="1.75"/><circle cx="220.3" cy="653.0" r="1.75"/><circle cx="220.3" cy="647.7" r="1.75"/><circle cx="220.3" cy="644.5" r="1.75"/><circle cx="220.5" cy="628.4" r="1.75"/><circle cx="220.2" cy="625.4" r="1.75"/>
</g>
<path d="M248.8 750.3L248.9 747.8L248.7 745.2L246.5 742.7L244.5 740.2L244.4 737.6L243.4 735.1L244.3 732.6L242.6 730.0L242.0 727.5L242.3 725.0L243.1 722.5L244.7 719.9L246.2 717.4L246.5 714.9L247.4 712.3L245.7 709.8L245.7 707.3L244.3 704.7L245.9 702.2L245.7 699.7L244.2 697.1L244.8 694.6L242.7 692.1L244.1 689.6L244.2 687.0L245.0 684.5L245.0 682.0L244.5 679.4L244.0 676.9L245.6 674.4L246.9 671.8L245.6 669.3L246.3 666.8L248.9 664.3L248.9 661.7L248.3 659.2L248.8 656.7L248.8 654.1L249.4 654.1L249.4 656.7L251.0 659.2L249.3 661.7L249.6 664.3L250.7 666.8L251.0 669.3L251.2 671.8L252.2 674.4L252.7 676.9L254.1 679.4L253.7 682.0L254.0 684.5L253.4 687.0L253.5 689.6L255.4 692.1L254.2 694.6L252.7 697.1L254.5 699.7L252.2 702.2L253.4 704.7L252.2 707.3L251.6 709.8L251.6 712.3L250.7 714.9L251.8 717.4L254.2 719.9L252.7 722.5L253.4 725.0L255.0 727.5L254.3 730.0L253.7 732.6L255.3 735.1L252.7 737.6L252.0 740.2L251.3 742.7L250.0 745.2L249.9 747.8L249.4 750.3Z" fill="#000"/>
<g fill="#000">
<circle cx="249.2" cy="750.3" r="1.75"/><circle cx="248.9" cy="747.4" r="1.75"/><circle cx="249.9" cy="747.7" r="1.75"/><circle cx="248.7" cy="745.2" r="1.75"/><circle cx="250.0" cy="744.9" r="1.75"/><circle cx="246.5" cy="742.4" r="1.75"/><circle cx="251.3" cy="742.5" r="1.75"/><circle cx="244.5" cy="740.0" r="1.75"/><circle cx="252.0" cy="740.0" r="1.75"/><circle cx="244.4" cy="737.3" r="1.75"/><circle cx="252.7" cy="737.5" r="1.75"/><circle cx="243.4" cy="734.9" r="1.75"/><circle cx="255.3" cy="734.8" r="1.75"/><circle cx="244.3" cy="732.6" r="1.75"/><circle cx="253.7" cy="732.5" r="1.75"/><circle cx="242.6" cy="729.7" r="1.75"/><circle cx="254.3" cy="730.1" r="1.75"/><circle cx="242.0" cy="727.4" r="1.75"/><circle cx="255.0" cy="727.5" r="1.75"/><circle cx="242.3" cy="724.8" r="1.75"/><circle cx="253.4" cy="725.2" r="1.75"/><circle cx="243.1" cy="722.5" r="1.75"/><circle cx="252.7" cy="722.5" r="1.75"/><circle cx="244.7" cy="720.0" r="1.75"/><circle cx="254.2" cy="719.9" r="1.75"/><circle cx="246.2" cy="717.8" r="1.75"/><circle cx="251.8" cy="717.5" r="1.75"/><circle cx="246.5" cy="715.2" r="1.75"/><circle cx="250.7" cy="714.5" r="1.75"/><circle cx="247.4" cy="712.0" r="1.75"/><circle cx="251.6" cy="712.2" r="1.75"/><circle cx="245.7" cy="710.0" r="1.75"/><circle cx="251.6" cy="710.1" r="1.75"/><circle cx="245.7" cy="707.7" r="1.75"/><circle cx="252.2" cy="707.3" r="1.75"/><circle cx="244.3" cy="704.7" r="1.75"/><circle cx="253.4" cy="704.4" r="1.75"/><circle cx="245.9" cy="702.0" r="1.75"/><circle cx="252.2" cy="702.6" r="1.75"/><circle cx="245.7" cy="700.0" r="1.75"/><circle cx="254.5" cy="699.7" r="1.75"/><circle cx="244.2" cy="696.8" r="1.75"/><circle cx="252.7" cy="696.9" r="1.75"/><circle cx="244.8" cy="694.8" r="1.75"/><circle cx="254.2" cy="694.7" r="1.75"/><circle cx="242.7" cy="692.2" r="1.75"/><circle cx="255.4" cy="691.7" r="1.75"/><circle cx="244.1" cy="689.5" r="1.75"/><circle cx="253.5" cy="689.9" r="1.75"/><circle cx="244.2" cy="686.6" r="1.75"/><circle cx="253.4" cy="686.9" r="1.75"/><circle cx="245.0" cy="684.3" r="1.75"/><circle cx="254.0" cy="684.6" r="1.75"/><circle cx="245.0" cy="682.0" r="1.75"/><circle cx="253.7" cy="681.7" r="1.75"/><circle cx="244.5" cy="679.1" r="1.75"/><circle cx="254.1" cy="679.4" r="1.75"/><circle cx="244.0" cy="676.8" r="1.75"/><circle cx="252.7" cy="676.6" r="1.75"/><circle cx="245.6" cy="674.3" r="1.75"/><circle cx="252.2" cy="674.6" r="1.75"/><circle cx="246.9" cy="671.5" r="1.75"/><circle cx="251.2" cy="671.7" r="1.75"/><circle cx="245.6" cy="669.2" r="1.75"/><circle cx="251.0" cy="669.6" r="1.75"/><circle cx="246.3" cy="666.7" r="1.75"/><circle cx="250.7" cy="666.6" r="1.75"/><circle cx="248.9" cy="664.1" r="1.75"/><circle cx="249.6" cy="664.1" r="1.75"/><circle cx="248.9" cy="661.6" r="1.75"/><circle cx="249.3" cy="661.3" r="1.75"/><circle cx="248.3" cy="658.9" r="1.75"/><circle cx="251.0" cy="659.5" r="1.75"/><circle cx="248.6" cy="656.7" r="1.75"/><circle cx="249.5" cy="654.1" r="1.75"/><circle cx="249.1" cy="651.1" r="1.75"/><circle cx="249.3" cy="648.1" r="1.75"/><circle cx="248.9" cy="645.0" r="1.75"/><circle cx="249.1" cy="642.0" r="1.75"/><circle cx="249.3" cy="639.0" r="1.75"/><circle cx="249.1" cy="636.0" r="1.75"/><circle cx="248.9" cy="632.9" r="1.75"/><circle cx="249.1" cy="629.7" r="1.75"/><circle cx="249.2" cy="626.5" r="1.75"/><circle cx="249.1" cy="623.1" r="1.75"/><circle cx="249.1" cy="618.2" r="1.75"/><circle cx="249.3" cy="603.2" r="1.75"/><circle cx="249.0" cy="599.6" r="1.75"/>
</g>
<rect x="94.50" y="726.89" width="23.40" height="2.50" fill="#ff2a0a"/>
<rect x="122.90" y="721.40" width="23.40" height="2.50" fill="#ff2a0a"/>
<rect x="151.50" y="728.22" width="23.40" height="2.50" fill="#ff2a0a"/>
<rect x="180.00" y="712.32" width="23.40" height="2.50" fill="#ff2a0a"/>
<rect x="208.60" y="718.19" width="23.40" height="2.50" fill="#ff2a0a"/>
<rect x="237.40" y="700.20" width="23.40" height="2.50" fill="#ff2a0a"/>
<path d="M104.50 644.60V640.60H135.40V644.60" fill="none" stroke="#000" stroke-width="1.2" stroke-linejoin="round"/>
<text x="118.30" y="636.20" font-size="7.8" text-anchor="middle" class="s">p=0.1811</text>
<path d="M162.40 636.70V632.70H193.20V636.70" fill="none" stroke="#000" stroke-width="1.2" stroke-linejoin="round"/>
<text x="176.50" y="628.10" font-size="7.8" text-anchor="middle" class="s">p=0.0049</text>
<path d="M219.80 590.20V586.20H250.60V590.20" fill="none" stroke="#000" stroke-width="1.2" stroke-linejoin="round"/>
<text x="233.50" y="581.80" font-size="7.8" text-anchor="middle" class="s">p=&lt;0.0001</text>
<text x="108.80" y="774.00" font-size="10.6" text-anchor="end" transform="rotate(-45 108.80 774.00)">P1 + Vector</text>
<text x="140.70" y="773.70" font-size="10.3" text-anchor="end" transform="rotate(-45 140.70 773.70)">P1 + DIAPH1</text>
<text x="165.80" y="774.00" font-size="10.6" text-anchor="end" transform="rotate(-45 165.80 774.00)">P1 + Vector</text>
<text x="197.80" y="773.70" font-size="10.3" text-anchor="end" transform="rotate(-45 197.80 773.70)">P1 + DIAPH1</text>
<text x="222.90" y="774.00" font-size="10.6" text-anchor="end" transform="rotate(-45 222.90 774.00)">P1 + Vector</text>
<text x="255.20" y="773.70" font-size="10.3" text-anchor="end" transform="rotate(-45 255.20 773.70)">P1 + DIAPH1</text>
<line x1="364.90" y1="570.05" x2="364.90" y2="759.95" stroke="#000" stroke-width="1.9" stroke-linecap="butt"/>
<line x1="363.95" y1="759.00" x2="544.50" y2="759.00" stroke="#000" stroke-width="1.9" stroke-linecap="butt"/>
<line x1="357.90" y1="759.00" x2="364.90" y2="759.00" stroke="#000" stroke-width="1.9" stroke-linecap="butt"/>
<text x="354.90" y="762.95" font-size="10.2" text-anchor="end">0</text>
<line x1="357.90" y1="721.40" x2="364.90" y2="721.40" stroke="#000" stroke-width="1.9" stroke-linecap="butt"/>
<text x="354.90" y="725.35" font-size="10.2" text-anchor="end">20</text>
<line x1="357.90" y1="683.80" x2="364.90" y2="683.80" stroke="#000" stroke-width="1.9" stroke-linecap="butt"/>
<text x="354.90" y="687.75" font-size="10.2" text-anchor="end">40</text>
<line x1="357.90" y1="646.20" x2="364.90" y2="646.20" stroke="#000" stroke-width="1.9" stroke-linecap="butt"/>
<text x="354.90" y="650.15" font-size="10.2" text-anchor="end">60</text>
<line x1="357.90" y1="608.60" x2="364.90" y2="608.60" stroke="#000" stroke-width="1.9" stroke-linecap="butt"/>
<text x="354.90" y="612.55" font-size="10.2" text-anchor="end">80</text>
<line x1="357.90" y1="571.00" x2="364.90" y2="571.00" stroke="#000" stroke-width="1.9" stroke-linecap="butt"/>
<text x="354.90" y="574.95" font-size="10.2" text-anchor="end">100</text>
<line x1="383.90" y1="759.00" x2="383.90" y2="766.90" stroke="#000" stroke-width="1.9" stroke-linecap="butt"/>
<line x1="412.10" y1="759.00" x2="412.10" y2="766.90" stroke="#000" stroke-width="1.9" stroke-linecap="butt"/>
<line x1="440.40" y1="759.00" x2="440.40" y2="766.90" stroke="#000" stroke-width="1.9" stroke-linecap="butt"/>
<line x1="468.80" y1="759.00" x2="468.80" y2="766.90" stroke="#000" stroke-width="1.9" stroke-linecap="butt"/>
<line x1="497.10" y1="759.00" x2="497.10" y2="766.90" stroke="#000" stroke-width="1.9" stroke-linecap="butt"/>
<line x1="525.60" y1="759.00" x2="525.60" y2="766.90" stroke="#000" stroke-width="1.9" stroke-linecap="butt"/>
<text x="325.80" y="665.70" font-size="10.3" text-anchor="middle" transform="rotate(-90 325.80 665.70)">No. of RAD51 foci per mitosin</text>
<text x="338.00" y="665.20" font-size="10.3" text-anchor="middle" transform="rotate(-90 338.00 665.20)">+ve nuclei</text>
<text x="357.90" y="545.70" font-size="10.2" text-anchor="end">Time (h)</text>
<text x="357.90" y="557.60" font-size="10.2" text-anchor="end">after CPT</text>
<text x="393.90" y="554.50" font-size="10.2" text-anchor="middle">0</text>
<text x="450.70" y="554.50" font-size="10.2" text-anchor="middle">1</text>
<text x="507.40" y="554.50" font-size="10.2" text-anchor="middle">4</text>
<path d="M377.8 759.9L377.2 758.1L377.5 756.3L380.0 754.4L380.5 752.6L381.2 750.8L381.7 748.9L382.0 747.1L382.4 745.3L382.0 743.4L382.1 741.6L382.3 739.8L382.3 737.9L382.6 736.1L383.2 734.3L383.7 732.4L383.5 730.6L383.6 728.8L383.6 726.9L383.6 725.1L383.6 723.3L384.2 723.3L384.2 725.1L384.2 726.9L384.2 728.8L384.1 730.6L384.8 732.4L384.5 734.3L385.0 736.1L385.2 737.9L385.5 739.8L385.6 741.6L384.8 743.4L385.8 745.3L386.3 747.1L385.9 748.9L387.6 750.8L387.6 752.6L387.5 754.4L389.7 756.3L391.0 758.1L390.1 759.9Z" fill="#000"/>
<g fill="#000">
<circle cx="377.8" cy="760.1" r="1.75"/><circle cx="390.1" cy="759.9" r="1.75"/><circle cx="377.2" cy="758.3" r="1.75"/><circle cx="391.0" cy="757.9" r="1.75"/><circle cx="377.5" cy="756.5" r="1.75"/><circle cx="389.7" cy="755.9" r="1.75"/><circle cx="380.0" cy="754.5" r="1.75"/><circle cx="387.5" cy="754.6" r="1.75"/><circle cx="380.5" cy="752.5" r="1.75"/><circle cx="387.6" cy="752.9" r="1.75"/><circle cx="381.2" cy="751.0" r="1.75"/><circle cx="387.6" cy="750.8" r="1.75"/><circle cx="381.7" cy="748.8" r="1.75"/><circle cx="385.9" cy="749.0" r="1.75"/><circle cx="382.0" cy="747.0" r="1.75"/><circle cx="386.3" cy="747.3" r="1.75"/><circle cx="382.4" cy="745.1" r="1.75"/><circle cx="385.8" cy="744.9" r="1.75"/><circle cx="382.0" cy="743.3" r="1.75"/><circle cx="384.8" cy="743.6" r="1.75"/><circle cx="382.1" cy="741.9" r="1.75"/><circle cx="385.6" cy="741.7" r="1.75"/><circle cx="382.3" cy="739.5" r="1.75"/><circle cx="385.5" cy="739.9" r="1.75"/><circle cx="382.3" cy="738.1" r="1.75"/><circle cx="385.2" cy="737.8" r="1.75"/><circle cx="382.6" cy="736.2" r="1.75"/><circle cx="385.0" cy="735.9" r="1.75"/><circle cx="383.2" cy="734.0" r="1.75"/><circle cx="384.5" cy="734.3" r="1.75"/><circle cx="383.7" cy="732.5" r="1.75"/><circle cx="384.8" cy="732.6" r="1.75"/><circle cx="383.5" cy="730.6" r="1.75"/><circle cx="384.1" cy="730.7" r="1.75"/><circle cx="383.9" cy="728.8" r="1.75"/><circle cx="383.9" cy="726.9" r="1.75"/><circle cx="383.6" cy="725.1" r="1.75"/><circle cx="384.3" cy="723.3" r="1.75"/><circle cx="384.1" cy="721.4" r="1.75"/><circle cx="383.6" cy="719.5" r="1.75"/><circle cx="384.1" cy="717.6" r="1.75"/><circle cx="383.9" cy="714.1" r="1.75"/><circle cx="383.9" cy="710.3" r="1.75"/><circle cx="376.7" cy="759.0" r="1.75"/><circle cx="379.1" cy="759.0" r="1.75"/><circle cx="381.5" cy="759.0" r="1.75"/><circle cx="383.9" cy="759.0" r="1.75"/><circle cx="386.3" cy="759.0" r="1.75"/><circle cx="388.7" cy="759.0" r="1.75"/><circle cx="391.1" cy="759.0" r="1.75"/>
</g>
<path d="M404.6 759.9L404.6 758.1L405.8 756.2L408.8 754.3L408.8 752.4L409.2 750.5L409.0 748.7L410.5 746.8L410.4 744.9L410.9 743.0L410.8 741.1L410.9 739.3L411.4 737.4L411.9 735.5L411.9 733.6L411.9 731.7L411.8 729.9L411.8 728.0L412.4 728.0L412.4 729.9L412.5 731.7L412.3 733.6L413.1 735.5L413.0 737.4L413.0 739.3L413.6 741.1L413.7 743.0L413.7 744.9L414.2 746.8L414.8 748.7L414.9 750.5L415.9 752.4L415.8 754.3L419.0 756.2L418.8 758.1L419.1 759.9Z" fill="#000"/>
<g fill="#000">
<circle cx="404.6" cy="759.5" r="1.75"/><circle cx="419.1" cy="759.6" r="1.75"/><circle cx="404.6" cy="757.8" r="1.75"/><circle cx="418.8" cy="757.7" r="1.75"/><circle cx="405.8" cy="755.8" r="1.75"/><circle cx="419.0" cy="756.0" r="1.75"/><circle cx="408.8" cy="754.4" r="1.75"/><circle cx="415.8" cy="754.3" r="1.75"/><circle cx="408.8" cy="752.3" r="1.75"/><circle cx="415.9" cy="752.4" r="1.75"/><circle cx="409.2" cy="750.2" r="1.75"/><circle cx="414.9" cy="750.6" r="1.75"/><circle cx="409.0" cy="748.9" r="1.75"/><circle cx="414.8" cy="748.8" r="1.75"/><circle cx="410.5" cy="746.6" r="1.75"/><circle cx="414.2" cy="746.9" r="1.75"/><circle cx="410.4" cy="744.7" r="1.75"/><circle cx="413.7" cy="744.7" r="1.75"/><circle cx="410.9" cy="743.0" r="1.75"/><circle cx="413.7" cy="743.4" r="1.75"/><circle cx="410.8" cy="741.5" r="1.75"/><circle cx="413.6" cy="741.4" r="1.75"/><circle cx="410.9" cy="739.1" r="1.75"/><circle cx="413.0" cy="739.2" r="1.75"/><circle cx="411.4" cy="737.2" r="1.75"/><circle cx="413.0" cy="737.1" r="1.75"/><circle cx="411.9" cy="735.4" r="1.75"/><circle cx="413.1" cy="735.2" r="1.75"/><circle cx="411.9" cy="733.7" r="1.75"/><circle cx="412.3" cy="733.4" r="1.75"/><circle cx="411.9" cy="731.5" r="1.75"/><circle cx="412.5" cy="731.9" r="1.75"/><circle cx="411.9" cy="729.9" r="1.75"/><circle cx="412.1" cy="728.0" r="1.75"/><circle cx="411.9" cy="727.0" r="1.75"/><circle cx="412.4" cy="725.2" r="1.75"/><circle cx="411.9" cy="723.3" r="1.75"/><circle cx="412.1" cy="715.9" r="1.75"/><circle cx="412.1" cy="701.1" r="1.75"/><circle cx="412.1" cy="680.4" r="1.75"/><circle cx="404.4" cy="759.0" r="1.75"/><circle cx="407.0" cy="759.0" r="1.75"/><circle cx="409.5" cy="759.0" r="1.75"/><circle cx="412.1" cy="759.0" r="1.75"/><circle cx="414.7" cy="759.0" r="1.75"/><circle cx="417.2" cy="759.0" r="1.75"/><circle cx="419.8" cy="759.0" r="1.75"/>
</g>
<path d="M433.2 759.9L433.0 758.1L434.2 756.3L437.8 754.4L437.7 752.6L437.7 750.7L438.7 748.9L437.7 747.0L438.1 745.2L438.4 743.3L439.1 741.5L439.2 739.7L438.3 737.8L438.3 736.0L438.4 734.1L438.2 732.3L439.0 730.4L439.0 728.6L439.4 726.8L439.7 724.9L439.0 723.1L439.1 721.2L440.1 719.4L440.1 717.5L440.2 715.7L440.1 713.8L440.1 712.0L440.7 712.0L440.7 713.8L440.6 715.7L441.3 717.5L441.6 719.4L440.8 721.2L440.7 723.1L441.6 724.9L442.3 726.8L442.2 728.6L442.5 730.4L442.8 732.3L443.0 734.1L442.5 736.0L442.3 737.8L442.4 739.7L442.4 741.5L442.2 743.3L441.8 745.2L442.4 747.0L443.2 748.9L442.3 750.7L443.5 752.6L443.9 754.4L447.4 756.3L447.1 758.1L447.8 759.9Z" fill="#000"/>
<g fill="#000">
<circle cx="433.2" cy="760.3" r="1.75"/><circle cx="447.8" cy="760.0" r="1.75"/><circle cx="433.0" cy="758.2" r="1.75"/><circle cx="447.1" cy="757.9" r="1.75"/><circle cx="434.2" cy="756.1" r="1.75"/><circle cx="447.4" cy="756.5" r="1.75"/><circle cx="437.8" cy="754.2" r="1.75"/><circle cx="443.9" cy="754.4" r="1.75"/><circle cx="437.7" cy="752.9" r="1.75"/><circle cx="443.5" cy="752.2" r="1.75"/><circle cx="437.7" cy="751.1" r="1.75"/><circle cx="442.3" cy="750.9" r="1.75"/><circle cx="438.7" cy="749.0" r="1.75"/><circle cx="443.2" cy="748.9" r="1.75"/><circle cx="437.7" cy="746.7" r="1.75"/><circle cx="442.4" cy="747.1" r="1.75"/><circle cx="438.1" cy="745.2" r="1.75"/><circle cx="441.8" cy="744.9" r="1.75"/><circle cx="438.4" cy="743.6" r="1.75"/><circle cx="442.2" cy="743.4" r="1.75"/><circle cx="439.1" cy="741.8" r="1.75"/><circle cx="442.4" cy="741.5" r="1.75"/><circle cx="439.2" cy="740.0" r="1.75"/><circle cx="442.4" cy="739.7" r="1.75"/><circle cx="438.3" cy="737.6" r="1.75"/><circle cx="442.3" cy="737.6" r="1.75"/><circle cx="438.3" cy="736.3" r="1.75"/><circle cx="442.5" cy="735.8" r="1.75"/><circle cx="438.4" cy="734.5" r="1.75"/><circle cx="443.0" cy="734.4" r="1.75"/><circle cx="438.2" cy="732.1" r="1.75"/><circle cx="442.8" cy="732.3" r="1.75"/><circle cx="439.0" cy="730.2" r="1.75"/><circle cx="442.5" cy="730.8" r="1.75"/><circle cx="439.0" cy="728.5" r="1.75"/><circle cx="442.2" cy="728.8" r="1.75"/><circle cx="439.4" cy="727.1" r="1.75"/><circle cx="442.3" cy="726.6" r="1.75"/><circle cx="439.7" cy="724.7" r="1.75"/><circle cx="441.6" cy="725.1" r="1.75"/><circle cx="439.0" cy="722.7" r="1.75"/><circle cx="440.7" cy="723.3" r="1.75"/><circle cx="439.1" cy="720.9" r="1.75"/><circle cx="440.8" cy="721.3" r="1.75"/><circle cx="440.1" cy="719.4" r="1.75"/><circle cx="441.6" cy="719.4" r="1.75"/><circle cx="440.1" cy="717.3" r="1.75"/><circle cx="441.3" cy="717.4" r="1.75"/><circle cx="440.2" cy="715.4" r="1.75"/><circle cx="440.6" cy="715.3" r="1.75"/><circle cx="440.1" cy="713.8" r="1.75"/><circle cx="440.6" cy="712.0" r="1.75"/><circle cx="440.6" cy="710.1" r="1.75"/><circle cx="440.1" cy="708.2" r="1.75"/><circle cx="440.6" cy="706.4" r="1.75"/><circle cx="440.1" cy="704.5" r="1.75"/><circle cx="440.6" cy="702.6" r="1.75"/><circle cx="440.1" cy="700.7" r="1.75"/><circle cx="440.6" cy="698.8" r="1.75"/><circle cx="440.1" cy="697.0" r="1.75"/><circle cx="440.4" cy="685.9" r="1.75"/><circle cx="432.7" cy="759.0" r="1.75"/><circle cx="435.3" cy="759.0" r="1.75"/><circle cx="437.8" cy="759.0" r="1.75"/><circle cx="440.4" cy="759.0" r="1.75"/><circle cx="443.0" cy="759.0" r="1.75"/><circle cx="445.5" cy="759.0" r="1.75"/><circle cx="448.1" cy="759.0" r="1.75"/>
</g>
<path d="M462.6 759.9L462.0 758.1L463.8 756.2L465.2 754.4L465.4 752.5L465.6 750.7L466.0 748.8L466.6 747.0L467.2 745.1L466.7 743.3L467.1 741.4L467.0 739.6L467.0 737.7L468.3 735.8L468.1 734.0L468.2 732.1L468.4 730.3L468.6 728.4L468.4 726.6L468.0 724.7L468.5 722.9L468.5 721.0L469.1 721.0L469.1 722.9L469.0 724.7L469.8 726.6L469.3 728.4L470.2 730.3L469.8 732.1L470.4 734.0L469.7 735.8L470.7 737.7L471.0 739.6L471.2 741.4L470.6 743.3L471.4 745.1L471.1 747.0L471.4 748.8L472.1 750.7L471.7 752.5L472.4 754.4L474.2 756.2L475.0 758.1L475.4 759.9Z" fill="#000"/>
<g fill="#000">
<circle cx="462.6" cy="759.8" r="1.75"/><circle cx="475.4" cy="759.9" r="1.75"/><circle cx="462.0" cy="758.0" r="1.75"/><circle cx="475.0" cy="758.4" r="1.75"/><circle cx="463.8" cy="756.3" r="1.75"/><circle cx="474.2" cy="756.1" r="1.75"/><circle cx="465.2" cy="754.1" r="1.75"/><circle cx="472.4" cy="754.6" r="1.75"/><circle cx="465.4" cy="752.2" r="1.75"/><circle cx="471.7" cy="752.5" r="1.75"/><circle cx="465.6" cy="750.6" r="1.75"/><circle cx="472.1" cy="751.0" r="1.75"/><circle cx="466.0" cy="749.0" r="1.75"/><circle cx="471.4" cy="748.9" r="1.75"/><circle cx="466.6" cy="747.0" r="1.75"/><circle cx="471.1" cy="747.1" r="1.75"/><circle cx="467.2" cy="745.1" r="1.75"/><circle cx="471.4" cy="744.8" r="1.75"/><circle cx="466.7" cy="742.9" r="1.75"/><circle cx="470.6" cy="743.3" r="1.75"/><circle cx="467.1" cy="741.5" r="1.75"/><circle cx="471.2" cy="741.1" r="1.75"/><circle cx="467.0" cy="739.5" r="1.75"/><circle cx="471.0" cy="739.4" r="1.75"/><circle cx="467.0" cy="737.4" r="1.75"/><circle cx="470.7" cy="737.5" r="1.75"/><circle cx="468.3" cy="735.8" r="1.75"/><circle cx="469.7" cy="735.5" r="1.75"/><circle cx="468.1" cy="734.2" r="1.75"/><circle cx="470.4" cy="734.4" r="1.75"/><circle cx="468.2" cy="732.1" r="1.75"/><circle cx="469.8" cy="732.4" r="1.75"/><circle cx="468.4" cy="730.1" r="1.75"/><circle cx="470.2" cy="730.4" r="1.75"/><circle cx="468.6" cy="728.8" r="1.75"/><circle cx="469.3" cy="728.4" r="1.75"/><circle cx="468.4" cy="726.6" r="1.75"/><circle cx="469.8" cy="726.6" r="1.75"/><circle cx="468.0" cy="724.7" r="1.75"/><circle cx="469.0" cy="725.0" r="1.75"/><circle cx="469.0" cy="722.9" r="1.75"/><circle cx="468.8" cy="721.0" r="1.75"/><circle cx="468.6" cy="719.5" r="1.75"/><circle cx="469.1" cy="717.6" r="1.75"/><circle cx="468.6" cy="715.8" r="1.75"/><circle cx="469.1" cy="713.9" r="1.75"/><circle cx="468.6" cy="712.0" r="1.75"/><circle cx="469.1" cy="710.1" r="1.75"/><circle cx="468.6" cy="708.2" r="1.75"/><circle cx="469.1" cy="706.4" r="1.75"/><circle cx="468.6" cy="704.5" r="1.75"/><circle cx="469.1" cy="702.6" r="1.75"/><circle cx="468.6" cy="700.7" r="1.75"/><circle cx="469.1" cy="698.8" r="1.75"/><circle cx="468.6" cy="697.0" r="1.75"/><circle cx="469.1" cy="695.1" r="1.75"/><circle cx="468.6" cy="693.2" r="1.75"/><circle cx="469.1" cy="691.3" r="1.75"/><circle cx="468.6" cy="689.4" r="1.75"/><circle cx="469.1" cy="687.6" r="1.75"/><circle cx="468.8" cy="682.1" r="1.75"/><circle cx="468.8" cy="644.3" r="1.75"/><circle cx="461.5" cy="759.0" r="1.75"/><circle cx="463.9" cy="759.0" r="1.75"/><circle cx="466.4" cy="759.0" r="1.75"/><circle cx="468.8" cy="759.0" r="1.75"/><circle cx="471.2" cy="759.0" r="1.75"/><circle cx="473.7" cy="759.0" r="1.75"/><circle cx="476.1" cy="759.0" r="1.75"/>
</g>
<path d="M490.2 759.9L491.0 758.1L491.5 756.2L493.4 754.3L493.3 752.4L494.0 750.6L493.9 748.7L493.3 746.8L493.5 745.0L493.2 743.1L493.3 741.2L492.9 739.3L493.3 737.5L493.3 735.6L493.4 733.7L493.1 731.8L493.3 730.0L494.0 728.1L494.2 726.2L495.1 724.4L495.5 722.5L496.0 720.6L495.8 718.7L495.9 716.9L496.2 715.0L496.8 713.1L496.8 711.2L497.4 711.2L497.4 713.1L497.3 715.0L497.6 716.9L498.2 718.7L497.9 720.6L499.1 722.5L498.4 724.4L500.1 726.2L500.6 728.1L501.1 730.0L501.5 731.8L500.7 733.7L500.8 735.6L501.4 737.5L501.5 739.3L501.7 741.2L500.6 743.1L500.0 745.0L500.2 746.8L500.5 748.7L500.9 750.6L500.3 752.4L500.8 754.3L502.2 756.2L503.6 758.1L504.4 759.9Z" fill="#000"/>
<g fill="#000">
<circle cx="490.2" cy="759.6" r="1.75"/><circle cx="504.4" cy="759.7" r="1.75"/><circle cx="491.0" cy="757.9" r="1.75"/><circle cx="503.6" cy="757.8" r="1.75"/><circle cx="491.5" cy="756.3" r="1.75"/><circle cx="502.2" cy="755.9" r="1.75"/><circle cx="493.4" cy="754.6" r="1.75"/><circle cx="500.8" cy="753.9" r="1.75"/><circle cx="493.3" cy="752.2" r="1.75"/><circle cx="500.3" cy="752.6" r="1.75"/><circle cx="494.0" cy="750.9" r="1.75"/><circle cx="500.9" cy="750.5" r="1.75"/><circle cx="493.9" cy="748.9" r="1.75"/><circle cx="500.5" cy="749.1" r="1.75"/><circle cx="493.3" cy="746.9" r="1.75"/><circle cx="500.2" cy="746.8" r="1.75"/><circle cx="493.5" cy="745.1" r="1.75"/><circle cx="500.0" cy="744.7" r="1.75"/><circle cx="493.2" cy="742.7" r="1.75"/><circle cx="500.6" cy="743.3" r="1.75"/><circle cx="493.3" cy="740.9" r="1.75"/><circle cx="501.7" cy="741.3" r="1.75"/><circle cx="492.9" cy="739.3" r="1.75"/><circle cx="501.5" cy="739.2" r="1.75"/><circle cx="493.3" cy="737.6" r="1.75"/><circle cx="501.4" cy="737.5" r="1.75"/><circle cx="493.3" cy="735.7" r="1.75"/><circle cx="500.8" cy="735.2" r="1.75"/><circle cx="493.4" cy="733.7" r="1.75"/><circle cx="500.7" cy="733.9" r="1.75"/><circle cx="493.1" cy="732.0" r="1.75"/><circle cx="501.5" cy="731.9" r="1.75"/><circle cx="493.3" cy="729.7" r="1.75"/><circle cx="501.1" cy="730.2" r="1.75"/><circle cx="494.0" cy="727.9" r="1.75"/><circle cx="500.6" cy="728.0" r="1.75"/><circle cx="494.2" cy="726.5" r="1.75"/><circle cx="500.1" cy="726.4" r="1.75"/><circle cx="495.1" cy="724.5" r="1.75"/><circle cx="498.4" cy="724.4" r="1.75"/><circle cx="495.5" cy="722.7" r="1.75"/><circle cx="499.1" cy="722.2" r="1.75"/><circle cx="496.0" cy="720.5" r="1.75"/><circle cx="497.9" cy="720.7" r="1.75"/><circle cx="495.8" cy="718.6" r="1.75"/><circle cx="498.2" cy="718.7" r="1.75"/><circle cx="495.9" cy="716.6" r="1.75"/><circle cx="497.6" cy="717.1" r="1.75"/><circle cx="496.2" cy="715.1" r="1.75"/><circle cx="497.3" cy="714.8" r="1.75"/><circle cx="497.2" cy="713.1" r="1.75"/><circle cx="497.4" cy="711.2" r="1.75"/><circle cx="497.4" cy="710.1" r="1.75"/><circle cx="496.9" cy="708.2" r="1.75"/><circle cx="497.4" cy="706.4" r="1.75"/><circle cx="496.9" cy="704.5" r="1.75"/><circle cx="497.4" cy="702.6" r="1.75"/><circle cx="496.9" cy="700.7" r="1.75"/><circle cx="497.4" cy="698.8" r="1.75"/><circle cx="496.9" cy="697.0" r="1.75"/><circle cx="497.4" cy="695.1" r="1.75"/><circle cx="496.9" cy="693.2" r="1.75"/><circle cx="497.4" cy="691.3" r="1.75"/><circle cx="496.9" cy="689.4" r="1.75"/><circle cx="497.4" cy="687.6" r="1.75"/><circle cx="496.9" cy="685.7" r="1.75"/><circle cx="497.4" cy="683.8" r="1.75"/><circle cx="497.1" cy="666.9" r="1.75"/><circle cx="489.8" cy="759.0" r="1.75"/><circle cx="492.2" cy="759.0" r="1.75"/><circle cx="494.7" cy="759.0" r="1.75"/><circle cx="497.1" cy="759.0" r="1.75"/><circle cx="499.5" cy="759.0" r="1.75"/><circle cx="502.0" cy="759.0" r="1.75"/><circle cx="504.4" cy="759.0" r="1.75"/>
</g>
<path d="M525.3 752.8L525.3 750.9L525.3 749.0L525.3 747.1L525.2 745.2L525.4 743.4L524.4 741.5L524.8 739.6L525.2 737.7L524.3 735.8L524.1 733.9L523.5 732.0L524.6 730.2L523.5 728.3L524.9 726.4L523.0 724.5L523.8 722.6L522.9 720.7L521.5 718.8L522.2 716.9L520.3 715.1L519.6 713.2L519.6 711.3L518.9 709.4L518.0 707.5L517.8 705.6L516.8 703.7L517.2 701.8L519.8 700.0L520.1 698.1L520.8 696.2L520.5 694.3L521.4 692.4L521.3 690.5L520.5 688.6L521.3 686.7L521.1 684.9L520.7 683.0L520.8 681.1L521.4 679.2L523.4 677.3L521.9 675.4L522.7 673.5L522.0 671.7L524.4 669.8L523.2 667.9L524.5 666.0L525.3 664.1L525.4 662.2L524.7 660.3L524.1 658.4L524.4 656.6L525.3 654.7L525.3 652.8L525.9 652.8L525.9 654.7L525.8 656.6L526.9 658.4L527.4 660.3L527.2 662.2L526.9 664.1L527.1 666.0L526.6 667.9L527.5 669.8L528.4 671.7L529.2 673.5L527.7 675.4L529.1 677.3L529.7 679.2L529.4 681.1L530.7 683.0L528.9 684.9L530.1 686.7L530.1 688.6L529.6 690.5L531.2 692.4L529.9 694.3L531.0 696.2L531.3 698.1L532.1 700.0L532.9 701.8L533.7 703.7L534.2 705.6L532.1 707.5L531.7 709.4L530.9 711.3L529.6 713.2L529.4 715.1L528.8 716.9L528.9 718.8L528.0 720.7L527.4 722.6L528.1 724.5L527.5 726.4L528.1 728.3L527.2 730.2L526.6 732.0L526.6 733.9L527.4 735.8L525.8 737.7L525.8 739.6L526.1 741.5L525.8 743.4L525.8 745.2L525.9 747.1L525.9 749.0L525.9 750.9L525.9 752.8Z" fill="#000"/>
<g fill="#000">
<circle cx="526.1" cy="752.8" r="1.75"/><circle cx="526.1" cy="750.9" r="1.75"/><circle cx="525.6" cy="749.0" r="1.75"/><circle cx="525.2" cy="747.1" r="1.75"/><circle cx="525.2" cy="745.6" r="1.75"/><circle cx="525.8" cy="745.2" r="1.75"/><circle cx="525.4" cy="743.4" r="1.75"/><circle cx="525.8" cy="743.7" r="1.75"/><circle cx="524.4" cy="741.7" r="1.75"/><circle cx="526.1" cy="741.6" r="1.75"/><circle cx="524.8" cy="739.4" r="1.75"/><circle cx="525.8" cy="739.6" r="1.75"/><circle cx="525.2" cy="737.6" r="1.75"/><circle cx="525.8" cy="738.0" r="1.75"/><circle cx="524.3" cy="736.0" r="1.75"/><circle cx="527.4" cy="735.6" r="1.75"/><circle cx="524.1" cy="733.8" r="1.75"/><circle cx="526.6" cy="733.7" r="1.75"/><circle cx="523.5" cy="731.9" r="1.75"/><circle cx="526.6" cy="732.0" r="1.75"/><circle cx="524.6" cy="730.3" r="1.75"/><circle cx="527.2" cy="729.9" r="1.75"/><circle cx="523.5" cy="728.5" r="1.75"/><circle cx="528.1" cy="728.0" r="1.75"/><circle cx="524.9" cy="726.1" r="1.75"/><circle cx="527.5" cy="726.6" r="1.75"/><circle cx="523.0" cy="724.3" r="1.75"/><circle cx="528.1" cy="724.2" r="1.75"/><circle cx="523.8" cy="722.6" r="1.75"/><circle cx="527.4" cy="722.5" r="1.75"/><circle cx="522.9" cy="720.4" r="1.75"/><circle cx="528.0" cy="720.9" r="1.75"/><circle cx="521.5" cy="718.4" r="1.75"/><circle cx="528.9" cy="718.6" r="1.75"/><circle cx="522.2" cy="716.6" r="1.75"/><circle cx="528.8" cy="717.2" r="1.75"/><circle cx="520.3" cy="714.8" r="1.75"/><circle cx="529.4" cy="714.9" r="1.75"/><circle cx="519.6" cy="713.0" r="1.75"/><circle cx="529.6" cy="713.2" r="1.75"/><circle cx="519.6" cy="711.2" r="1.75"/><circle cx="530.9" cy="711.2" r="1.75"/><circle cx="518.9" cy="709.5" r="1.75"/><circle cx="531.7" cy="709.7" r="1.75"/><circle cx="518.0" cy="707.1" r="1.75"/><circle cx="532.1" cy="707.7" r="1.75"/><circle cx="517.8" cy="705.5" r="1.75"/><circle cx="534.2" cy="705.8" r="1.75"/><circle cx="516.8" cy="703.8" r="1.75"/><circle cx="533.7" cy="703.8" r="1.75"/><circle cx="517.2" cy="702.2" r="1.75"/><circle cx="532.9" cy="701.9" r="1.75"/><circle cx="519.8" cy="700.2" r="1.75"/><circle cx="532.1" cy="699.9" r="1.75"/><circle cx="520.1" cy="698.5" r="1.75"/><circle cx="531.3" cy="698.3" r="1.75"/><circle cx="520.8" cy="696.3" r="1.75"/><circle cx="531.0" cy="696.3" r="1.75"/><circle cx="520.5" cy="694.0" r="1.75"/><circle cx="529.9" cy="694.6" r="1.75"/><circle cx="521.4" cy="692.1" r="1.75"/><circle cx="531.2" cy="692.8" r="1.75"/><circle cx="521.3" cy="690.6" r="1.75"/><circle cx="529.6" cy="690.2" r="1.75"/><circle cx="520.5" cy="688.4" r="1.75"/><circle cx="530.1" cy="688.5" r="1.75"/><circle cx="521.3" cy="687.1" r="1.75"/><circle cx="530.1" cy="686.6" r="1.75"/><circle cx="521.1" cy="685.1" r="1.75"/><circle cx="528.9" cy="684.5" r="1.75"/><circle cx="520.7" cy="682.6" r="1.75"/><circle cx="530.7" cy="683.0" r="1.75"/><circle cx="520.8" cy="680.8" r="1.75"/><circle cx="529.4" cy="680.7" r="1.75"/><circle cx="521.4" cy="679.4" r="1.75"/><circle cx="529.7" cy="679.1" r="1.75"/><circle cx="523.4" cy="677.7" r="1.75"/><circle cx="529.1" cy="677.5" r="1.75"/><circle cx="521.9" cy="675.3" r="1.75"/><circle cx="527.7" cy="675.4" r="1.75"/><circle cx="522.7" cy="673.5" r="1.75"/><circle cx="529.2" cy="673.7" r="1.75"/><circle cx="522.0" cy="671.7" r="1.75"/><circle cx="528.4" cy="671.9" r="1.75"/><circle cx="524.4" cy="669.6" r="1.75"/><circle cx="527.5" cy="669.7" r="1.75"/><circle cx="523.2" cy="667.6" r="1.75"/><circle cx="526.6" cy="668.0" r="1.75"/><circle cx="524.5" cy="665.8" r="1.75"/><circle cx="527.1" cy="665.9" r="1.75"/><circle cx="525.3" cy="664.2" r="1.75"/><circle cx="526.9" cy="663.8" r="1.75"/><circle cx="525.4" cy="662.5" r="1.75"/><circle cx="527.2" cy="662.0" r="1.75"/><circle cx="524.7" cy="660.4" r="1.75"/><circle cx="527.4" cy="660.2" r="1.75"/><circle cx="524.1" cy="658.2" r="1.75"/><circle cx="526.9" cy="658.3" r="1.75"/><circle cx="524.4" cy="656.4" r="1.75"/><circle cx="525.8" cy="656.3" r="1.75"/><circle cx="525.7" cy="654.7" r="1.75"/><circle cx="525.6" cy="652.8" r="1.75"/><circle cx="523.6" cy="759.4" r="1.75"/><circle cx="525.6" cy="759.4" r="1.75"/><circle cx="527.6" cy="759.4" r="1.75"/><circle cx="525.6" cy="756.0" r="1.75"/><circle cx="525.4" cy="651.8" r="1.75"/><circle cx="525.9" cy="650.0" r="1.75"/><circle cx="525.4" cy="648.1" r="1.75"/><circle cx="525.9" cy="646.2" r="1.75"/><circle cx="525.4" cy="644.3" r="1.75"/><circle cx="525.9" cy="642.4" r="1.75"/><circle cx="525.4" cy="640.6" r="1.75"/><circle cx="525.9" cy="638.7" r="1.75"/><circle cx="525.4" cy="636.8" r="1.75"/><circle cx="525.9" cy="634.9" r="1.75"/><circle cx="525.4" cy="633.0" r="1.75"/><circle cx="525.6" cy="625.5" r="1.75"/><circle cx="525.6" cy="616.1" r="1.75"/><circle cx="525.6" cy="584.2" r="1.75"/>
</g>
<rect x="372.20" y="753.94" width="23.40" height="2.60" fill="#ff2a0a"/>
<rect x="400.40" y="753.00" width="23.40" height="2.60" fill="#ff2a0a"/>
<rect x="428.70" y="745.67" width="23.40" height="2.60" fill="#ff2a0a"/>
<rect x="457.10" y="742.47" width="23.40" height="2.60" fill="#ff2a0a"/>
<rect x="485.40" y="736.83" width="23.40" height="2.60" fill="#ff2a0a"/>
<rect x="513.90" y="701.49" width="23.40" height="2.60" fill="#ff2a0a"/>
<path d="M381.60 675.60V671.60H412.30V675.60" fill="none" stroke="#000" stroke-width="1.2" stroke-linejoin="round"/>
<text x="395.80" y="667.20" font-size="7.8" text-anchor="middle" class="s">p=&gt;0.9999</text>
<path d="M439.60 638.00V634.00H470.00V638.00" fill="none" stroke="#000" stroke-width="1.2" stroke-linejoin="round"/>
<text x="453.50" y="630.50" font-size="7.8" text-anchor="middle" class="s">p=0.0002</text>
<path d="M495.60 577.50V573.50H525.80V577.50" fill="none" stroke="#000" stroke-width="1.2" stroke-linejoin="round"/>
<text x="508.80" y="568.70" font-size="7.8" text-anchor="middle" class="s">p=&lt;0.0001</text>
<text x="386.50" y="774.00" font-size="10.6" text-anchor="end" transform="rotate(-45 386.50 774.00)">P1 + Vector</text>
<text x="418.20" y="773.70" font-size="10.3" text-anchor="end" transform="rotate(-45 418.20 773.70)">P1 + DIAPH1</text>
<text x="443.00" y="774.00" font-size="10.6" text-anchor="end" transform="rotate(-45 443.00 774.00)">P1 + Vector</text>
<text x="474.90" y="773.70" font-size="10.3" text-anchor="end" transform="rotate(-45 474.90 773.70)">P1 + DIAPH1</text>
<text x="499.70" y="774.00" font-size="10.6" text-anchor="end" transform="rotate(-45 499.70 774.00)">P1 + Vector</text>
<text x="531.70" y="773.70" font-size="10.3" text-anchor="end" transform="rotate(-45 531.70 773.70)">P1 + DIAPH1</text>
</svg>
</body>
</html>
